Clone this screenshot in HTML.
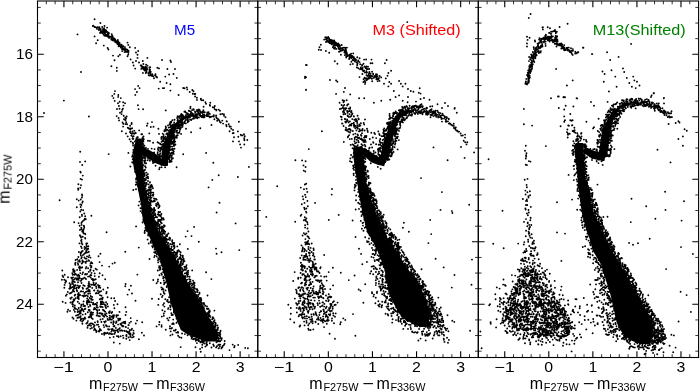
<!DOCTYPE html><html><head><meta charset="utf-8"><style>html,body{margin:0;padding:0;background:#fff;overflow:hidden}svg{display:block}text{will-change:transform}</style></head><body><svg width="700" height="392" viewBox="0 0 700 392"><rect width="700" height="392" fill="#fff"/><g font-family='"Liberation Sans", sans-serif' font-size="15" text-anchor="middle"><text x="184.65" y="35.1" fill="#0000ff" textLength="21.1" lengthAdjust="spacingAndGlyphs">M5</text><text x="416.6" y="35.1" fill="#ff0000" textLength="88.1" lengthAdjust="spacingAndGlyphs">M3 (Shifted)</text><text x="639.2" y="35.1" fill="#008000" textLength="92.7" lengthAdjust="spacingAndGlyphs">M13(Shifted)</text></g><defs><clipPath id="c"><rect x="37.5" y="1.0" width="661.1" height="356.5"/></clipPath></defs><g clip-path="url(#c)"><path d="M137.5 138.5L136.9 139.4L136.4 140.2L135.9 141.1L135.3 142.0L135.1 143.0L134.9 144.0L134.6 145.0L134.4 146.0L134.2 147.0L133.9 148.0L133.7 149.0L133.5 150.0L133.4 151.0L133.4 152.0L133.3 153.0L133.2 154.0L133.2 155.0L133.1 156.0L133.0 157.0L132.9 158.0L132.9 159.0L132.8 160.0L132.9 161.0L133.0 162.0L133.2 163.0L133.3 164.0L133.4 165.0L133.5 166.0L133.7 167.0L133.8 168.0L133.9 169.0L134.2 170.0L134.5 171.0L134.8 172.0L135.1 173.0L135.5 174.0L135.8 175.0L136.1 176.0L136.4 177.0L136.7 178.0L136.8 179.1L136.9 180.1L137.0 181.2L137.1 182.2L137.1 183.3L137.2 184.3L137.3 185.4L137.4 186.4L137.5 187.5L137.7 188.5L137.9 189.5L138.1 190.5L138.3 191.5L138.6 192.4L138.8 193.4L139.0 194.4L139.2 195.4L139.4 196.4L139.6 197.5L139.8 198.6L140.0 199.6L140.2 200.7L140.5 201.8L140.7 202.8L140.9 203.9L141.1 205.0L141.2 206.1L141.3 207.1L141.4 208.2L141.5 209.3L141.6 210.3L141.7 211.4L141.8 212.5L141.9 213.5L142.0 214.6L142.2 215.7L142.4 216.7L142.7 217.8L142.9 218.8L143.1 219.8L143.4 220.9L143.6 221.9L143.8 223.0L144.2 224.0L144.6 225.0L145.0 226.0L145.3 227.0L145.7 228.0L146.1 229.0L146.5 230.0L146.9 231.0L147.3 231.9L147.7 232.9L148.1 233.8L148.5 234.8L148.9 235.7L149.3 236.7L149.8 237.7L150.2 238.6L150.6 239.6L151.0 240.5L151.4 241.5L151.8 242.4L152.2 243.4L152.6 244.3L153.0 245.3L153.4 246.2L153.9 247.1L154.3 248.0L154.8 248.9L155.2 249.8L155.6 250.7L156.1 251.6L156.5 252.5L157.0 253.4L157.4 254.3L157.9 255.2L158.3 256.1L158.7 257.0L159.2 257.9L159.6 258.8L160.1 259.7L160.5 260.6L160.8 261.6L161.0 262.6L161.3 263.7L161.6 264.7L161.8 265.7L162.1 266.7L162.4 267.7L162.6 268.8L162.9 269.8L163.2 270.8L163.4 271.8L163.7 272.8L164.0 273.9L164.2 274.9L164.5 275.9L164.8 276.9L165.1 277.9L165.3 278.9L165.6 279.9L165.9 281.0L166.2 282.0L166.4 283.0L166.7 284.0L167.0 285.0L167.2 286.0L167.4 287.0L167.6 288.0L167.8 289.0L168.0 290.0L168.2 291.0L168.4 292.0L168.7 293.0L168.9 294.0L169.1 295.0L169.3 296.0L169.5 297.0L169.7 298.0L169.9 299.0L170.1 300.0L170.4 301.0L170.7 302.0L171.0 303.0L171.3 304.0L171.6 305.0L171.9 306.0L172.2 307.0L172.6 308.0L172.9 309.0L173.2 310.0L173.5 311.0L173.8 312.0L174.1 313.0L174.4 314.0L174.7 315.0L175.1 315.9L175.5 316.9L175.8 317.8L176.2 318.8L176.6 319.7L177.0 320.6L177.4 321.6L177.8 322.5L178.1 323.4L178.5 324.4L178.9 325.3L179.3 326.2L179.7 327.2L180.0 328.1L180.4 329.1L180.8 330.0L181.7 330.6L182.5 331.1L183.4 331.7L184.2 332.2L185.1 332.8L185.9 333.3L186.8 333.9L187.6 334.4L188.5 335.0L189.5 335.4L190.5 335.8L191.5 336.2L192.5 336.6L193.5 336.9L194.5 337.3L195.5 337.7L196.5 338.1L197.5 338.5L198.5 338.8L199.5 339.2L200.5 339.5L201.5 339.8L202.5 340.2L203.5 340.5L204.5 340.8L205.5 341.2L206.5 341.5L215.5 341.5L215.8 341.2L216.2 340.8L216.5 340.5L216.8 340.2L217.2 339.8L217.5 339.5L217.8 339.2L218.2 338.8L218.5 338.5L218.5 338.1L218.5 337.7L218.5 337.3L218.5 336.9L218.5 336.6L218.5 336.2L218.5 335.8L218.5 335.4L218.5 335.0L218.3 334.4L218.1 333.9L217.8 333.3L217.6 332.8L217.4 332.2L217.2 331.7L216.9 331.1L216.7 330.6L216.5 330.0L215.9 329.1L215.4 328.1L214.8 327.2L214.2 326.2L213.7 325.3L213.1 324.4L212.5 323.4L211.9 322.5L211.4 321.6L210.8 320.6L210.2 319.7L209.7 318.8L209.1 317.8L208.5 316.9L208.0 315.9L207.4 315.0L206.8 314.0L206.2 313.0L205.6 312.0L204.9 311.0L204.3 310.0L203.7 309.0L203.1 308.0L202.5 307.0L201.9 306.0L201.3 305.0L200.7 304.0L200.0 303.0L199.4 302.0L198.8 301.0L198.2 300.0L197.6 299.0L197.0 298.0L196.5 297.0L195.9 296.0L195.3 295.0L194.7 294.0L194.1 293.0L193.6 292.0L193.0 291.0L192.4 290.0L191.8 289.0L191.2 288.0L190.7 287.0L190.1 286.0L189.5 285.0L188.8 284.0L188.2 283.0L187.5 282.0L186.8 281.0L186.2 279.9L185.5 278.9L184.8 277.9L184.2 276.9L183.5 275.9L183.1 274.9L182.6 273.9L182.2 272.8L181.7 271.8L181.3 270.8L180.8 269.8L180.4 268.8L179.9 267.7L179.5 266.7L179.0 265.7L178.6 264.7L178.1 263.7L177.7 262.6L177.2 261.6L176.8 260.6L176.3 259.7L175.7 258.8L175.2 257.9L174.6 257.0L174.1 256.1L173.5 255.2L173.0 254.3L172.4 253.4L171.9 252.5L171.3 251.6L170.8 250.7L170.2 249.8L169.7 248.9L169.1 248.0L168.6 247.1L168.0 246.2L167.5 245.3L166.9 244.3L166.3 243.4L165.7 242.4L165.1 241.5L164.4 240.5L163.8 239.6L163.2 238.6L162.6 237.7L162.0 236.7L161.4 235.7L160.8 234.8L160.1 233.8L159.5 232.9L158.9 231.9L158.3 231.0L157.7 230.0L157.4 229.0L157.2 228.0L156.9 227.0L156.6 226.0L156.3 225.0L156.1 224.0L155.8 223.0L155.4 221.9L154.9 220.9L154.5 219.8L154.1 218.8L153.6 217.8L153.2 216.7L152.7 215.7L152.3 214.6L151.9 213.5L151.5 212.5L151.2 211.4L150.8 210.3L150.4 209.3L150.0 208.2L149.7 207.1L149.3 206.1L148.9 205.0L148.7 203.9L148.4 202.8L148.2 201.8L147.9 200.7L147.7 199.6L147.4 198.6L147.2 197.5L146.9 196.4L146.7 195.4L146.5 194.4L146.3 193.4L146.1 192.4L145.9 191.5L145.7 190.5L145.5 189.5L145.3 188.5L145.1 187.5L144.9 186.4L144.7 185.4L144.6 184.3L144.4 183.3L144.2 182.2L144.0 181.2L143.9 180.1L143.7 179.1L143.5 178.0L143.4 177.0L143.4 176.0L143.3 175.0L143.3 174.0L143.2 173.0L143.2 172.0L143.1 171.0L143.1 170.0L143.0 169.0L143.0 168.0L142.9 167.0L142.9 166.0L142.9 165.0L142.8 164.0L142.8 163.0L142.8 162.0L142.7 161.0L142.7 160.0L142.7 159.0L142.8 158.0L142.8 157.0L142.8 156.0L142.8 155.0L142.9 154.0L142.9 153.0L142.9 152.0L143.0 151.0L143.0 150.0L143.0 149.0L142.9 148.0L142.9 147.0L142.8 146.0L142.8 145.0L142.8 144.0L142.7 143.0L142.7 142.0L142.1 141.1L141.6 140.2L141.1 139.4L140.5 138.5ZM139.8 153.3L140.8 153.8L141.8 154.3L142.8 154.8L143.7 155.2L144.7 155.7L145.4 156.1L146.0 156.6L146.9 157.3L147.7 157.9L148.6 158.6L149.5 159.2L150.2 159.8L151.1 160.3L152.1 160.9L153.0 161.5L154.0 162.1L155.0 162.7L156.3 163.5L157.7 164.1L158.7 164.4L159.8 164.8L160.8 165.1L161.8 165.4L163.2 165.9L164.6 166.0L165.7 166.0L166.7 166.0L167.7 166.0L168.3 161.0L167.3 160.8L166.3 160.5L165.4 160.3L164.8 160.1L164.2 159.7L163.2 159.2L162.2 158.8L161.3 158.3L160.3 157.8L159.7 157.5L159.2 156.9L158.3 156.2L157.5 155.5L156.6 154.7L155.7 154.0L154.8 153.2L153.7 152.6L152.7 152.1L151.8 151.6L150.8 151.1L149.8 150.6L148.6 149.9L147.3 149.4L146.3 149.1L145.2 148.8L144.2 148.4L143.2 148.1L142.2 147.7ZM168.0 162.2L168.1 161.2L168.2 160.2L168.3 159.2L168.4 158.2L168.6 157.2L168.7 156.2L168.8 155.2L168.9 154.2L169.0 153.4L169.1 152.6L169.3 151.6L169.5 150.6L169.6 149.6L169.8 148.6L170.0 147.6L170.1 146.6L170.3 145.6L170.4 144.9L170.6 144.2L170.9 143.2L171.2 142.2L171.5 141.1L171.9 140.1L172.2 139.1L172.5 138.1L172.7 137.2L173.1 136.3L173.5 135.2L173.8 134.2L174.2 133.1L174.6 132.1L175.0 131.0L175.4 130.0L175.7 129.1L176.2 128.4L176.7 127.5L177.3 126.7L177.9 125.8L178.5 125.0L179.0 124.1L179.6 123.3L180.0 122.6L180.7 122.1L181.5 121.5L182.3 120.9L183.2 120.3L184.0 119.7L184.9 119.1L185.7 118.5L186.4 117.9L187.3 117.5L188.3 117.1L189.3 116.6L190.3 116.2L191.2 115.8L192.2 115.3L193.2 114.9L194.1 114.5L195.0 114.4L196.0 114.3L197.0 114.2L198.0 114.1L199.0 113.9L200.0 113.8L201.0 113.7L202.0 113.6L202.0 113.5L201.0 113.5L200.0 113.5L199.0 113.5L198.0 113.5L197.0 113.5L196.0 113.5L195.0 113.5L193.9 113.5L192.8 113.8L191.8 114.2L190.8 114.5L189.7 114.8L188.7 115.1L187.7 115.4L186.7 115.7L185.6 116.1L184.6 116.7L183.6 117.2L182.7 117.7L181.8 118.2L180.9 118.7L180.0 119.2L179.1 119.7L178.0 120.4L177.1 121.4L176.5 122.1L175.8 122.9L175.1 123.7L174.4 124.5L173.8 125.2L173.1 126.0L172.3 126.9L171.6 128.0L171.0 129.0L170.4 129.9L169.8 130.9L169.2 131.8L168.5 132.8L167.9 133.7L167.3 134.8L166.8 135.9L166.3 136.9L165.9 137.9L165.5 138.9L165.0 139.8L164.6 140.8L164.2 141.8L163.6 143.1L163.4 144.4L163.2 145.4L163.0 146.4L162.9 147.4L162.7 148.4L162.5 149.4L162.4 150.4L162.2 151.4L162.0 152.6L162.0 153.8L162.0 154.8L162.0 155.8L162.0 156.8L162.0 157.8L162.0 158.8L162.0 159.8L162.0 160.8L162.0 161.8ZM355.5 146.5L355.0 147.5L354.5 148.5L354.0 149.5L353.5 150.5L353.5 151.6L353.4 152.7L353.4 153.8L353.3 154.9L353.3 156.0L353.4 157.0L353.6 158.0L353.7 159.0L353.8 160.0L354.0 161.0L354.1 162.0L354.2 163.0L354.4 164.0L354.5 165.0L354.7 166.0L354.8 167.0L355.0 168.0L355.1 169.0L355.3 170.0L355.4 171.0L355.6 172.0L355.7 173.0L355.9 174.0L356.0 175.0L356.2 176.0L356.3 177.0L356.5 178.0L356.6 179.0L356.8 180.0L356.9 181.0L357.1 182.0L357.2 183.0L357.4 184.0L357.6 185.0L357.7 186.0L357.9 187.0L358.0 188.0L358.1 189.0L358.3 190.0L358.4 191.0L358.6 192.0L358.8 193.0L358.9 194.0L359.1 195.0L359.2 196.0L359.4 197.0L359.6 198.0L359.8 199.0L360.0 200.0L360.2 201.0L360.4 202.0L360.6 203.0L360.8 204.0L360.9 205.0L361.1 206.0L361.3 207.0L361.5 208.0L361.7 209.0L361.9 210.0L362.1 211.0L362.3 212.0L362.5 213.0L362.7 214.0L362.9 215.0L363.2 216.0L363.4 217.0L363.6 218.0L363.9 219.0L364.1 220.0L364.4 221.0L364.6 222.0L364.8 223.0L365.1 224.0L365.3 225.0L365.6 226.0L365.8 227.0L366.0 228.0L366.3 229.0L366.5 230.0L367.0 230.9L367.5 231.8L368.0 232.7L368.5 233.6L369.0 234.5L369.5 235.5L370.0 236.4L370.5 237.3L371.0 238.2L371.5 239.1L372.0 240.0L372.5 240.9L372.9 241.9L373.4 242.8L373.9 243.8L374.3 244.7L374.8 245.6L375.3 246.6L375.8 247.5L376.2 248.4L376.7 249.4L377.2 250.3L377.6 251.2L378.1 252.2L378.6 253.1L379.0 254.1L379.5 255.0L379.8 256.0L380.2 257.0L380.5 258.0L380.8 259.0L381.2 260.0L381.5 261.0L381.8 262.0L382.2 263.0L382.5 264.0L382.8 265.0L383.2 266.0L383.5 267.0L383.8 268.0L384.2 269.0L384.5 270.0L384.7 271.0L384.9 272.0L385.1 273.0L385.3 274.0L385.5 275.0L385.7 276.0L385.9 277.0L386.1 278.0L386.3 279.0L386.5 280.0L386.7 281.0L386.9 282.0L387.1 283.0L387.3 284.0L387.5 285.0L387.6 286.0L387.8 287.0L387.9 288.0L388.0 289.0L388.1 290.0L388.2 291.0L388.4 292.0L388.5 293.0L389.0 294.0L389.5 295.0L390.0 296.0L390.5 297.0L391.0 298.0L391.5 299.0L392.0 300.0L392.5 301.0L393.0 302.0L393.5 303.0L394.0 304.0L394.5 305.0L395.0 306.0L395.5 307.0L396.0 308.0L396.6 309.0L397.2 310.0L397.8 311.0L398.3 312.0L398.9 313.0L399.5 314.0L400.2 314.8L401.0 315.5L401.8 316.2L402.5 317.0L403.2 317.8L404.0 318.5L404.8 319.2L405.5 320.0L406.5 320.5L407.5 321.0L408.5 321.5L409.5 322.0L410.5 322.5L411.5 323.0L412.5 323.5L413.5 324.0L414.5 324.4L415.5 324.9L416.5 325.3L417.5 325.7L418.5 326.1L419.5 326.6L420.5 327.0L424.5 327.0L424.8 326.6L425.1 326.1L425.4 325.7L425.6 325.3L425.9 324.9L426.2 324.4L426.5 324.0L426.7 323.5L426.9 323.0L427.1 322.5L427.2 322.0L427.4 321.5L427.6 321.0L427.8 320.5L428.0 320.0L428.1 319.2L428.2 318.5L428.4 317.8L428.5 317.0L428.6 316.2L428.8 315.5L428.9 314.8L429.0 314.0L428.9 313.0L428.8 312.0L428.8 311.0L428.7 310.0L428.6 309.0L428.5 308.0L428.2 307.0L427.9 306.0L427.6 305.0L427.2 304.0L426.9 303.0L426.6 302.0L426.3 301.0L426.0 300.0L425.6 299.0L425.1 298.0L424.7 297.0L424.3 296.0L423.9 295.0L423.4 294.0L423.0 293.0L422.6 292.0L422.2 291.0L421.9 290.0L421.5 289.0L421.1 288.0L420.8 287.0L420.4 286.0L420.0 285.0L419.2 284.0L418.4 283.0L417.6 282.0L416.8 281.0L416.0 280.0L415.2 279.0L414.4 278.0L413.6 277.0L412.8 276.0L412.0 275.0L411.2 274.0L410.4 273.0L409.6 272.0L408.8 271.0L408.0 270.0L407.4 269.0L406.7 268.0L406.1 267.0L405.5 266.0L404.8 265.0L404.2 264.0L403.6 263.0L402.9 262.0L402.3 261.0L401.7 260.0L401.0 259.0L400.4 258.0L399.8 257.0L399.1 256.0L398.5 255.0L397.9 254.1L397.2 253.1L396.6 252.2L396.0 251.2L395.4 250.3L394.8 249.4L394.1 248.4L393.5 247.5L392.9 246.6L392.2 245.6L391.6 244.7L391.0 243.8L390.4 242.8L389.8 241.9L389.1 240.9L388.5 240.0L388.0 239.1L387.5 238.2L387.0 237.3L386.5 236.4L386.0 235.5L385.5 234.5L385.0 233.6L384.5 232.7L384.0 231.8L383.5 230.9L383.0 230.0L382.6 229.0L382.2 228.0L381.8 227.0L381.4 226.0L381.0 225.0L380.6 224.0L380.2 223.0L379.8 222.0L379.3 221.0L378.9 220.0L378.5 219.0L378.1 218.0L377.7 217.0L377.3 216.0L376.9 215.0L376.5 214.0L376.1 213.0L375.8 212.0L375.4 211.0L375.1 210.0L374.7 209.0L374.3 208.0L374.0 207.0L373.6 206.0L373.2 205.0L372.9 204.0L372.5 203.0L372.2 202.0L371.8 201.0L371.4 200.0L371.1 199.0L370.7 198.0L370.4 197.0L370.0 196.0L369.7 195.0L369.5 194.0L369.2 193.0L369.0 192.0L368.7 191.0L368.4 190.0L368.2 189.0L367.9 188.0L367.6 187.0L367.4 186.0L367.1 185.0L366.9 184.0L366.6 183.0L366.3 182.0L366.1 181.0L365.8 180.0L365.6 179.0L365.3 178.0L365.2 177.0L365.1 176.0L365.0 175.0L364.9 174.0L364.8 173.0L364.7 172.0L364.6 171.0L364.5 170.0L364.4 169.0L364.3 168.0L364.2 167.0L364.1 166.0L364.0 165.0L363.9 164.0L363.8 163.0L363.7 162.0L363.6 161.0L363.4 160.0L363.3 159.0L363.2 158.0L363.1 157.0L363.0 156.0L363.2 154.9L363.4 153.8L363.6 152.7L363.8 151.6L364.0 150.5L363.4 149.5L362.8 148.5L362.1 147.5L361.5 146.5ZM361.1 152.8L361.9 153.6L362.7 154.3L363.5 155.0L364.3 155.8L365.0 156.5L365.8 157.2L366.6 158.0L367.4 158.7L368.2 159.4L368.9 160.2L369.7 160.9L370.9 161.9L372.2 162.5L373.3 162.9L374.3 163.4L375.4 163.8L376.4 164.2L377.7 164.7L378.9 165.1L379.9 165.3L381.0 165.6L382.0 165.8L383.0 166.1L384.1 166.3L385.9 160.7L385.0 160.2L384.0 159.8L383.0 159.4L382.1 159.0L381.1 158.6L380.3 158.3L379.6 157.8L378.6 157.2L377.7 156.6L376.7 156.1L375.8 155.5L375.1 155.1L374.6 154.8L373.7 154.2L372.8 153.6L372.0 153.0L371.1 152.4L370.2 151.8L369.3 151.2L368.4 150.6L367.5 150.0L366.6 149.4L365.8 148.8L364.9 148.2ZM388.4 160.8L388.5 159.8L388.7 158.8L388.8 157.8L388.9 156.8L389.1 155.8L389.2 154.8L389.3 153.7L389.4 152.8L389.6 151.8L389.8 150.8L390.0 149.8L390.2 148.8L390.4 147.8L390.6 146.8L390.8 145.8L391.0 144.8L391.2 144.0L391.4 143.3L391.6 142.3L391.9 141.3L392.2 140.3L392.5 139.3L392.7 138.3L393.0 137.4L393.3 136.4L393.6 135.4L393.8 134.5L394.1 133.5L394.4 132.4L394.8 131.4L395.1 130.3L395.5 129.3L395.8 128.2L396.1 127.2L396.5 126.1L396.7 125.3L397.0 124.7L397.5 123.8L397.9 122.9L398.4 122.0L398.9 121.1L399.4 120.2L399.8 119.3L400.3 118.4L400.8 117.5L401.0 116.9L401.5 116.5L402.3 115.8L403.2 115.1L404.0 114.4L404.9 113.7L405.7 113.0L406.4 112.4L407.2 112.2L408.2 112.0L409.1 111.7L410.1 111.5L411.1 111.2L412.1 111.0L413.1 110.7L414.0 110.5L415.0 110.4L416.0 110.4L417.0 110.3L418.0 110.2L419.0 110.2L420.0 110.1L421.0 110.1L421.0 109.9L420.0 109.9L419.0 109.8L418.0 109.8L417.0 109.7L416.0 109.6L415.0 109.6L414.0 109.5L412.9 109.6L411.9 109.8L410.9 109.9L409.9 110.0L408.9 110.1L407.8 110.3L406.8 110.4L405.6 110.6L404.5 111.1L403.5 111.6L402.5 112.0L401.5 112.5L400.5 112.9L399.5 113.4L398.2 114.1L397.3 115.2L396.6 116.0L396.0 116.8L395.4 117.6L394.7 118.4L394.1 119.2L393.4 120.0L392.8 120.8L392.1 121.6L391.3 122.7L390.8 124.0L390.3 125.0L389.9 126.0L389.4 127.0L389.0 128.0L388.5 129.0L388.1 130.0L387.7 131.1L387.2 132.1L386.8 133.2L386.4 134.1L386.1 135.1L385.7 136.0L385.3 137.0L385.0 137.9L384.6 138.9L384.2 139.8L383.9 140.8L383.4 142.0L383.2 143.2L383.0 144.2L382.8 145.2L382.6 146.2L382.4 147.2L382.2 148.2L382.0 149.2L381.8 150.2L381.6 151.2L381.3 152.3L381.1 153.2L380.8 154.2L380.6 155.2L380.3 156.2L380.1 157.2L379.8 158.2L379.6 159.2ZM576.0 143.0L575.6 144.0L575.2 145.0L574.9 146.0L574.5 147.0L574.5 148.0L574.6 149.0L574.6 150.0L574.6 151.0L574.7 152.0L574.7 153.0L574.8 154.0L575.0 155.0L575.1 156.0L575.3 157.0L575.4 158.0L575.6 159.0L575.7 160.0L575.8 161.0L575.9 162.0L576.0 163.0L576.1 164.0L576.2 165.0L576.3 166.0L576.4 167.0L576.5 168.0L576.6 169.0L576.7 170.0L576.8 171.0L576.9 172.0L577.0 173.0L577.1 174.0L577.2 175.0L577.3 176.0L577.4 177.0L577.5 178.0L577.6 179.0L577.7 180.0L577.8 181.0L577.9 182.0L578.0 183.0L578.1 184.0L578.2 185.0L578.3 186.0L578.5 187.0L578.6 188.0L578.7 189.0L578.8 190.0L578.9 191.0L579.0 192.0L579.1 193.0L579.2 194.0L579.3 195.0L579.4 196.0L579.5 197.0L579.7 198.0L579.8 199.0L580.0 200.0L580.1 201.0L580.3 202.0L580.4 203.0L580.6 204.0L580.7 205.0L580.8 206.0L581.0 207.0L581.1 208.0L581.3 209.0L581.4 210.0L581.6 211.0L581.7 212.0L581.9 213.0L582.0 214.0L582.3 215.0L582.5 216.0L582.8 217.0L583.1 218.0L583.3 219.0L583.6 220.0L583.9 221.0L584.1 222.0L584.4 223.0L584.7 224.0L585.0 225.0L585.2 226.0L585.5 227.0L585.8 228.0L586.0 229.0L586.3 230.0L586.7 231.0L587.0 232.0L587.4 233.0L587.8 234.0L588.1 235.0L588.5 236.0L588.9 237.0L589.3 238.0L589.6 239.0L590.0 240.0L590.2 241.0L590.5 242.0L590.8 243.0L591.0 244.0L591.2 245.0L591.5 246.0L591.8 247.0L592.0 248.0L592.2 249.0L592.5 250.0L593.0 250.9L593.5 251.8L594.0 252.6L594.5 253.5L595.1 254.4L595.6 255.3L596.1 256.2L596.6 257.1L597.1 257.9L597.6 258.8L598.1 259.7L598.6 260.6L599.2 261.5L599.7 262.4L600.2 263.2L600.7 264.1L601.2 265.0L601.5 266.0L601.8 267.0L602.1 268.0L602.4 269.0L602.7 270.0L603.0 271.0L603.3 272.0L603.7 273.0L604.0 274.0L604.3 275.0L604.6 276.0L604.9 277.0L605.2 278.0L605.5 279.0L605.8 280.0L606.1 281.0L606.4 282.0L606.7 283.0L607.1 284.0L607.4 285.0L607.7 286.0L608.0 287.0L608.3 288.0L608.6 289.0L608.9 290.0L609.2 291.0L609.6 292.0L609.9 293.0L610.2 294.0L610.5 295.0L610.7 296.0L611.0 297.0L611.2 298.0L611.4 299.0L611.7 300.0L611.9 301.0L612.1 302.0L612.3 303.0L612.6 304.0L612.8 305.0L613.0 306.0L613.3 307.0L613.5 308.0L613.8 309.1L614.0 310.2L614.3 311.2L614.6 312.3L614.8 313.4L615.1 314.5L615.3 315.6L615.5 316.6L615.7 317.7L615.9 318.8L616.1 319.9L616.3 320.9L616.5 322.0L616.9 323.0L617.4 324.0L617.8 325.0L618.2 326.0L618.6 327.0L619.1 328.0L619.5 329.0L620.1 329.9L620.8 330.8L621.4 331.6L622.0 332.5L622.6 333.4L623.2 334.2L623.9 335.1L624.5 336.0L625.4 336.6L626.3 337.1L627.2 337.7L628.1 338.2L628.9 338.8L629.8 339.3L630.7 339.9L631.6 340.4L632.5 341.0L633.5 341.4L634.5 341.8L635.5 342.1L636.5 342.5L637.5 342.9L638.5 343.2L639.5 343.6L640.5 344.0L649.5 344.0L649.8 343.6L650.0 343.2L650.2 342.9L650.5 342.5L650.8 342.1L651.0 341.8L651.2 341.4L651.5 341.0L651.6 340.4L651.7 339.9L651.8 339.3L651.9 338.8L652.1 338.2L652.2 337.7L652.3 337.1L652.4 336.6L652.5 336.0L652.6 335.1L652.8 334.2L652.9 333.4L653.0 332.5L653.1 331.6L653.2 330.8L653.4 329.9L653.5 329.0L653.3 328.0L653.0 327.0L652.8 326.0L652.6 325.0L652.4 324.0L652.1 323.0L651.9 322.0L651.5 320.9L651.1 319.9L650.7 318.8L650.2 317.7L649.8 316.6L649.4 315.6L649.0 314.5L648.2 313.4L647.5 312.3L646.8 311.2L646.0 310.2L645.2 309.1L644.5 308.0L643.9 307.0L643.3 306.0L642.8 305.0L642.2 304.0L641.6 303.0L641.0 302.0L640.5 301.0L639.9 300.0L639.3 299.0L638.7 298.0L638.2 297.0L637.6 296.0L637.0 295.0L636.5 294.0L636.0 293.0L635.5 292.0L634.9 291.0L634.4 290.0L633.9 289.0L633.4 288.0L632.9 287.0L632.4 286.0L631.9 285.0L631.4 284.0L630.8 283.0L630.3 282.0L629.8 281.0L629.3 280.0L628.7 279.0L628.1 278.0L627.5 277.0L626.8 276.0L626.2 275.0L625.6 274.0L625.0 273.0L624.4 272.0L623.8 271.0L623.2 270.0L622.6 269.0L621.9 268.0L621.3 267.0L620.7 266.0L620.1 265.0L619.6 264.1L619.0 263.2L618.5 262.4L618.0 261.5L617.4 260.6L616.9 259.7L616.4 258.8L615.8 257.9L615.3 257.1L614.7 256.2L614.2 255.3L613.7 254.4L613.1 253.5L612.6 252.6L612.1 251.8L611.5 250.9L611.0 250.0L610.5 249.0L610.1 248.0L609.6 247.0L609.2 246.0L608.8 245.0L608.3 244.0L607.9 243.0L607.4 242.0L607.0 241.0L606.5 240.0L606.0 239.0L605.4 238.0L604.9 237.0L604.3 236.0L603.8 235.0L603.2 234.0L602.6 233.0L602.1 232.0L601.5 231.0L601.0 230.0L600.6 229.0L600.1 228.0L599.7 227.0L599.2 226.0L598.8 225.0L598.4 224.0L597.9 223.0L597.5 222.0L597.1 221.0L596.6 220.0L596.2 219.0L595.8 218.0L595.3 217.0L594.9 216.0L594.4 215.0L594.0 214.0L593.8 213.0L593.5 212.0L593.2 211.0L593.0 210.0L592.8 209.0L592.5 208.0L592.2 207.0L592.0 206.0L591.8 205.0L591.5 204.0L591.2 203.0L591.0 202.0L590.8 201.0L590.5 200.0L590.2 199.0L590.0 198.0L589.8 197.0L589.5 196.0L589.3 195.0L589.0 194.0L588.8 193.0L588.6 192.0L588.3 191.0L588.1 190.0L587.9 189.0L587.6 188.0L587.4 187.0L587.2 186.0L586.9 185.0L586.7 184.0L586.5 183.0L586.2 182.0L586.0 181.0L585.8 180.0L585.5 179.0L585.3 178.0L585.2 177.0L585.1 176.0L585.0 175.0L584.9 174.0L584.8 173.0L584.7 172.0L584.6 171.0L584.5 170.0L584.4 169.0L584.3 168.0L584.2 167.0L584.1 166.0L584.0 165.0L583.9 164.0L583.8 163.0L583.7 162.0L583.6 161.0L583.5 160.0L583.4 159.0L583.3 158.0L583.2 157.0L583.2 156.0L583.1 155.0L583.0 154.0L582.9 153.0L583.1 152.0L583.3 151.0L583.5 150.0L583.6 149.0L583.8 148.0L584.0 147.0L583.6 146.0L583.2 145.0L582.9 144.0L582.5 143.0ZM582.5 152.1L583.4 152.8L584.4 153.4L585.3 154.1L586.3 154.8L587.3 155.6L588.4 156.2L589.3 156.8L590.3 157.4L591.3 158.0L592.5 158.7L593.8 159.0L594.8 159.3L595.8 159.6L596.8 159.8L597.9 160.1L599.1 160.4L600.3 160.5L601.4 160.6L602.4 160.7L603.4 160.8L604.4 160.9L605.6 155.1L604.6 154.8L603.6 154.5L602.6 154.2L601.7 153.9L600.9 153.6L600.1 153.3L599.2 152.9L598.2 152.4L597.2 152.0L596.2 151.6L595.5 151.3L594.7 151.0L593.7 150.6L592.7 150.2L591.6 149.8L590.7 149.4L589.7 149.0L588.7 148.5L587.6 148.0L586.6 147.4L585.5 146.9ZM608.0 157.0L607.9 156.0L607.9 155.0L607.8 154.0L607.7 153.0L607.6 152.0L607.6 151.0L607.5 150.2L607.6 149.5L607.7 148.5L607.8 147.5L608.0 146.5L608.1 145.5L608.2 144.5L608.3 143.5L608.4 142.5L608.6 141.5L608.6 140.7L608.8 139.8L608.9 138.8L609.1 137.8L609.3 136.8L609.4 135.8L609.6 134.8L609.7 133.8L609.9 132.7L610.1 131.7L610.2 130.9L610.4 130.1L610.7 129.1L611.0 128.1L611.3 127.1L611.6 126.1L611.9 125.1L612.2 124.0L612.5 123.0L612.8 122.0L613.0 121.3L613.3 120.6L613.7 119.6L614.2 118.7L614.6 117.7L615.0 116.8L615.4 115.8L615.9 114.9L616.3 114.0L616.6 113.3L617.0 112.7L617.7 111.9L618.3 111.1L619.0 110.4L619.7 109.6L620.3 108.8L621.0 108.0L621.5 107.3L622.4 107.0L623.3 106.5L624.3 106.0L625.3 105.6L626.3 105.1L627.3 104.6L628.2 104.2L629.2 103.7L630.1 103.3L631.0 103.2L632.0 103.0L633.0 102.9L634.0 102.8L635.0 102.6L636.0 102.5L637.0 102.4L638.0 102.3L639.0 102.1L639.0 102.0L638.0 102.1L637.0 102.1L636.0 102.1L635.0 102.2L634.0 102.2L633.0 102.2L632.0 102.2L631.0 102.3L629.9 102.3L628.8 102.7L627.8 103.1L626.7 103.4L625.7 103.8L624.7 104.1L623.7 104.5L622.7 104.9L621.6 105.2L620.5 105.7L619.5 106.4L618.7 107.0L617.8 107.5L617.0 108.1L616.2 108.7L615.3 109.3L614.5 109.9L613.4 110.7L612.7 111.8L612.0 112.7L611.4 113.5L610.8 114.3L610.2 115.1L609.6 116.0L608.9 116.8L608.3 117.6L607.6 118.7L607.1 120.0L606.7 121.0L606.3 122.0L605.9 122.9L605.5 123.9L605.1 124.9L604.7 125.9L604.3 126.9L603.9 127.9L603.4 129.1L603.1 130.3L602.9 131.3L602.6 132.2L602.3 133.2L602.1 134.2L601.8 135.2L601.6 136.2L601.3 137.2L601.0 138.2L600.8 139.3L600.6 140.5L600.5 141.5L600.4 142.5L600.2 143.5L600.1 144.5L600.0 145.5L599.9 146.5L599.8 147.5L599.6 148.5L599.5 149.8L599.4 151.0L599.4 152.0L599.3 153.0L599.2 154.0L599.1 155.0L599.1 156.0L599.0 157.0Z" fill="#000"/><path d="M0 0m530.6 14h0m-436 5.3h0m434.2-1.4h0m-436 8.1h0m.5-.2h0m7.1-2.8h0m4.1 3h0m302.8-3.9h0m160.3 1.6h0m-473 3.3h0m.9 .1h0m1.1 .7h0m.5 1.1h0m.6-1.8h0m1.2 2.9h0m.2-1.3h0m.1-.8h0m0 1.7h0m.2-2.3h0m.6 5.6h0m.5-.8h0m.1-2.6h0m.2-.5h0m.1 2.3h0m.1 1.4h0m.2-1.7h0m.1 .5h0m.4 .2h0m.4 .6h0m.1-5.3h0m.2 4.1h0m.2 1.2h0m.2-.5h0m0-2.7h0m.5 2.6h0m0 .3h0m.1-1.8h0m.2-.5h0m0 2.6h0m0-1.5h0m.4 1.1h0m.1-2h0m0-1.6h0m0 1.4h0m.1 2.2h0m0-1.1h0m0 .6h0m.2-1.4h0m.2 .7h0m0-.9h0m.2 3.2h0m.3-2.9h0m.1 2.7h0m.1-2.4h0m.3 .2h0m0 1.8h0m.1-1h0m.1 .1h0m0-1.4h0m.3 1.8h0m.1-1.2h0m.7 1h0m0 .2h0m.2-4.3h0m.9 4.8h0m434.5-5h0m.4 2h0m0-2.2h0m4.8 .1h0m1.4 5.6h0m.1 0h0m.8-4.6h0m1.1 3.4h0m1.6-.1h0m.6-.5h0m1-.1h0m.7-1h0m.8 1.7h0m1 .1h0m2.8-4.8h0m-482.1 7.4h0m17.1 2h0m7.9-3.4h0m1 1.4h0m.8 1.2h0m.5-1.9h0m0-.6h0m.1 2.6h0m.7-1.3h0m.1 .6h0m.5 .9h0m.6 0h0m.6-1.4h0m.1 2.1h0m.1-2.4h0m.6 1.3h0m.1-.3h0m.2 1.4h0m.1-.8h0m0-2.1h0m.4-.4h0m0 3.1h0m.1 1.5h0m.4-1.3h0m1.3 .1h0m.5 .2h0m0 1.7h0m0-.6h0m.4-3.9h0m.2 1h0m0 2.4h0m.6 .8h0m.2-1.9h0m.3 2.3h0m.6-.5h0m.9 .5h0m210.7-1.2h0m.9-.3h0m1 .9h0m0 .6h0m1.1-1.8h0m.5 .9h0m.4 .8h0m0-.2h0m197.9-1.6h0m2.6 1h0m9.8 .3h0m1.7 .7h0m1.8-.1h0m.4 .2h0m.1-1.3h0m.9 1.1h0m.5-.4h0m.3-1.4h0m.2-1.2h0m.1 2h0m.1-.5h0m.3 .2h0m.1-2.6h0m.1 1.2h0m.4 2.9h0m.3-.6h0m1.2-1.7h0m.1 .8h0m0 .3h0m.3-.7h0m.1 .3h0m0-.4h0m.6-.3h0m0 1.9h0m.3-.5h0m.2-.4h0m.2 .7h0m.4-.9h0m.1 .1h0m.4-4h0m.1 3.3h0m.1 1.3h0m.1 .1h0m.4-4.3h0m0 3.5h0m.1-1.4h0m0 1.2h0m1.3-.6h0m.2-.2h0m2.1 1.7h0m.2-.3h0m.4 .9h0m0-2.7h0m.1 1.9h0m.1-4.6h0m.3 4.2h0m.5 0h0m.5-1.3h0m-461 7.1h0m1.6-3h0m13.6-.8h0m1.2 .7h0m.9-.7h0m.5 1h0m.3-1.5h0m.1 1.2h0m.8-.8h0m.1 2.6h0m.2-1.8h0m.2 1.4h0m.6 .6h0m.7-1.1h0m.1 1.8h0m.2 .5h0m.2 .6h0m.1-.8h0m.3-3.2h0m.2 2h0m.1-.5h0m.3 .1h0m.2 2.8h0m.2-1.8h0m.1 2.4h0m.6-2h0m.2 1.8h0m0-1.5h0m1.9 1.4h0m5.9-2.1h0m.8 2.3h0m192.5-.2h0m3.4-5.1h0m1.8 2.4h0m0-2.6h0m1-.3h0m.1 1.4h0m.5 .8h0m.1 0h0m.8 .9h0m.2-1.1h0m.3-1.3h0m.7 1.4h0m.1-1.7h0m.1 3.7h0m.2-.6h0m0 .5h0m0-3h0m.1 3.1h0m.1-2.3h0m.2 .1h0m.6 2.5h0m.1-3.5h0m0 2.5h0m.4 1.3h0m.3 .6h0m.1-2.9h0m.2 1.8h0m.2-.3h0m.2-2.6h0m.3 .3h0m.5 2h0m.2 1.1h0m.1-.1h0m.3 .2h0m0-1.6h0m.2-1.8h0m.2 2.7h0m0 .1h0m.2 1.5h0m.1-3h0m.1 1.2h0m.5 1.5h0m.4 .5h0m.2-2.2h0m.7 1h0m.3-.2h0m.7 1.2h0m.2-.9h0m.4-.4h0m1.1 1.2h0m187.7-1.3h0m.6-3.5h0m7.3 .6h0m.2 1.1h0m2.5 2.2h0m.3 .3h0m.2-.6h0m.1 1.5h0m.9-5.4h0m.1 3.3h0m.4-.8h0m.7-.2h0m.1-1.7h0m.3 .9h0m.3 1.4h0m.6-.8h0m.1 .7h0m0-2.9h0m.2-.2h0m.3 4.9h0m1.4-2.4h0m.2 .5h0m.2-3.1h0m.3 .8h0m.1 1.7h0m.9-2.3h0m.2 4.5h0m.1-2.3h0m1.9-1.9h0m.3-.2h0m.2 .9h0m.8 .2h0m.3-.6h0m.6 1.5h0m.3-1.2h0m1.7 .2h0m.3-.9h0m.7 .8h0m.2-.7h0m.1 2.6h0m.2-1.2h0m0 1h0m0-.6h0m.3-.8h0m.8 .5h0m.4 .3h0m.1 2.2h0m0-3.9h0m.5 .6h0m.2-.6h0m.3-.5h0m.6 5h0m.1-.8h0m0-1.9h0m0-2.1h0m.1 .3h0m.7-.4h0m.2 2h0m0-.3h0m.1 2.4h0m0-2.6h0m0 2.7h0m.2 .4h0m.1 .7h0m0 .2h0m1.6 0h0m.1-.4h0m.3-.7h0m.8 .5h0m.5-.8h0m.5 1h0m.6 0h0m68.8-.6h0m-527.3 1.7h0m3.8 2.3h0m.8 1.6h0m10.2-3.3h0m.8-.6h0m.1-.5h0m.4 .5h0m.4 .6h0m.5 1.4h0m.2-2.5h0m.7 1.6h0m.3 2.2h0m.2 .3h0m.2-3.1h0m.2 1.5h0m.4-1.2h0m.2 2.3h0m.2-2.5h0m.6 3.6h0m.1-1h0m.1 .8h0m.8-2.5h0m.2 3.2h0m.6-1.3h0m1.6 .7h0m1.2 1.3h0m1.2-3.8h0m5.4 .7h0m3 3.1h0m180.6-1.2h0m.7-2.6h0m1.5 2.8h0m4.9 1h0m7-3.7h0m.6-1.4h0m.5 2.5h0m.4-3.1h0m.5 3.4h0m.2-1.4h0m1.3 1.6h0m.9-3.1h0m.4 .7h0m.6 .2h0m.2-1.3h0m.2 3h0m.4 .7h0m.1-2.9h0m0 .7h0m0-.2h0m.1 2.4h0m0-3.6h0m.4 3.7h0m.1-2.4h0m.1-1.1h0m0 3.9h0m.2-.8h0m.8-.7h0m.1 2.7h0m.7-5.8h0m.1 3.1h0m.1 .4h0m.2 2h0m.1-.9h0m.2-.2h0m0 .6h0m.5-.1h0m.2-2.2h0m.8 2.3h0m.6-2.4h0m.4 2.8h0m.5-2.3h0m.1-.2h0m.2 2.3h0m.1-.7h0m.5 1.4h0m.6-3.3h0m180.1-1.1h0m6.7 .7h0m.2 1.8h0m.9 1.9h0m.7-.7h0m.1-2h0m.4-.5h0m.5 1.2h0m.1 .9h0m.1-2.7h0m.8-.5h0m.3 2.6h0m.1-3.5h0m.4 1h0m.3 1h0m.1 3.2h0m.9-3.8h0m.3 1.2h0m.6-.7h0m.4-1.6h0m0-.2h0m0 1.5h0m.5-.7h0m.9-1.1h0m.2 1h0m3.1-.6h0m10.9 .6h0m2.6-1.1h0m.7-.1h0m1.2 .5h0m.3 2.7h0m.4-.4h0m.3-1.5h0m0 1.8h0m.4-1.9h0m.9 1.5h0m.2-1.4h0m.1 1.9h0m.2 .5h0m.1-.1h0m.3 1.3h0m0-1.7h0m0-.9h0m.1-2.5h0m1.2 5h0m.1-.7h0m.7-1.4h0m.8 .7h0m.4 1.5h0m.3-.5h0m0-1.9h0m.2 2.7h0m.7-.5h0m.1-2.4h0m.1 2.4h0m.5 .9h0m.5 0h0m1.1-2.6h0m.7 2.4h0m1.2 .1h0m0-1.7h0m10.1-1.4h0m.4 0h0m-470.4 7.9h0m5.3 .7h0m1.6-1.5h0m2.3-3.7h0m2.4 .9h0m1.1-.7h0m.1 .4h0m1-.4h0m.3 .4h0m.4 4.6h0m.8-1.8h0m.1-1.9h0m0-1.6h0m7.6 1.5h0m1.5 2.3h0m191.7-2h0m9.8-1h0m.7-.2h0m1.2 3.1h0m3.5-2.2h0m.3-.7h0m.1 3.3h0m.1-3.2h0m.7 0h0m.1 1.3h0m.4-.1h0m0 .7h0m.1 2.6h0m.1-4.3h0m0 1.4h0m.2 .7h0m.3-1.2h0m0 1.6h0m.5 .5h0m.1-.6h0m.2 1.5h0m.1-.9h0m.4 .3h0m1.4 .2h0m.1 .5h0m.1-1.1h0m0-.4h0m.8 2h0m.3-1.4h0m.3-1.6h0m.7 2.3h0m.8 .4h0m.6-2.9h0m175.9 3.5h0m2.1-2.4h0m.5 1.7h0m.4-.9h0m.3 1.6h0m.5-5h0m.1 .7h0m.4 3.2h0m.4-1.6h0m0 2.8h0m.5-2.4h0m0 .3h0m.2-1.1h0m.5-1.6h0m.2-.4h0m.1 4.9h0m.1-4.6h0m0 2.2h0m0-.1h0m.3 1.8h0m.5-3.4h0m.1 2h0m.3 .6h0m.7-3.7h0m1.5 1h0m.1 .6h0m.9-.7h0m.8 0h0m.3-1.3h0m29 .9h0m.2 0h0m1.2 .7h0m.8 1.4h0m.6 .8h0m2.5-1.8h0m0 .4h0m.1-1.9h0m1.4 1.7h0m.4-.5h0m.7-.5h0m.5 0h0m13.6 1.8h0m.4 0h0m14.8-1.8h0m11.5 4.6h0m-504.1 3.3h0m16.1-.8h0m2.3 3.1h0m3.1-1.5h0m1.5-3.1h0m1.5 4.6h0m3.8-1.5h0m4.6-3.1h0m14.6 2.1h0m8.4 .5h0m.6 1.5h0m163.8-.7h0m11.5-3.7h0m2.8 1.5h0m.3-.3h0m.1-1.3h0m1.7 .6h0m.2 3.7h0m.5-4.5h0m.7 2.7h0m.6 .3h0m0-3h0m.3 .4h0m.1 .7h0m.2-1.3h0m.6 1.2h0m.4 1.2h0m.1 2h0m.5-1.9h0m.2-.3h0m.5 .7h0m.5 2.3h0m.7-5h0m.9 3.9h0m0-.8h0m.1 .7h0m1.3 1h0m0-3.8h0m4.5 1.3h0m2-.1h0m5.4 .1h0m15.1 .4h0m142.4 1.1h0m1-2h0m.7-1.5h0m.4 5h0m.2-2.3h0m.4 .8h0m0 1.4h0m.2-4.4h0m.1 4.1h0m1-4.5h0m.1 3.4h0m0 0h0m.2-2.6h0m0 1h0m.3 .7h0m.2-2.1h0m0-1h0m.5 4.9h0m1.1-3.7h0m74.8 1.7h0m-498.8 6.3h0m5.4 1.5h0m16.8-2.3h0m1.6 3.1h0m5.5-3.2h0m.6 3.5h0m.2-3.4h0m.1 1.4h0m.3-.5h0m.8 1.8h0m.2-.8h0m.3-.4h0m.2-3h0m.8 4.2h0m1-1.3h0m.1 .8h0m.1-1.1h0m.5 1.6h0m0-1.3h0m.1 1.6h0m.1-3.9h0m.3 2.6h0m.1 1.6h0m.4-.9h0m.6-2.3h0m1.9 1.9h0m.8-.3h0m7.2 .6h0m1.6 .6h0m147-3.4h0m.8 .1h0m30.6-1.3h0m13 .6h0m2.4-.5h0m4 3.5h0m.4-2.2h0m.1-.9h0m.3-.8h0m.7 4.7h0m1.9-4h0m.7 3.2h0m.1 1h0m1-3.4h0m.1 .7h0m.6 2.3h0m.8-4.2h0m1 2.7h0m1 .9h0m.1 .7h0m.4 .2h0m.4-1.8h0m1.5 2.4h0m.1-2.1h0m2.6-3.6h0m1.8 0h0m12.5 0h0m144.4 5.3h0m0-2.2h0m.2 1.2h0m0-.3h0m.6-2.3h0m.1 2.5h0m.4-.4h0m.4-1.1h0m.4-2.6h0m0 1.6h0m.1 1.6h0m.1-2.4h0m0 1.2h0m.1-1.8h0m.2 5.2h0m0-3.6h0m.1 3.7h0m0-4.4h0m.1 .8h0m.1 1.5h0m.7-2.4h0m23.2 4.6h0m66.9-.5h0m-542 3.6h0m35.8-1.1h0m26.1 2h0m.8-3.4h0m.4-.5h0m.7 1.4h0m.1 .1h0m.8-.9h0m0 .8h0m.1 2.6h0m.1-3.8h0m.3 2.9h0m.2-2.1h0m.1 2.6h0m.1-1.6h0m.7-1.9h0m1.1 4.1h0m.6-.5h0m.4-1.4h0m0-1.7h0m.4-.2h0m.2 3.7h0m.1-3.4h0m0 1.9h0m.3 2.2h0m.2-1h0m.1-1.2h0m1.6 2.6h0m.2 .7h0m3-.7h0m11.9-5.2h0m1.7 5.5h0m4.4-.5h0m1.5-5h0m185 .3h0m1.7-.1h0m.7 4.8h0m.2-4.3h0m.6 1.1h0m0 .5h0m1.1-.6h0m.6 1.9h0m1.5-1.3h0m0 .3h0m.3 1.1h0m.3-.2h0m0-3.3h0m1.8 5.6h0m.2-1.6h0m.2-4.2h0m.2 3h0m1.2 1.6h0m1.5-1.8h0m1 1.8h0m.1 .6h0m2.8 0h0m1 .3h0m11.4-1.5h0m2.7-2.3h0m136.3 3.9h0m.4-1.8h0m.2 1.9h0m.2-.9h0m0-3.4h0m.1 2.6h0m.1 1.9h0m.1-.6h0m.3-1.5h0m.2 2.1h0m0-4.8h0m.1 1.4h0m.5-1.8h0m.3 1.5h0m.1 0h0m.3 1.9h0m0-.5h0m.3-1.8h0m.3 .4h0m.4-1.5h0m.1-.4h0m71.1 2.2h0m2.1 2.5h0m6.9-3.8h0m12.7 1.8h0m-475.5 3.2h0m1.1 .4h0m.9-.5h0m.9 .7h0m1.5 .4h0m.9 2h0m1-2.8h0m.2 .2h0m1 1.2h0m.5 0h0m.3 .6h0m8.3-.8h0m11.5 1.3h0m128.2-1.3h0m0 1.4h0m1-.7h0m24 2.7h0m6.1 .4h0m23.4-3.3h0m4.1 2.2h0m1-1.5h0m.2 3.1h0m.5-2.7h0m.3 .2h0m.5-.1h0m.2 .9h0m.2-3.9h0m.1 5h0m.6-.7h0m.1-.5h0m.3-3h0m.2-.5h0m.2 2.7h0m.2 .5h0m.1-.1h0m.5-.5h0m.3-.6h0m0-1.6h0m.1 .2h0m.3 2h0m0-1.4h0m.1-1.4h0m.3-.1h0m.7 1.3h0m0 1.2h0m.6-2.2h0m.7 3.1h0m.5-2.4h0m1.2 1.6h0m.6-.7h0m.3-1.3h0m.9 1h0m.4-1.1h0m.1 1.1h0m.4 .6h0m.1 1.7h0m.7-.2h0m.2-.5h0m0-2.3h0m1.2 3h0m.5-1.2h0m.5 2.9h0m0-5h0m.2 .2h0m1.5 1.3h0m4.6 1h0m1.7-2.7h0m138.8 3.2h0m.8-3.7h0m.6-.2h0m.2 1.5h0m.4 1.8h0m0-2.1h0m.1 1.2h0m0 1.9h0m0 1.5h0m0-.4h0m.1-2.2h0m0-1.5h0m.2 3.2h0m.2-3.9h0m0 1.2h0m0 3.6h0m.2-2.1h0m.1-1.1h0m.5-1.8h0m.2 1.7h0m42.8 2.9h0m42.6-3.8h0m11.5 1.3h0m6.4-1.3h0m1.2 3.8h0m-496.2 5.5h0m22-4.2h0m6.4 1.3h0m3.8 1.2h0m167-2.5h0m26 .3h0m1.6 1.9h0m.3-1.6h0m6.9-1h0m5.4-.2h0m6.4 2.7h0m4.4 2.6h0m.9-4.4h0m1.8 1.8h0m8-2.8h0m1.8 2.8h0m1.8 2.6h0m2.7-2.6h0m120-.1h0m.3-1.1h0m.2-1.2h0m.9 2.8h0m.3-.4h0m0 .6h0m.2-.9h0m.8-1.8h0m.5 1h0m.3-1.3h0m38 4.1h0m36.9-3.8h0m12.8 5.1h0m12.7-3.8h0m2.6 3.8h0m5.1-5.1h0m2.5 3.8h0m-524.5 5.6h0m20.1-2h0m1.8 2.9h0m2.7-3.9h0m19.1 .5h0m4.1-.5h0m1.4 0h0m6.2 2.5h0m12.8-2.6h0m1.4 .2h0m2.2-.8h0m.5 2h0m2.4 2.6h0m2.6-2h0m1.2 1.3h0m112.5-1.5h0m0 .2h0m37.8 1.9h0m1.2-3.9h0m48.8 3h0m14.2-2h0m2.8 2h0m2.6 .8h0m5.4 .9h0m.9-4.5h0m189.2 3.2h0m26.8-3.3h0m-523.4 7.8h0m1.2 2.2h0m.8-4.2h0m3.9 3h0m.1-1.9h0m2.5 3.1h0m14.5-3.2h0m43.3 .1h0m14.2-1.3h0m1.8 .3h0m.5 2.5h0m.2-2.5h0m1.6 3.8h0m4 .8h0m135.2-4.7h0m14.1 .5h0m8.9 3.9h0m5.1 0h0m31.4-1.3h0m3.5-1.6h0m8.9 1.6h0m12.6-3.4h0m0 5.4h0m3.4-1h0m127 .3h0m7-1.8h0m.7 0h0m4.7 .8h0m.4-.3h0m1.2 .3h0m11.6 1h0m.6 .1h0m54.3 .2h0m4.7 .4h0m2.5-.3h0m.1 .1h0m1.7-.1h0m10.5-1.7h0m.6-1.6h0m2-2.2h0m.4 0h0m9.8 5.1h0m.2-.3h0m-600.1 2.6h0m50.8 .3h0m3.3 2.3h0m1.7-1.5h0m3.4 .5h0m1.9 1h0m72-3.3h0m3.8-.5h0m.8 .9h0m1.7 0h0m2.1 1.9h0m.6 1.5h0m3.8 1.2h0m.5-2.1h0m129.3-.1h0m2 2.3h0m1-4.8h0m.9 2.1h0m.4-1.6h0m.4 .2h0m0 4h0m2.4-4.7h0m.8 4.4h0m.9-.5h0m25.5-1.4h0m7.4-2h0m8.9-.9h0m12.5 .9h0m4.9 1.6h0m8.4-.7h0m4.4 3.3h0m1.1-.7h0m8-4.4h0m8 4.5h0m7.5-1.3h0m146-1.1h0m16.6 0h0m6.1 2.5h0m1.6-.2h0m1-.5h0m.9-1.3h0m2.4 1.2h0m.4 .4h0m1.4-1.1h0m.3-.2h0m.3 2.2h0m0-4.7h0m.1 2.9h0m.3-2.8h0m.7 .5h0m.1 2.9h0m.1 .7h0m.1 .5h0m0-1.1h0m.1-2.7h0m.3-.6h0m.7 1.9h0m.4 1h0m.3 1.6h0m.1 0h0m.1-1.5h0m.3-.1h0m.4-2.2h0m0 2.8h0m.3-2.4h0m0-1.8h0m.1 1.7h0m.1-1.5h0m.1 3.9h0m0-4.6h0m.3 2.9h0m.5-2.6h0m.1 3.6h0m.1-1.3h0m.1 2.5h0m1.3 .4h0m.1-1.1h0m.4-3.2h0m.1 .2h0m.4 3.7h0m.1-5h0m.1 4.1h0m.5-1.7h0m.3 .9h0m.2-.9h0m.5 .4h0m.2 2.3h0m.1-4.8h0m.2-.4h0m.1 0h0m.4 3.5h0m.6-.6h0m.2-.1h0m.1 .9h0m.2 .9h0m.6-1.3h0m0-2h0m.2 3.2h0m.4-3.9h0m.3 2.9h0m.1-.1h0m.1-.5h0m.1-1.4h0m.5 2.2h0m.4 .7h0m.1-.6h0m.1-2.4h0m.1 4.3h0m.4-4.1h0m.4 1.4h0m.2 .4h0m.1-.4h0m.1 .9h0m.3 1.6h0m.1-.5h0m.1-.4h0m.6 .3h0m.1 .3h0m.1-3.9h0m.7 2.5h0m.1-.1h0m.5 1.5h0m.2-.3h0m.1-1.7h0m.4-.1h0m.3-2.4h0m.1-.4h0m.2 1.9h0m.2 1.3h0m.3-.1h0m.6-1h0m0-.2h0m.2 .6h0m.1 .1h0m.4 2.1h0m.3-1.2h0m0-.7h0m.3-.9h0m.3 3.4h0m.4 0h0m.1-5.2h0m.4 2.6h0m.8-.3h0m.3 2.3h0m.1-2h0m.1-3.2h0m.2 4.4h0m.3-2h0m.2 3.4h0m.2 .1h0m.6-.3h0m.1-.4h0m.1-4.3h0m0 4.8h0m.3-3.5h0m.7 .7h0m.1 1h0m.9 1.7h0m.9-.3h0m.4-2h0m.1 .5h0m.5 .5h0m.4-.8h0m1.4 1.6h0m.4 0h0m2.1-.7h0m2-.1h0m5.2 0h0m-547 5.6h0m1.9-3h0m.6 2.7h0m2.8 1h0m.6-.9h0m.6-3.2h0m14.4-.4h0m.7 3.9h0m4.5 .2h0m22.6 1.1h0m23.1 .3h0m1.6-2.5h0m.1-1.5h0m1.5 3.4h0m1.1-.2h0m.2-.8h0m.5 .3h0m3.2 .6h0m1.3 .9h0m.4-1.5h0m.8 1.3h0m0-.2h0m.3-.3h0m3.6 0h0m.2-3.5h0m6.5-1h0m2.7 1.5h0m1.3 .3h0m.6 1.6h0m.1-3.1h0m1.5 4.4h0m0-.6h0m2.3-.2h0m1.4 1.2h0m119.9-1.8h0m1.5-.4h0m1.4-.9h0m.5-1.8h0m.2 2.4h0m.3 2h0m1.3-2.1h0m.3 1.4h0m.8-1.4h0m1-2.7h0m1.4 3.1h0m1 2.4h0m.5-2.1h0m.1-1.5h0m1.3 3.6h0m47.4-.6h0m.3-.1h0m.2 .3h0m.9-.7h0m1.3 .3h0m.5-.7h0m.1-2.5h0m.3 .4h0m.2 2.9h0m.5-2.2h0m.4 2.7h0m0-.7h0m.8-3.3h0m.7 1.4h0m0-1.3h0m.2 .9h0m.6 2.2h0m.5-3.9h0m.2 .2h0m.3 .2h0m.2 3.7h0m.5-1.9h0m.3 2h0m.7-.8h0m.3-1.4h0m.7-2.3h0m.2 2.5h0m.5 2.5h0m1.2 .2h0m.1-3.6h0m.2 1.7h0m.1-2.5h0m0 1.9h0m.8-2.4h0m.5 1.1h0m.4 2.6h0m.5-3.8h0m.2 .7h0m.1 1.9h0m.1-2.7h0m.8 3.2h0m.1-3.4h0m.1 4.4h0m.3-4.2h0m.2-.2h0m.4 .7h0m.3 .4h0m.1 .8h0m.3 3.3h0m.6-4.5h0m.5 3.1h0m.2-2.2h0m.2 1.3h0m.7-2.4h0m.2 1.4h0m.9-1h0m0 .8h0m.7 3.4h0m.5-.7h0m.2-3.7h0m.5 3h0m.2-2.4h0m.2-.8h0m1.2 3.4h0m.2-1h0m.3 2.4h0m1.5-2.1h0m.4 2.1h0m.1-2.4h0m.1-.8h0m.7 .1h0m2.4 2.5h0m.6-3.9h0m.8 3.1h0m.1 .5h0m.5-1h0m.7-2.8h0m3.3 4.3h0m1.8 0h0m4.6-2.6h0m6-2h0m6.5 2.8h0m.3-.9h0m69.1 1h0m34.9-.9h0m5.4 1.5h0m1.5-3.8h0m7.7 .8h0m20.6-.8h0m14.9 4.7h0m1.6-2.1h0m.1 1.3h0m.6 .8h0m.7-4.8h0m.3 3.5h0m.5 .4h0m.5-2.7h0m.1-1.8h0m.7 5.5h0m0-1.5h0m.6 1.7h0m.3-1.9h0m.9 1.6h0m1.7 .6h0m.2-.1h0m.1-4.2h0m.5 1.6h0m0-.2h0m.3-.8h0m.1 .9h0m.1-1h0m.7 3.6h0m.5-5.1h0m.1 1.4h0m.1 3.4h0m.1-2.9h0m1.6 .3h0m.1 2.7h0m.2-2.1h0m.4-3.1h0m.2 2.6h0m.1 .5h0m.2-3.4h0m0 1.5h0m.1 4.2h0m.1-3.4h0m0 2.4h0m.1-.2h0m.4 .5h0m.4-.4h0m.2-.1h0m.2-2.7h0m.3 .1h0m.1-.9h0m.9 2.1h0m.8-2.9h0m1 .5h0m.1 1.3h0m2.6-.5h0m.6-.4h0m.2 1.5h0m.2-1.4h0m.8-.1h0m.2-1.2h0m1.3 1.3h0m.6-1.1h0m.8 .4h0m.6 2.8h0m2.4-3.2h0m4.3 .3h0m1.5 .7h0m1.8-.1h0m1.2-.6h0m2 1.3h0m.7-1.7h0m.2 .3h0m.1 1h0m.1-1h0m1 .6h0m.1 1.9h0m.6-.9h0m.8-.4h0m1.2-.5h0m.1 2h0m.4-2.5h0m.1-.2h0m.2 3.6h0m.2-1.9h0m.1 3.7h0m.1-4.7h0m.2 2h0m.9-2.3h0m.1 1.5h0m.2-.8h0m.7-.6h0m.1 1.9h0m.8-.6h0m.1 2h0m.1-3.9h0m0 .3h0m.6 1.7h0m0 3h0m.1-.4h0m.5-3.4h0m.7 4.3h0m.2-2.9h0m0 1.4h0m.2-.6h0m1 2.3h0m1-2.8h0m1.3 2.7h0m.2-.3h0m0-.2h0m.3 .3h0m-620.2 2.3h0m44.9 3.5h0m27.8-.4h0m3.3-3.4h0m1.6 1.4h0m.1-2.3h0m2 3.9h0m3 .8h0m50.9-.3h0m.8 .7h0m0-.3h0m1.6-.7h0m.9 .3h0m0-.6h0m.2-1.1h0m.3-.6h0m0 1.4h0m.3 .2h0m.7 1.5h0m.1-2h0m.4 .5h0m1 1h0m.5-4.8h0m.8-.2h0m.6 4.6h0m0-3.6h0m.3 2.5h0m.9-1.7h0m.7 3.7h0m.2-2.5h0m.1-.8h0m0 .5h0m.1 1.1h0m1.4-4.3h0m0 5.5h0m0 .1h0m.3-1.9h0m.2 .3h0m.3-.2h0m.1 .3h0m.3-3.5h0m0 1.8h0m.9 2.1h0m.1 .5h0m0-3.2h0m.4 3.1h0m.5-1.6h0m.4-.1h0m.4 2.1h0m.3-.9h0m.1 .7h0m0 .1h0m1.2 .2h0m0-5h0m.1 3.8h0m.2-2.7h0m.1 3.4h0m.4-1.1h0m.2 2.2h0m.3-2.5h0m.4-.4h0m0 2.4h0m.3-5.2h0m0 4.3h0m.3-.7h0m.1-.2h0m.8-2h0m.5 .7h0m.6 1.6h0m.1-1.7h0m.6 .7h0m0-1h0m.3 2.2h0m.2 .7h0m0-4.2h0m.2 4.7h0m.3-4.2h0m.8 .4h0m.2 3.1h0m.4-2.8h0m.4-1.4h0m.1 5.1h0m0-1.9h0m.1 1.6h0m.7 .5h0m.3-4.6h0m.1 2.6h0m.2 1h0m.5-3.6h0m.1 3.2h0m1.8-.3h0m.1 1h0m.1-2h0m.4-1.6h0m.4 2.6h0m.1 1h0m.2-3.3h0m0 3h0m.6-3.5h0m.3 1.4h0m.5 2.7h0m.4-2.5h0m1.1 2.9h0m1-.2h0m1.3-.5h0m.6 .5h0m0-1.4h0m2.3 .2h0m4.3-1.2h0m1.8-.3h0m1.7 .3h0m.1 1.6h0m116.7 .8h0m.9 .4h0m1.4-5.1h0m0-.1h0m0 0h0m.5 2.5h0m0-.4h0m.7-1.6h0m1.1 1.7h0m1.8-3h0m.4 1.9h0m.1 2.6h0m.1 .5h0m.7-4.6h0m.3 5.4h0m.9-2.5h0m.7 2.6h0m.8-4.7h0m.1 3.8h0m.8-1.5h0m.4-1.1h0m1.4 2.7h0m.1 .5h0m3.7-.8h0m32-1.8h0m0 1.8h0m3.3 .4h0m.1 .1h0m.2-1.4h0m0-1.6h0m.5-.5h0m.5 1.1h0m0-1.3h0m1.3 .4h0m.1 3.7h0m.2-5.2h0m.5 4.6h0m.7-2.1h0m.1 2.4h0m.1-3.4h0m.4 2.1h0m.2 1.3h0m1.1-2.7h0m.2 .9h0m.4-2h0m.5-1.3h0m.1 1.4h0m.2-1.5h0m.1 3.1h0m.2-.2h0m.2 2.5h0m.2-3.3h0m.5-1.9h0m.4 1.7h0m.1 3.2h0m.5-4.7h0m.6 3.6h0m.1-2h0m.3 .5h0m.8 1h0m0-3.3h0m.1 4h0m0-1h0m1.5-.8h0m0-1.6h0m.1-.1h0m.1 3.3h0m.3-1.7h0m.6-.3h0m.3-.8h0m.8-1h0m.2 4.1h0m0 .2h0m.8-2.8h0m.2 .8h0m.4-2.2h0m.3 .8h0m.1 2.7h0m0-2.8h0m1 3.4h0m.3-.3h0m.1-3.7h0m.1 .9h0m.2 3h0m.2-1.1h0m.2-.3h0m.5-3h0m.6 .1h0m.8 1.7h0m.5 .4h0m.5 .7h0m.8-3h0m.3 1.6h0m1.6 .4h0m.1 .9h0m.9-2.3h0m.6 .9h0m0-1.1h0m.5 .5h0m.3 1.3h0m.4-.3h0m.5-.9h0m1.2 1.8h0m.2 .4h0m.1-1.2h0m.5-1.1h0m.5 .3h0m.9-.6h0m.3 0h0m.8 .2h0m.4 1.9h0m.2 .7h0m.1-.7h0m.5-1.5h0m.4 2.5h0m.2-1.5h0m.3 1.3h0m.1-3.1h0m0 1.8h0m.7-1.1h0m.1 1.4h0m.1 .4h0m1.3-2.2h0m.4 .6h0m.3 2.6h0m.3 .1h0m.2 .2h0m.8-.5h0m0-2.9h0m.2 1.2h0m.6 .9h0m.2-1.4h0m.4 3.6h0m0-4.8h0m.1 .8h0m.7-.4h0m.2 1.8h0m.1-1.1h0m.5 3h0m.4-2.5h0m.1-1.8h0m.1 2.2h0m.3 2.3h0m.1-1.4h0m.2 2.5h0m.2-1.4h0m.7-.5h0m.9-2.8h0m.1 4.7h0m.1-.2h0m.6-3.7h0m.3 1.9h0m1.3-1.6h0m.2 2.7h0m.4-.2h0m.5-.2h0m1-1.6h0m.7 1.5h0m1.2 .8h0m1.8 .8h0m10.6-4.1h0m107.4 3.6h0m6.1-2.4h0m35.7 .6h0m.6 2h0m.1-1.9h0m1-2.3h0m.2 3.2h0m.1-.3h0m.1 1.5h0m.3-1.6h0m0-4h0m.9 3.3h0m.7-2.5h0m1 .6h0m.2 .8h0m.3 .4h0m.4 2.2h0m0 0h0m.2 .6h0m.4-3.2h0m.3-1.2h0m.4-1h0m.1 1.4h0m.6 2.3h0m0-.7h0m.3-.4h0m.1 2.9h0m.2-3.6h0m.9 1.4h0m0 2.1h0m.8 0h0m0-1.6h0m.1 .3h0m.1-3.8h0m.1 1.5h0m.6 3.1h0m.5-2.2h0m.1 .8h0m.3 0h0m.2-3.2h0m.2 2.6h0m.4-2.7h0m.2 3.4h0m.2-1.4h0m0 .3h0m.1 1.4h0m.3-1.5h0m.2-2.4h0m.2 1.3h0m.1 4.5h0m.2-5h0m.4 .2h0m.8 1.6h0m1.5-2.7h0m0 0h0m1 .2h0m36.4 .7h0m1.4-.7h0m.4 1h0m.3 .1h0m.8 .7h0m1 1h0m.1-1.8h0m.1 2.7h0m.2-3.5h0m.9 .2h0m.5 1.6h0m.4 1.9h0m1.3 1.8h0m.1-4.8h0m.3 1.2h0m.5 3.5h0m.4-.7h0m.1-2.8h0m.4 0h0m1.3 3.6h0m.2-3.8h0m.4-1.9h0m-552.9 6.7h0m.5 2.4h0m3.5 2.1h0m1.4-3.2h0m1.3-1.8h0m.1 2.7h0m.1-.2h0m.5-1.6h0m.2 3.8h0m5.5 .8h0m20.3-.9h0m18.2 0h0m.9 .4h0m.1-.7h0m1.2-1.6h0m1.8 2.2h0m.3-2.6h0m2.6-1.9h0m.4 2.7h0m.3-.8h0m1.3-2.4h0m.1 .7h0m0 3.7h0m.6 .5h0m.5 .2h0m0 .2h0m.5-4.6h0m.2 1.3h0m.3-.2h0m.1 3.4h0m.1-.6h0m.2-2h0m.2-1.3h0m.1 1.8h0m.1-2.6h0m.2 2.4h0m.4 1.6h0m.1-2.8h0m1.1-1.8h0m.6 .5h0m.4 3.7h0m.3-4.1h0m.1 .9h0m.2 1.9h0m.8-2.5h0m.4-.4h0m.1 .3h0m.3 2h0m.5-1.4h0m.1 2.3h0m0 1.7h0m.1-2.1h0m.1-.3h0m.1 .3h0m.1-2.6h0m.1-.1h0m.5 3.8h0m.6-3.6h0m.6-.4h0m.1 2.4h0m.1-2.6h0m1.1 2.4h0m0 .6h0m1.7-1.2h0m.6-.7h0m.5 .5h0m1.3-.8h0m1.9 .4h0m.6-.8h0m1.1 0h0m2.8-.4h0m1.2 .3h0m.1-.1h0m.9 .1h0m.3-.1h0m.4-.1h0m5.1 .1h0m.1 0h0m4.6 2h0m1.7-2.1h0m.8 1.1h0m.3 2.5h0m1.1-1.5h0m1 1.3h0m.7 1.6h0m.8 .4h0m1.5-1.9h0m3.2-3.3h0m1.1 3.8h0m.3 .5h0m12 .1h0m102.8-2.2h0m3.2-.6h0m.1 0h0m.1 .3h0m.2 2.5h0m.6 .8h0m.8-1.2h0m.4-1.9h0m.1 1.1h0m.5 .3h0m.9 1.7h0m1.3-1.1h0m2.4-2.3h0m1.6 3.6h0m.5-3h0m1.3 1.4h0m.1-2h0m.2 .2h0m.9 1.2h0m.1 1.1h0m1.4-3.2h0m.4 .8h0m4.9 3.7h0m1.3-3.5h0m22.8 3.4h0m.5-.4h0m.8-3.4h0m.7 3.6h0m.1-3.8h0m.1-1.5h0m.3 4.4h0m.7-4.1h0m1.2 3.3h0m.1 .4h0m.2-3h0m.7 .3h0m0 3.9h0m.3-2h0m.6-1.9h0m.2 3.6h0m0-3.7h0m.6 1.1h0m.1 2.6h0m.4-1.5h0m.3-2h0m.2-.4h0m.3 .6h0m0 3.7h0m.1-.1h0m.3-4h0m.6 .3h0m.3 1.4h0m1-2h0m.4 0h0m.1 3.7h0m1.4-.1h0m0 .7h0m.7-1.4h0m.5-1.7h0m.3 2.4h0m.2-1h0m.1 .8h0m.2-4.1h0m.5 4.9h0m.3-2.6h0m.3-1.6h0m0-.1h0m.2-.1h0m.3 1.9h0m.3 .4h0m.2-.1h0m.5-.7h0m1.3-1.3h0m.6-.3h0m.2-.6h0m23.4 0h0m7.7 .1h0m.7-.4h0m1.6 .2h0m.8 .4h0m.2 1.5h0m.5 2.5h0m.1-3.1h0m1.9 .1h0m.9-1.4h0m.8 4.3h0m0-2h0m.5 2.2h0m0-1.6h0m.6-3h0m.1 .9h0m1 3.4h0m.8-2.6h0m.1 .5h0m115.4 2.5h0m.8-1.5h0m5.3 0h0m1.2 .5h0m1.1-.5h0m13.8 1.5h0m12.2-3.1h0m5.4 1.8h0m.1-.4h0m.3 2.8h0m.5-1.1h0m.1 1.2h0m.3-2.3h0m.6-3.3h0m.4 2.1h0m1.3 3.2h0m.3-4.6h0m.3-.6h0m.4-.2h0m.1 1.4h0m.2 3.1h0m.2-2.7h0m.4 1.5h0m.5 1.1h0m.1 .9h0m.4-3.7h0m.5 1h0m.4 1.7h0m.2 .5h0m0-2.8h0m0-.8h0m.1 3.9h0m.1-2.5h0m0 1.5h0m0-.4h0m.8-3.4h0m0 1.1h0m.9-1.3h0m.3 5.3h0m.3-3.6h0m.2-2.1h0m.1 2.1h0m0-2h0m.4 1.6h0m.3 2.7h0m0-.3h0m.6 1.4h0m.1-.8h0m.5-2.9h0m.3 .6h0m.2 3.6h0m.4-2.1h0m.3-1.5h0m.6 1.2h0m.6-1.9h0m51.2-1.2h0m2.1-.4h0m3.7 5.9h0m2.7-1.7h0m1.1 1.2h0m-556.4 4.1h0m.3-2.7h0m2.2 .1h0m1.5 .2h0m.7 3.5h0m1.1 .8h0m.4 .2h0m.8-3h0m.2 2.7h0m1.3-4.4h0m.5 4.2h0m14.8-2.4h0m.7-2.3h0m3.2 3.5h0m2.7-.3h0m4.9 2h0m7.3-.3h0m0-2h0m.3 1.4h0m2-2.3h0m.7 2.1h0m.9-3.4h0m.4-.8h0m.2 3.9h0m0-2.3h0m.4 0h0m0 .5h0m.5 1.3h0m.7 .2h0m.1-1.4h0m.5 1.7h0m.2 1.5h0m.1-4.1h0m.2 2.2h0m.1-2.1h0m.5 .4h0m.2-.8h0m0 1h0m.9 0h0m.3 3.4h0m.4-4.8h0m.1 2.7h0m.2 2.1h0m.5-2.2h0m.1-1.6h0m.7-.8h0m.1 1.1h0m.4 3.1h0m.5-1.4h0m.3-1.6h0m.3-.6h0m.1 .8h0m.1 2.6h0m.4-.7h0m.1-.9h0m.1 0h0m.5-1.3h0m0-.8h0m.3-.3h0m0 .3h0m.4 1.2h0m.1 2.9h0m0-3.1h0m.3 2.1h0m.9-3.4h0m.2 .1h0m.1-.2h0m.1 1.8h0m.3 .9h0m0-2.2h0m.1-1.1h0m.2 .9h0m.1 .4h0m0 0h0m1.5-1.8h0m1.4 .4h0m.2 5.4h0m14.3-.6h0m11.2-3.2h0m11.6-1.4h0m3.1 1.3h0m.4 1.4h0m2.1-2h0m.8 1.9h0m.2 .6h0m1.1-.2h0m.5 2.2h0m110.8-5.3h0m.4 .1h0m1.1 2.4h0m2.3 1.7h0m.1 .3h0m3-2.1h0m.3 3h0m.5 .1h0m.1-4h0m1-.5h0m.4 1h0m.6-1.9h0m1.7-.1h0m.3 2h0m.2-.9h0m0 2.1h0m1-.9h0m.3 2.5h0m.9-1.1h0m.9-1.9h0m0-2.3h0m.3 3.9h0m.3 1.6h0m1.3-2.5h0m.2-1.5h0m.1 .3h0m1 .8h0m.5-2.4h0m1.7 5.8h0m1.6-4.5h0m2.8 4.3h0m17.2-.3h0m2.6-5.4h0m.3 .7h0m0 4.6h0m.6-1.5h0m.4-3h0m.3 1.2h0m0 2.8h0m.3-1.4h0m.1 2.1h0m.7-4.7h0m.3 2.8h0m.1-2.5h0m0 1.4h0m.3 .8h0m.1 1.1h0m.1 1.5h0m.9-5.9h0m.7 1.9h0m.2 3.6h0m0-1.7h0m.5-.6h0m.6-2h0m.4-.2h0m0 0h0m.1 4.7h0m0-5.2h0m.2 4.6h0m.7-5.1h0m0 5.5h0m.3-2.7h0m.6-1.6h0m.2-.2h0m.4 1.2h0m.1 3.2h0m0-4.1h0m.7 3.8h0m.3-3.6h0m0 0h0m1.7 3.9h0m.3-.1h0m.7-4.2h0m.1 3.5h0m0-3.9h0m.1 1.5h0m.2 .5h0m48.4-2.2h0m.7-.4h0m.6 .5h0m1.1 1h0m1.2 .8h0m1.3-1.7h0m.1 4.1h0m.1-2h0m.8 2.2h0m.4 .2h0m.7-.8h0m68.1-3.3h0m8.2 1.4h0m28.5 .7h0m7.6-.9h0m.7 .4h0m3.1-.4h0m.3-.1h0m2.1 2.4h0m18.7 .7h0m.9-1.2h0m6.3 1.6h0m.5-3h0m.7 2.1h0m0-2.9h0m1 1h0m.3-1.1h0m.4 3h0m.1 1h0m.1-.9h0m0-2.1h0m.1 2.8h0m.4-2.1h0m.2 1.1h0m.6-.1h0m0-3.3h0m.1 3h0m0 .4h0m.1-2.4h0m.2-1.7h0m.1-.1h0m.2 5.1h0m.3-3.4h0m0 3.2h0m.1-4.1h0m.4 1.5h0m.3-.9h0m.3 .6h0m.5-1.4h0m.3-.5h0m0 1.4h0m.1-1.6h0m.4 3.7h0m0-.2h0m.6 .7h0m1.3-.8h0m.1-2.9h0m.1-.1h0m.6 4.4h0m0-4h0m.4 2.3h0m1-3h0m.3 0h0m.5 2.2h0m0 1h0m.2 0h0m1.2 1.8h0m.2-5.1h0m.5 2.6h0m.6-1.4h0m1.6 4.2h0m.7-5.6h0m50.6 .8h0m-546.8 7.2h0m4.2 2.3h0m4.1-1.3h0m0-3.1h0m.1 2.3h0m.3-2.2h0m.2 3.9h0m1.1 .6h0m.6-2.2h0m.7 1.7h0m1.2-2.5h0m0 3h0m1.2-1h0m.3 .4h0m3.4-2.7h0m2.2 3.9h0m.7 0h0m7.2-.9h0m9.7 .5h0m3.7-.3h0m.9 1.3h0m.8-3.7h0m.1-1h0m1.1 .3h0m.2-1.1h0m.2 1.4h0m.3 3.1h0m0-4.1h0m.8 3.4h0m.1 .4h0m0-4h0m.1 5h0m.9-4.1h0m.8 2.4h0m.2-1.5h0m.4 2.7h0m.4-.4h0m0-3.1h0m.1-.9h0m.3 .7h0m.6 4.1h0m.2-2.9h0m.1-2.4h0m.1 .9h0m.2-1h0m.1 .1h0m.4 4.7h0m0-2.6h0m.4-.7h0m.2 4.1h0m.1-1.8h0m.4 1.9h0m.2-5.5h0m.3 3.3h0m.5 2.3h0m0-2.7h0m.3 .4h0m1.6-1.8h0m0 .8h0m1 1.1h0m0-1.9h0m1 2.1h0m1.2-.2h0m.4-1.7h0m.4-1.7h0m1 4.6h0m10-1.7h0m38.5-1h0m3.2 2h0m.2-3.2h0m.6 3h0m4.3-1.6h0m2.9 3.4h0m3.2-.6h0m77.9-2.9h0m23.7-1.3h0m.2-.4h0m.9 .6h0m.3 .6h0m1.3-1.5h0m.3 2.4h0m.3-2.3h0m1.1 3.2h0m.7-1.8h0m0-.7h0m2.1 .9h0m.5 3.4h0m2-.8h0m1.2-3.2h0m1 4.1h0m1.5-3.1h0m.6-2.2h0m.2 1.8h0m0-.4h0m1.6-.2h0m.6 2.8h0m.4-2.6h0m2.2-.1h0m2.9-.1h0m.3 1.5h0m3.5 .8h0m3 .2h0m.7 1.1h0m3.3-2.6h0m.9 2.5h0m4.1-1h0m.2-3.1h0m.1 2.3h0m0 1.7h0m.2-2.4h0m.4 2h0m0-2.8h0m.4 4h0m.6 .1h0m0-3.9h0m.5 3.2h0m.4 .6h0m.1-5.2h0m.2 1.1h0m.4-.7h0m.1 3.9h0m1.4-.8h0m.2 .5h0m.1 .3h0m.2-1.3h0m.1-2.6h0m.2 .1h0m.4-.2h0m.4 4.9h0m.5-4.2h0m.3 1.7h0m0-2.9h0m1 3.5h0m1.3 .5h0m0-3.5h0m.3-.4h0m.1 3.3h0m.6 1.9h0m0-3.6h0m.9 1.5h0m0 1.4h0m0-2.3h0m.5-1.3h0m.3 4.2h0m.5-4.6h0m0 2.4h0m.2 1.4h0m.1-2.1h0m.1 2.2h0m.9-3.9h0m.4 4.3h0m1.1-3.2h0m56.4-1.4h0m1.1 1.1h0m.7 .1h0m1 1h0m.9-.1h0m1.5 1.9h0m4.5 1.1h0m101.8-2.5h0m.5-2.6h0m.5 3.9h0m.1 .5h0m0 .8h0m1.7-1h0m2.9-2.7h0m.5-.2h0m1 1.1h0m.2-1.1h0m.3-.6h0m.8 2.6h0m1.9 .4h0m3.8 .5h0m.3-.7h0m16.4-2h0m1.4 1.1h0m1.4 2h0m.1 .7h0m.4-4.9h0m.1 .5h0m1.1 1h0m.1 1.2h0m.1-1.8h0m.1-1.2h0m.3 4.3h0m.2-4.2h0m.3 3.1h0m.1-.5h0m.3 1.9h0m1.7 .7h0m.1-3.1h0m.2-1.8h0m.6 3.2h0m.1-2.8h0m.1 1.5h0m.3 .8h0m0-1.8h0m.7 1.5h0m.6-1.7h0m.3 .8h0m.3-2.2h0m.1 3.2h0m0 1.8h0m.9-3.6h0m.3-.5h0m.4 2.3h0m0 .6h0m.1 1.8h0m.4-1.2h0m.2-1.6h0m.1-1.7h0m.4 .5h0m1.3-.8h0m.9-.1h0m70.7-.7h0m2.2 1.4h0m-559.1 5.7h0m1.9 2.9h0m1.7-3.7h0m1.3 2.9h0m.1-2h0m.3 2.5h0m.3-.2h0m.3-2.6h0m2 4.3h0m.6-1.1h0m.3-1.3h0m.6 1h0m.1-1.8h0m.6 0h0m.6 2.8h0m2.5-.3h0m1.3 1.2h0m0-2.1h0m.4-.6h0m.1-.8h0m.1 .3h0m.4 2.5h0m.3-3.9h0m.3 2.9h0m4.2 1.4h0m1.9 .3h0m11.3-2.9h0m.2 .8h0m.2-2h0m1.6-.3h0m.1 2.6h0m0-1.5h0m.1 2.1h0m.1-1.3h0m.4 .4h0m.1-1.3h0m1.3-.8h0m0 1.9h0m1.1 1.4h0m.7 .2h0m.3-2.1h0m.5-.7h0m.2-1.1h0m.2 2.3h0m0-2.5h0m.4 2.7h0m.2-2.4h0m.1 1.4h0m0 1.4h0m.8-3.8h0m.5 3.8h0m.3-2.6h0m0 4.2h0m.6-3.9h0m.1 .9h0m.1 1.7h0m.2-.1h0m.1-3.3h0m.4 1.9h0m.1-1.7h0m.4 1.9h0m.1-1h0m.1-.4h0m.3 1.7h0m.3-3.2h0m.4 .2h0m.1 5h0m.1-3.9h0m.3 1.9h0m0-1.2h0m0 0h0m.1 3.4h0m0-1.3h0m.5-1.5h0m.7-1.1h0m.7-1.3h0m.2 1.2h0m.4 .9h0m.5-2.5h0m.3 0h0m56.3 2.1h0m4.3-.5h0m3-1.4h0m1.2 0h0m1.6 2.7h0m.2 .9h0m.1 1.2h0m.4-4h0m2.5 3.8h0m100.5-2.8h0m.4-.7h0m1-1.4h0m.6 4h0m2-.2h0m2.9-1.3h0m0 1.4h0m1.1-2.2h0m.9 3h0m.5-2.6h0m.8-2h0m.2 5.7h0m0-2.5h0m.6-.8h0m.3 .2h0m1.2 1.3h0m.6-4.1h0m.4 3.4h0m.1-2.6h0m.2 3.5h0m.4 .8h0m.2-.7h0m.1 .9h0m1.7-.4h0m.1-2.2h0m.1 2.6h0m.4-3h0m.4-1.3h0m.3 4.2h0m.8-2.9h0m.3-1.4h0m3.4 3.1h0m3-1.5h0m3.4 .6h0m3.5 2.3h0m0-5.3h0m.6 3.8h0m1.2-2.8h0m1.2 4h0m.2-4h0m.5-.1h0m.2 3.4h0m.6-3.2h0m.7 1.8h0m.4-.3h0m.1-.1h0m.4 3h0m.2-1.6h0m.3-.3h0m1 2.1h0m.2-.6h0m.5-3.3h0m.2 2.2h0m.2 .7h0m.1-3.4h0m.1 4.4h0m.4-4.7h0m.2 3.7h0m.1-3.1h0m.1 1.6h0m.1-1.9h0m.1-.5h0m.5 4h0m.1-.3h0m.3-4.2h0m.1 4h0m.2-.3h0m.6-1h0m.5-.1h0m0-2.1h0m.1 0h0m.2 .7h0m.5 2.3h0m.2 .8h0m1.9-4.2h0m.2 .8h0m.2 3.8h0m.2-1.6h0m1 2.2h0m.2-3.4h0m.6 .9h0m.4-1.6h0m.2 .2h0m1.1 3.3h0m62.4-4.5h0m1.5-.1h0m.9 5.3h0m1.3-3.2h0m102.7-.1h0m8.5 2h0m.9-3h0m.2 3.7h0m.1-1.5h0m.1-2.1h0m.3-1.3h0m.4 3.8h0m1.1-2.7h0m.8 1.4h0m.3 2.8h0m.7-1.9h0m.4-2.2h0m2.4 3.1h0m2.1 .4h0m.2 1h0m11.2-1h0m.6 0h0m1.1-3.8h0m.1-1h0m.4 1.6h0m.4 3h0m1-4.4h0m.8 5.4h0m.3-.7h0m0-2.4h0m.1 2.3h0m.2-3.8h0m.1 3.2h0m.1-.4h0m.4-2.5h0m.1-.8h0m.1 4h0m.4-1.5h0m.6 1.3h0m.2-2.3h0m.2 1.1h0m1 1.9h0m0-3.1h0m1.4 2.8h0m.4-1.1h0m.2-3.8h0m0 4.4h0m.2-2.1h0m0 1.1h0m.3 2.4h0m.1-2.9h0m1-1.8h0m0 3.6h0m.1-3.2h0m0-.3h0m.2 .5h0m.6-1.1h0m0 3.2h0m.3 .1h0m.1 2h0m.5-4.7h0m.3 1.7h0m.2-2.8h0m.4 5.6h0m.4-5.2h0m.5 0h0m65.6 3.5h0m4.5-2.6h0m-552 5.1h0m2 1.3h0m.1 .9h0m.1 1.9h0m1.7-4h0m.3 3.4h0m7.2-1.3h0m.2-.9h0m.9 1.3h0m0-2.7h0m.1 4.9h0m.9-.6h0m8.7-2.9h0m4.5-.6h0m1.2 .7h0m1.4 1.1h0m.1 0h0m.5 .2h0m.1 .4h0m.6-2.7h0m.6 4.3h0m.2-5.2h0m.1 5.7h0m.2-2.2h0m.5-.6h0m.1-2.6h0m0 3.1h0m.2 2.3h0m.2-2.4h0m.3 1.6h0m.2 .4h0m.5-1.8h0m.3-2.1h0m0 .5h0m.2-.3h0m.1 1.5h0m0-2.8h0m1.1 2.2h0m.7 3.2h0m.3-4.6h0m.2-.3h0m.3 2.4h0m.1 .9h0m0-.4h0m.2 .9h0m0-3h0m.3 0h0m0 .2h0m.4 1.2h0m.1 2.7h0m.7-4.2h0m.3 1.9h0m.1 2.4h0m.7-.4h0m.5-3.7h0m.6 1.4h0m.3 2.5h0m0-5.1h0m.7 .1h0m0 1.4h0m1 1.8h0m.1 1.2h0m0-.2h0m.3-3.1h0m.1-1.1h0m.9 3.1h0m0-3.1h0m.2 2.8h0m57.6-3h0m6 0h0m1.1 3h0m4.2 .1h0m99.5-2.6h0m6.9 3h0m1.9-.5h0m1.1 .8h0m.8 1.6h0m0-5.6h0m.6 4.9h0m0-2.8h0m1.4-.7h0m.3 3.9h0m1-1.4h0m.9-2.9h0m2.5 4.4h0m.3-2.3h0m1.2 1.2h0m.7-3.7h0m.8 .3h0m.4 2.7h0m.8 1.4h0m.4-4.3h0m5.2 2.5h0m2.1-2.3h0m.3 .6h0m2.7 1.5h0m2.6 .6h0m1.1-2.9h0m.3 2.2h0m.1 .7h0m.6-2.2h0m.7 3.4h0m.5-3.2h0m.1 3.3h0m.6-1.7h0m0-.3h0m.1 2.9h0m1.4-2.9h0m.5 .6h0m.2-1.1h0m.1 .8h0m0-1.4h0m0 .9h0m.1 2.5h0m.3-3.2h0m.1-.8h0m.3 2.2h0m.3-2.4h0m.9 .2h0m.4 3.8h0m.1-3.3h0m.2 2.4h0m.1 .6h0m.8-3.5h0m.2 2.6h0m0-2.4h0m.3 3.2h0m.1-3.5h0m.2 1.7h0m.2-1.5h0m.5 .4h0m.5-1.7h0m.8 3.8h0m.7-1.6h0m.1 .6h0m.6 2.2h0m.2-4.9h0m.1 2h0m.2 .3h0m.3-1.6h0m1.4 2.6h0m.3-1.3h0m0-2h0m65.7 5.7h0m4.2-4.7h0m1.3 2.1h0m.8-2.2h0m58.5 3.6h0m20.1 .3h0m27-.6h0m.5-4.3h0m.1 4.4h0m.9-2.2h0m.2 3.2h0m.1-.3h0m1.1-1.5h0m.3-3.8h0m2.1 1.3h0m.1 2.8h0m.2 1.3h0m.2-4.9h0m1.7 3.8h0m.1 1.5h0m.4-.1h0m.2-1.4h0m1.6-.8h0m.1-.5h0m1.1 1.3h0m.2 .3h0m.2 .9h0m.6-2.2h0m.3 2.5h0m.2-1.6h0m.2-.2h0m.8 1.3h0m.3-4.5h0m10.4 1h0m.3 .9h0m.2 2.8h0m.3-3.3h0m.1 .2h0m0 3.3h0m.2-4.9h0m.4-.3h0m0 5.4h0m1.2-.3h0m.3-4.2h0m.3 .2h0m.7 3h0m.4-2.3h0m0-2h0m.3 5.6h0m.3-.7h0m.2-1.8h0m.1-2.2h0m.7-.9h0m.3 1.6h0m.1 3.5h0m.5-4.8h0m.3-.1h0m.3 4.4h0m.2 1h0m.2 0h0m0-1.5h0m.6 .7h0m.1-3.2h0m.1 2h0m.2-.4h0m.2 1.3h0m.3-2.3h0m0 1.5h0m.3 1h0m.7 .8h0m.3-2.9h0m.3 1.8h0m.2-4.1h0m0 .6h0m1 .8h0m.6-.2h0m.9 2.6h0m72.1 .3h0m-602.7 6h0m48.2 1.2h0m4.9-3h0m.1 2h0m1.2-4.7h0m7.4 4.3h0m.8-4.3h0m.1 4.6h0m.4-1.9h0m.2-2.1h0m.3 3.6h0m.7-2.5h0m.3-.6h0m0 2.9h0m.2 1.6h0m1-4.8h0m.2 4.7h0m1.8-3.8h0m.8 2.6h0m1-.1h0m1.9-2.8h0m2.4 3.9h0m.5-3.4h0m3.1 3.2h0m.2-3.3h0m.5-1.5h0m0 2.7h0m1.6 1.2h0m.1-3.6h0m0 .9h0m.4 2.1h0m.2-2.6h0m.4 1.3h0m.5-1.8h0m.4 1.1h0m.3 4.2h0m.5-1.6h0m.3-1.6h0m0 2.1h0m0-1.4h0m.7 2h0m.3-1.5h0m.1 .2h0m.2-3.6h0m.1 1.9h0m.6-1.3h0m0 2.3h0m.6 1.5h0m1.1-1.7h0m.4-1.4h0m.2 1.4h0m.2-2.9h0m.4 5h0m0-3.3h0m.5 .7h0m.3 1.4h0m.2 .9h0m.3-5.1h0m.1 2.1h0m.2-.8h0m0-.9h0m.3 .5h0m.3 2.1h0m1.2-.4h0m.2 3.2h0m.6-2.8h0m.2-1.2h0m.5 1.4h0m.3 .9h0m0 1.6h0m0-3.6h0m.6 2.3h0m.7-2.7h0m31.6 4.2h0m34.9-5.3h0m67.8 1.5h0m43.8-.9h0m1.4 1.6h0m.1-1.4h0m.1 3.9h0m.1-1.4h0m.1-1.1h0m.1-.4h0m.4-1.2h0m0-.5h0m.4 .1h0m3.7 .6h0m.3 .9h0m.1 1.7h0m2.8-3.1h0m1.3 3h0m.1 0h0m.1-1.6h0m.1 1h0m.1 2.1h0m.7-3.7h0m0 2.2h0m.1-1.3h0m.1 2.8h0m.1-2.6h0m1.2 0h0m.4 2h0m2.3-1.3h0m.4-2.3h0m.4-.4h0m.9 4.6h0m1.6-4.9h0m1.6 3.5h0m1.8 1.5h0m2.4-3.2h0m.3 1.5h0m.3 1.2h0m.3-2.9h0m.1-.6h0m.3-.1h0m.4 .8h0m.6 1.7h0m.2-3.1h0m.1 .3h0m0 2.2h0m.2 1.2h0m1.2 .8h0m.4-4.1h0m.9 4h0m.3-4.1h0m.6-.8h0m.3 4.3h0m.4-.1h0m1.2-1.7h0m.4-.8h0m.1 2.1h0m.2-4h0m.5 1.8h0m.2 2.7h0m.2-.2h0m.9-4.1h0m.1 4.2h0m.6 .5h0m.1-4.2h0m.2 2h0m.2-2.6h0m0 3.1h0m0-2.4h0m.2 4.5h0m.7-1.7h0m.7 1.3h0m.1-2.8h0m.1 1.9h0m0-1.5h0m.7-.5h0m.3-1.5h0m.2 1.9h0m.9 2.4h0m1-4.6h0m3 2.1h0m35.9-2h0m40.6 5h0m50.9-1.7h0m47.2 0h0m1-1h0m.4 2.7h0m.3-.6h0m1-4.4h0m.1 1h0m7.5 4.5h0m.8-1.6h0m.1-.8h0m.6-.3h0m.5 2.3h0m.1-3h0m.1-2.3h0m.3 .4h0m.1 1.3h0m.6 1.2h0m0 2.9h0m.2-4.7h0m1.9 3.8h0m.6 .7h0m.2-.3h0m1.7-3.5h0m1.3 3.6h0m1.6-3.2h0m1.3 2.5h0m.1-2.9h0m1.7 1.3h0m.3-.2h0m.2-.7h0m.1 1.6h0m.1 1.3h0m.5 .2h0m0-.3h0m.3 .7h0m.8-.1h0m1.1-2.2h0m.3 .6h0m.1 .9h0m0-4h0m.5 3.5h0m.6-4h0m.3 .4h0m.2 1.6h0m.2 1.2h0m.4 .5h0m0 1.1h0m.7-2.5h0m.2 3h0m.1-2.9h0m1.1-1.7h0m.1 3.8h0m.7-3.3h0m.9 2.4h0m.2-1.1h0m.9 .4h0m.4-3.2h0m.2 1.7h0m.1-.7h0m.5 1.7h0m.5 0h0m.9 .3h0m.5-.2h0m0-1.4h0m.2 .8h0m.1 1.5h0m0 .9h0m.1-2.6h0m0 .6h0m.4-.6h0m.7-2.3h0m2.6 2.1h0m43.1 .7h0m-548.8 4.3h0m23.5 2.7h0m.4-1.6h0m.6-2.2h0m7.5 .9h0m.2-.6h0m.8 .1h0m.7 4.5h0m.3-.5h0m.1-3.3h0m0 .2h0m.8-.3h0m.1 3.7h0m.2-2h0m.3-2.1h0m0 1.4h0m.5 .5h0m.4 1.4h0m0 1.8h0m.4-3h0m.1-.3h0m1-.7h0m.8 3.1h0m.3-2.7h0m.2 1.1h0m.3-.2h0m.9 2.7h0m1.6-4.9h0m1.1-.4h0m.6 5.5h0m.3-3.2h0m.1-2.6h0m.5 3.7h0m.6-3.3h0m.1 1.5h0m.4 1.5h0m.3 2h0m1.4-1.6h0m1.4-2.9h0m.6 3h0m0-1.9h0m.1-.7h0m.1 3.5h0m.2-.1h0m1.1 .5h0m0-1.8h0m.2-1.5h0m.2 .9h0m.2-2.4h0m.1 2.8h0m.1 2.2h0m1.3-1.8h0m.4-1.4h0m.3-.6h0m0 .9h0m.1 .9h0m.1 .1h0m.5 .7h0m.7 .9h0m.7-4.6h0m.5 4.2h0m.6 1.1h0m.1-.1h0m.1-3.6h0m.1 1.3h0m.1-2.5h0m.6-.6h0m.3 4h0m.2-4.4h0m0 5.3h0m.3-3.6h0m.2 4h0m0-2.4h0m.7-3.1h0m.2 4.5h0m.8-1h0m.2 1.1h0m0-2.6h0m.4 .8h0m.1-.8h0m.1-1.7h0m.3 1.4h0m.1-1h0m0 1.1h0m.6 .9h0m.1-.2h0m.2 2.1h0m.3-4.7h0m.2 2.7h0m.6-2h0m.4 4.4h0m.2-4.5h0m.6 .2h0m9.5 .3h0m167.1 4.3h0m.8-3.5h0m1.4 2.4h0m1-1.2h0m.2-3.1h0m6.9 .9h0m2.1 .9h0m.5 3h0m.1-1h0m.1-3.6h0m0 .1h0m.7 1.6h0m.1 3.4h0m.1-2.9h0m.5 2.6h0m0-2.5h0m.3 1.1h0m.3-2h0m1.1 1.5h0m0-2h0m1.2 3.2h0m.4-2.8h0m1.5-1.1h0m1.1 .3h0m.3 .8h0m.4 2.5h0m1.2-1.2h0m.2 2.7h0m.1-4.5h0m.9-1h0m1 2.6h0m.3 1.7h0m1.2-1.5h0m.7 1.1h0m1 1.2h0m.2-4.3h0m.3 .9h0m.1-.3h0m.6 3.2h0m.4-2.7h0m.1 1.7h0m.8 .1h0m.3-.5h0m.5 1.7h0m0-2.4h0m.7 3.2h0m0-1.6h0m0 1.7h0m.2-2.8h0m1.1 .5h0m.2-2.5h0m.5 2.2h0m.2 1.3h0m.1-2.8h0m.3 1.6h0m.1-1.8h0m1.1-1h0m.1 .2h0m.1-.7h0m0 .5h0m0 2.7h0m.5 2.4h0m.8-3h0m.1 .2h0m.1 1.7h0m1.8-2.4h0m0-2.1h0m.6 2h0m.3 1.1h0m.9 .1h0m.4-.3h0m.2-2.4h0m.1 1.1h0m.1-.3h0m.1 .1h0m.5-1.4h0m72.1 4.8h0m61.2 .7h0m.3-3.4h0m0 1.6h0m.4-3.6h0m46 .2h0m.6 1.6h0m.5-.5h0m2.1 2h0m6.9-3.4h0m.1 2.9h0m.1 1.6h0m.1-.8h0m.2-2.7h0m.2 1.4h0m.2 3.2h0m0-1.2h0m.3-2.1h0m.1-1.2h0m.6 3.2h0m.2-.9h0m.1-1.3h0m.5-2.1h0m0 5.3h0m1-1h0m.7-.2h0m1.9-3.2h0m.5 1h0m.5 1.2h0m.2-2.9h0m.1-.3h0m1.1 2.3h0m.9 2.6h0m.1-4.5h0m.1 1.7h0m1.6-1h0m.2-.4h0m1.2 1.4h0m.6 .8h0m.6-.5h0m.1-1.5h0m0 1.9h0m.2-1.7h0m.1 .8h0m.2-1.4h0m0 2.2h0m0-2.5h0m0 1.6h0m1-1.7h0m.1 3.4h0m.2-.1h0m.1-2.5h0m.2-.8h0m.5 3.3h0m.6-1.7h0m.5 1.7h0m.3-2.7h0m.3 3.4h0m.3 1.6h0m1-2.9h0m.2-1.6h0m.2 .2h0m.9 .2h0m.3 .1h0m.1 2h0m.1-1h0m.9-1.6h0m0 .3h0m.3 2.1h0m.5-3.1h0m2.4 1.9h0m.8 1.3h0m.2-1.4h0m.5 .9h0m.1-.7h0m.1-.7h0m.8-1.7h0m-530.7 8.9h0m5.2-.5h0m47 .9h0m.5-3.1h0m.8 4.2h0m8.9 1.4h0m0-.7h0m.1-4.2h0m1.8 .8h0m.1 .7h0m.2 1.3h0m.7-2h0m.2 2.7h0m.6-.1h0m1.5-3h0m2.3 .4h0m3 .8h0m.1 1.5h0m.4-.2h0m1.6-.5h0m2-1.9h0m0-.4h0m.4-.9h0m.7 1.3h0m.5 .1h0m.2 1.8h0m.5-2.1h0m.5 1.1h0m.1-1.9h0m0 .3h0m.4 3.3h0m.1-1.5h0m.2 2.1h0m.3-2.7h0m.4 4h0m2.3-5.1h0m.6 .3h0m.1 0h0m.3 .4h0m.5 1.3h0m.1-.9h0m.1-1.2h0m.5 .1h0m0 1.7h0m.4-1.9h0m.3 .1h0m0-.1h0m.2-.1h0m.2-.2h0m.2 5h0m2-5h0m.2 2.7h0m.2-1.2h0m.6-.2h0m.5 1.2h0m1-2.1h0m0 1.9h0m41.7 1.2h0m82.1-2.5h0m6.7 .1h0m3.5 .9h0m44.4-.1h0m1.7 .8h0m2.9 2.8h0m8.4-5.2h0m0 .4h0m.4 4.4h0m.1 .3h0m.1-.8h0m0-1h0m.1-2.2h0m.3 1.9h0m.3-.4h0m.2-.5h0m.7 0h0m.3-2.7h0m4.2 .4h0m1.1 3.9h0m0-4.3h0m.9 .5h0m.7-.2h0m1 2.5h0m2.3-1.3h0m0-.1h0m.3 2.1h0m.1-2.2h0m.3 .3h0m.9-.7h0m.3-.1h0m.5 3.4h0m.7-3.2h0m.5 .3h0m1 3.5h0m0 0h0m.8-.4h0m.6-.1h0m.4-1.9h0m.1 2.5h0m1.1-1.6h0m1.2-1.6h0m.7 1.4h0m.6-1h0m1.5-1.5h0m.6 .1h0m.6-.2h0m.8 0h0m58.3 .8h0m41-1.1h0m37.2 5.5h0m3.1-3.6h0m1.6 .5h0m44.2-.2h0m.4-.6h0m0-1.1h0m.4 2.3h0m.8 2.2h0m7.1-3.5h0m.2 3.2h0m0-1.8h0m.5-3h0m.1 .6h0m.5 3.6h0m.7 1.5h0m0 0h0m.2-2.6h0m.5-.5h0m5.9-1.7h0m4.7 1h0m0 .4h0m1.8 1.7h0m.2-3.7h0m2.8 1.9h0m1.2 3.6h0m.3-4.6h0m67.5 2.1h0m-588.2 2.6h0m48.1 1.5h0m12.1-.2h0m0 2.6h0m0-.1h0m.1-1.3h0m.1 2.2h0m.4-4.3h0m.2 4.8h0m.1-5.1h0m.5 5.6h0m.5-.3h0m.6-.7h0m.1-3.4h0m.7 1.2h0m9.8-1.8h0m3.6 3.5h0m.5-1.6h0m1.9-.4h0m3.5 0h0m11.5 .1h0m72.3-.4h0m54.6-1.5h0m.2 5.2h0m1.9-3.6h0m47.5-1.3h0m.1 2.7h0m.6-1.4h0m.3 2.9h0m.4-2.5h0m1.4 3.3h0m7.9-5.3h0m.6 2.7h0m.1-.8h0m0 2.2h0m.6-3.4h0m.3 3h0m0 1.3h0m.4-3.1h0m.3-.7h0m1.6 4.1h0m10.1-3.8h0m2.9 1.8h0m146.3-3.6h0m46.5 1h0m.6 3h0m0-3.5h0m2.8 2.9h0m6.6-3.4h0m.6 1.4h0m.4 1.1h0m0 .7h0m.2 .8h0m.2 1.2h0m.2-4.6h0m.2 2.5h0m1.1 .8h0m.4-2.8h0m-506.5 5.4h0m.4 .9h0m2.1 3.1h0m52.3-3.9h0m7.6 1.1h0m.1-1.7h0m.4 5.2h0m.2-3.6h0m.1-.9h0m0 2.5h0m.3 2h0m.3-3.3h0m.4 2.9h0m0-1.5h0m.1-1.1h0m0 .6h0m1.8-1.3h0m.2 2.7h0m1.3 1.5h0m0-2.7h0m70.8 1.1h0m86.6-3.7h0m48.3 2.1h0m.1 1.5h0m2-2.2h0m.3 3.6h0m.1-5.2h0m8.6 1.1h0m.1 2.7h0m0-1.8h0m.1 1.2h0m.5-.6h0m.5-1.2h0m.5 2h0m.8 2.1h0m.3-5.2h0m.4 0h0m.2 4.6h0m.5-.3h0m200-1h0m5.8 .5h0m.9-1.3h0m1.2-1.3h0m1-1.2h0m.4 5.2h0m6.5-4.2h0m.2 1.4h0m.1 2.8h0m.3-5.3h0m.3 1.5h0m.1 .8h0m.2-1.1h0m.4 3.9h0m.2-2.1h0m.2-2.6h0m.6 3.9h0m1.3-.7h0m-507.7 3.8h0m1.4 .7h0m54.1 .2h0m0-1.2h0m.1 3.6h0m.4-4.7h0m6.5-.2h0m.5 1.3h0m.2 3.6h0m.2-1.8h0m0 1.6h0m.6-1.6h0m0-1.6h0m.2 .9h0m.4 3.2h0m.1-3h0m.1 .3h0m.5-.4h0m.4-2h0m1.1-.5h0m.6 3.7h0m.1-2.8h0m1.8 4.4h0m.2-.5h0m62.2-2.2h0m25.6-2.9h0m118.1 2.9h0m.2 2.8h0m9.3-4.6h0m0 2h0m.1-2.8h0m.1 2.7h0m0 1.3h0m.1-1.1h0m.1 1.1h0m.3-1.5h0m.3-.3h0m.1-.5h0m2.1-1h0m.2 4.4h0m.7 .2h0m51.4-4.5h0m103.7 1.6h0m2.8-.8h0m46.3 1.2h0m2.9-.6h0m.6 2h0m.1 0h0m6.9-3.3h0m.5-1h0m.3 1.5h0m.6 3h0m.4 .5h0m.3-1.4h0m.4 .5h0m.1-3.2h0m.2 1.8h0m0 2.8h0m.1-.1h0m1.3-2.5h0m.1-1h0m.2-1.6h0m-510.7 10.9h0m.3-4.1h0m1.9 3.6h0m.7-2.7h0m54.8-.4h0m1.1-.6h0m1 1.7h0m6.4-2.3h0m.1 2.2h0m.1 .4h0m.3 .9h0m.4 1.4h0m.1-.1h0m.4 .3h0m.1-2.6h0m.2-1.3h0m.3-1.2h0m.3 .6h0m0-1.2h0m2 1.4h0m.4 3.2h0m0-.5h0m1.5 .2h0m0-1.5h0m1-.8h0m.5 1.9h0m.3-.4h0m.6 1.7h0m55.7-.8h0m68.6-1.2h0m23.6 1.4h0m4.1-3.1h0m1.3-.8h0m.4 5h0m25.4 .3h0m22.6-1.3h0m.3-2.9h0m.2 1.7h0m.7-.7h0m1.1-2.2h0m10.3 3.2h0m.1-.5h0m.1 .4h0m.1 1h0m.2-.4h0m.2-2.2h0m.5 3.2h0m.3-4.1h0m.1 1.2h0m.1-1.1h0m.8-.8h0m.4 4.9h0m.4-5.2h0m156.1 1.7h0m.3 2.4h0m50.6-2.1h0m.1-.5h0m.2 4h0m.5-.9h0m.2-1.4h0m8.1-1h0m0-.8h0m.4-.9h0m.1 .6h0m.1 2.2h0m.1-3.1h0m.5 2.2h0m.1 .8h0m.1-.4h0m.1 2.2h0m.5-.8h0m.5 .3h0m1.7 .4h0m6.7-3.5h0m-519.2 5.1h0m3.7 4.7h0m51.3-4.4h0m2.7-.7h0m9.5 2.3h0m.4-.6h0m.2 1.3h0m.1 .2h0m.2-1.8h0m.3 3.3h0m.4 .1h0m.4-3.4h0m.7-1.1h0m.1 4.5h0m0-3.3h0m.1 2.2h0m.4-2.6h0m.7-1h0m.5 3.6h0m.4-1.1h0m0-1.9h0m.3 3.6h0m.1-3.6h0m.2-.8h0m.7 3.2h0m1.6 .2h0m.1 1.9h0m150.6-5.2h0m1.1 5.5h0m2.2-2.9h0m24.4 2.7h0m22.8-4.2h0m3.6 1.7h0m.3-2.8h0m.8 1.9h0m8.7-1.6h0m.7 .7h0m0 2.2h0m1.1-1.1h0m.6 1.5h0m.1-2.3h0m0-.8h0m.1-.4h0m.1 1.7h0m.4 .8h0m0 2.3h0m1.2-1.2h0m.4 2h0m.4-1.2h0m.2-.3h0m.4-.1h0m.6 1.5h0m67.7-2.8h0m83.5-1.5h0m.2 3.9h0m1.8-2.2h0m2.5-1h0m47.5-.4h0m.1-1.6h0m.7 1.8h0m9.8 .2h0m.3 1.4h0m0-3.2h0m.2 1.6h0m.4 2.6h0m.3-3.4h0m.1 1.4h0m.3 1.4h0m.2 1.1h0m.6-4.8h0m.7 4.1h0m.6-3.4h0m.2-.1h0m.2 4.9h0m.3-.6h0m.2-1.3h0m72.5-1.3h0m-605.5 8.6h0m17.2-1.1h0m1.9 1.4h0m2-1.1h0m1.2-1.9h0m.3-1.9h0m64.1 .2h0m.4 1.3h0m0 .2h0m.5 1.5h0m.1-1.7h0m.1 3.3h0m.1-1.6h0m.6-1.6h0m.5-2.1h0m.2 2.5h0m.2-.1h0m.4 2.2h0m.6 .4h0m0-.5h0m.3-3.4h0m.1-.8h0m.4 2.5h0m.6 2.5h0m.1-2.9h0m.8-2.4h0m.6 .2h0m.2 .3h0m.8 5.1h0m.1-2.4h0m.7 .3h0m.2 2.3h0m1.2-2.1h0m.6 .7h0m146-3.2h0m.6 2.8h0m2.5-2.1h0m50.2 3.1h0m.2-4.7h0m2.8 .7h0m1.1 .8h0m0 2.8h0m9.5-3.4h0m.3-.1h0m.4 1.8h0m.1-.5h0m.6-2.1h0m.3 2.5h0m0-1.3h0m.2 .7h0m.4-2.2h0m.5 5.3h0m.5-2.9h0m.3 1.9h0m.3 .7h0m.4-1.5h0m.7-2.8h0m.4 4.3h0m.6-.4h0m.3-.4h0m147-.4h0m3.1 1.9h0m.8-1.5h0m1.6-3.2h0m.1 1.3h0m1.6-2.3h0m42 4.4h0m6-1h0m.8-3.2h0m.9 1.4h0m9.6 .5h0m.1-2h0m.4 2.5h0m.1 2h0m.1-1.7h0m0-.9h0m.1 1.7h0m.3-2.6h0m.8 3.6h0m.1-3.8h0m.1 4.1h0m.3-1.2h0m.3-2.2h0m.1-.8h0m.1-.7h0m1.1 4.7h0m0 .4h0m1.5-1h0m36.6-.7h0m-551.2 5.7h0m1.1 .6h0m.9-2.3h0m.4-1.3h0m55.9 4h0m.8-3.8h0m1.6 2.5h0m7.6-2.1h0m0 1.3h0m.4 3.2h0m.1-3.4h0m.1 3.3h0m.3-2h0m.1-1.6h0m.1 3.2h0m0 .5h0m.3-1.2h0m.2-.3h0m.2-1.6h0m.4-1.4h0m.1 3.3h0m1-3.8h0m1.1 .1h0m1-.2h0m2.1 3.9h0m.1-1.3h0m.5 2.1h0m1-3.6h0m.2 2h0m.3-.8h0m.1-.2h0m.6 1.4h0m.3 2.1h0m.4-1h0m59.9-3.2h0m82.3 1.4h0m2.7-1.3h0m2.9-1.9h0m.4 5.3h0m7.3-3.4h0m43.1-.1h0m1.3 .9h0m1.5 3h0m.2-2.3h0m2.9 .2h0m8.6-3.4h0m.6 4.7h0m0-1.9h0m.1 2.6h0m.2-4.4h0m.1 .1h0m.2 .7h0m.3 3.1h0m0-2h0m.2 2.8h0m1.1-2.9h0m.2 0h0m.1 1.4h0m.6-4.3h0m.1 2.2h0m.2 0h0m0-2.1h0m.1 4.7h0m92.4-1.2h0m56.8 .3h0m1.2-3.9h0m0 3.9h0m3.6 1.9h0m26.2-4.7h0m23.4 2.7h0m.5-3.7h0m5.6 5.8h0m3.9-5.6h0m.4 1.3h0m.7 2.1h0m.1 1.5h0m.1 .2h0m.7-4.6h0m.3 5.1h0m.3-3.2h0m0 1.4h0m.2-4h0m1.6 3.5h0m.2 .9h0m.9-2.3h0m0-.7h0m.1 .3h0m.4 .9h0m.2 1.1h0m.5 .3h0m49.1 1.1h0m37.8-5.1h0m-607.2 6.1h0m3.5 4.2h0m.4-4.5h0m.6 2.8h0m1.9 .5h0m57.3-2.1h0m.1 2.9h0m1.1-3h0m.3 4.7h0m7.6-4.5h0m.1-.4h0m.6-.2h0m.1 3h0m.3-1.6h0m0-1.4h0m.1 1.5h0m.4 1.9h0m0-1.3h0m0-1.4h0m.2 1.8h0m.1 .6h0m.5-1.5h0m.6 3.6h0m0-.4h0m.2-2.8h0m.4 2.2h0m.2 .4h0m.7-4.4h0m0 3.8h0m0-3h0m.1 1.7h0m.2 .6h0m.7-.7h0m3.2-2.2h0m.2 4.7h0m0-.8h0m1.6 0h0m56.5 .5h0m87.6-4.7h0m.5 1.5h0m1.3 2.3h0m.4-3.1h0m0 4.1h0m49.3-3.1h0m3.3-.6h0m2 2.8h0m1.4-.7h0m.2 1.8h0m11.1-5.5h0m.4 .5h0m.1 .3h0m.2 1.4h0m.1 .1h0m.3 .8h0m.3-.7h0m.5-1.5h0m1.3 4.6h0m.1-1h0m.2-1h0m0-2.6h0m0 4.5h0m.1-5.6h0m1.6 3.1h0m.6 1.2h0m1.3 .9h0m59.7-2.4h0m11.4 1.2h0m50.6-.3h0m22.9-2.3h0m.2 1h0m2.9 .5h0m.3 2.5h0m48.4-2.7h0m3.1-.1h0m1.3 1.2h0m10.3-3.7h0m.6 2.6h0m0-1h0m1 4h0m.6-5.7h0m.1 5.9h0m.1-3h0m.3 1.2h0m.2 1h0m.3-4.7h0m1.1 3.5h0m.4 .6h0m.4-1.4h0m.1-1.3h0m.3 1.5h0m.3-2.3h0m.1 1.2h0m.1 2.7h0m67.6-2.1h0m-585.8 7.4h0m2.2-2.6h0m.1 1.2h0m2.3-2.4h0m.5 5.1h0m.4-2.3h0m6.2-.5h0m60.9-2.8h0m.4 3.4h0m.2-.4h0m0-2.8h0m.1 3.1h0m0-2.7h0m.1 1.4h0m.1-.7h0m.1 2.4h0m.3 1.3h0m.1 .3h0m.1-3.3h0m.8 2.6h0m.4-4.1h0m.4 2.1h0m0-1.1h0m.7 2.6h0m.7 .1h0m.3 0h0m.8-2.8h0m1.2 1.3h0m.2-.8h0m1.4 .3h0m.1 1.2h0m.1-1.3h0m.5-1.2h0m.3 4.1h0m1.6 .2h0m103-1.3h0m34.4-1.1h0m.7-1.2h0m3.4 2.7h0m1.6 1.2h0m32.3-3.6h0m22.8 1.1h0m.7-1.4h0m.7-1.1h0m1.5 4.5h0m12.9-3.1h0m.4-.2h0m0 2.1h0m.1-1.1h0m.2 1h0m.4 1.7h0m.1-4.1h0m.1 3.6h0m.6-4.3h0m.4 4.9h0m.2-2.9h0m.3 1.4h0m.6-3h0m.1-.2h0m.3 3.6h0m.4 .8h0m.5-2.3h0m.9 1.6h0m.3-.5h0m.5-2.3h0m68.7-1.7h0m74.5 .4h0m1 1.9h0m2.7 2.5h0m.1 .2h0m50.9-.2h0m1.1-2.2h0m.1 .8h0m11.1-3.3h0m.3 2h0m.9 .4h0m.2-2.5h0m.1 3.4h0m.3 2.2h0m.3-4.8h0m.1 2.9h0m.2 2.1h0m.2-1.5h0m.8-3.2h0m.3 .7h0m.3 1.2h0m.1-1.9h0m.7 4.5h0m.5-2.2h0m.2 1.2h0m1.4-.2h0m2.6-.4h0m4.1-.3h0m47.9 2.1h0m-581.2 3.4h0m4.4 .9h0m2.8 0h0m.2 1.8h0m.2-2.7h0m1-1.1h0m1.3-1.1h0m1.7-.8h0m56.8 3.3h0m.7-1.5h0m.1-1.7h0m10.5-.1h0m1 2.8h0m0-1h0m.2 1.5h0m.1-.2h0m.2-.5h0m.3 2h0m1.1-1.3h0m0 1.4h0m.6 .3h0m0 .2h0m.8-4.2h0m0 1h0m0-1.6h0m.1 3.6h0m1.1-3.3h0m.3 1h0m.1 3.9h0m0 0h0m.3-4.9h0m.3 1.3h0m.4 1.4h0m.4-3h0m.5-.6h0m0 4.3h0m.1-3.4h0m2-.4h0m71.8 3.9h0m59.6-1.6h0m8.7-1.6h0m1.4-.4h0m.7 1.2h0m1.3 1.3h0m.3 1.9h0m21.2-4.3h0m23.8 .6h0m8.2 .4h0m1.8 2.1h0m.6-.4h0m1.2-2.9h0m1.4 4.6h0m12.6-5.2h0m.4 .5h0m0 .5h0m.6 1.7h0m.4-1.1h0m.1 2.9h0m.3-1h0m.7-2.4h0m.7 1.2h0m.1 2.9h0m.1-4.8h0m1.1 3.4h0m.1-1.9h0m.2 2.3h0m.2 1.2h0m.5 .4h0m1.2-3.8h0m.5 1.8h0m.7-.2h0m.3 1.1h0m17.3-1h0m26.3-2.9h0m93.8 2h0m2-2.8h0m1.7 4.2h0m.1-.8h0m1.4 2.4h0m1.1-4.6h0m1 4.7h0m50.1-4.7h0m.6 2.2h0m1.4-1.1h0m.7-1.9h0m.4 5.5h0m12.2-4.3h0m0 .6h0m.1-1.7h0m.6 2.3h0m.7 .7h0m.1 0h0m.2 .9h0m.1 1h0m.2-4.8h0m.2 2.1h0m.3 1.2h0m1.2 1h0m.2-3.8h0m.3 1.1h0m.2 2.2h0m.4-2.8h0m0-1.5h0m.6 4.2h0m0-2.9h0m0 2.1h0m.1 2.2h0m28.6-2.7h0m50.8-1.5h0m-602 5.1h0m.3 4.2h0m1.4-2.2h0m.1 1.3h0m1.1 1.5h0m.8 .4h0m.3-1.7h0m.3-3.4h0m.2 .8h0m.1 1.1h0m51.9-1.3h0m8.7 4.4h0m.6-2.8h0m.6 1.7h0m10.9-4.4h0m.1 3h0m.1 1h0m.6-2.9h0m.2 2.5h0m1.1-3.7h0m.2 5.5h0m0-2.6h0m.4 .9h0m.1-2.2h0m1.1 1.1h0m0-.1h0m.9 2.3h0m.1-1.9h0m.2-1.7h0m.1 2.7h0m.3 1.7h0m.6-1.1h0m.2-2.3h0m.3-.1h0m.1-.4h0m.4 3.4h0m0-5.1h0m.8 .7h0m29.3 .9h0m111-1.7h0m0 2.4h0m2.4 .9h0m54.4 .3h0m1.1-3.2h0m.5 5.2h0m1.3-3h0m.8-.8h0m15.6-1.3h0m.4-.3h0m.4 3.4h0m.1-2.2h0m.1 2.7h0m.1-2.6h0m.7 3h0m.1 .9h0m.1-2.4h0m.2-2.6h0m.6 1.6h0m.2 3.1h0m.1-2.4h0m.4-1.1h0m.5 3.6h0m.7-2.3h0m0-1h0m.2 .7h0m.2-2.2h0m.5 .8h0m.5 3.3h0m.3 .3h0m1.1-1.9h0m1.6 1.4h0m12.6-1.8h0m123.2 3h0m1.2-4.4h0m1.9 2h0m0 1h0m.9-2.4h0m52.1-1.7h0m.6 2.5h0m1.8-.9h0m.1 3.3h0m1.9-.5h0m12.6-4.2h0m.2 .6h0m.1-.9h0m.4 .7h0m.1 1.5h0m.5 .9h0m.2-1.8h0m.1 .6h0m.2 .8h0m.1 2h0m.4-3.3h0m.2 3.2h0m.1 0h0m.6 .9h0m.2-2.6h0m.1 2.3h0m.6-4h0m.4 1.2h0m.5 1.4h0m1.8 1.4h0m-526.1 5.2h0m.1 0h0m.7 .8h0m1.5-4.9h0m.6 5.4h0m.3-4.3h0m.7 .9h0m1.3 .4h0m.2 .5h0m21.3-2h0m38 0h0m.1 .7h0m2.3-1.9h0m1.1 3h0m.1 1.4h0m10.9-4.3h0m.4 .3h0m.1 .6h0m.2 3.3h0m.5-.9h0m0-.7h0m.3 1.4h0m.2-2.2h0m.8-1.6h0m0 2.8h0m.3 .2h0m.7 .5h0m.3 1.7h0m.1-3.4h0m.1-.4h0m.1 0h0m.4-.8h0m1.1 1.7h0m.5-1.9h0m.4 5.2h0m.6-.6h0m0-.9h0m.9 .5h0m.1-1.2h0m1.2-1.3h0m17.3 3.1h0m1.9-5.5h0m3.9 5h0m111.1-.6h0m1.2-2.4h0m1.3 1.3h0m1.3-.9h0m1.1 2.7h0m.9-4.7h0m58.9 0h0m1 1.2h0m.2 .4h0m.8 1.4h0m.3 .5h0m.8 .8h0m13.2-3.8h0m0-.6h0m.1 .7h0m.1-.2h0m.7 1.7h0m.1-1.1h0m.2 1.3h0m.1-.6h0m.8 1.8h0m.3 .8h0m.1 .1h0m.2-2.8h0m1.2 0h0m.1-2h0m.1 0h0m0-.1h0m1.3 3.7h0m.9-1h0m.2 1.7h0m.7-1.4h0m0-.5h0m.5 2.3h0m.2-3.1h0m.1 1.3h0m.2 2.5h0m.4-2.5h0m.1 1h0m.6 .5h0m.5 1.4h0m.7-2h0m1.3 1.9h0m13.5-5.1h0m22.3 2.4h0m94.6 2.1h0m2.8-4.5h0m.2 2.1h0m.5-.9h0m.3 2.9h0m2-1.5h0m25.4-1.9h0m8 1.2h0m20.9 3.2h0m1.5-3.3h0m.1 3h0m14.9-4.2h0m0-1h0m.2 .3h0m0-.1h0m.4 2h0m.8 1.3h0m.3-2.2h0m.3 3.7h0m.6-.6h0m.2-.8h0m.2-3.8h0m.3 5.2h0m0 0h0m.1-2.6h0m.1-1.3h0m.5 2.3h0m.2 1h0m0-2.3h0m.7 2.9h0m.2-1.1h0m.1-3.1h0m.7 2.3h0m0-.4h0m-527.3 3.5h0m.1 3.1h0m.4 1h0m.1-1.8h0m3.5-1.8h0m.2 .6h0m62.3 .9h0m3.1 2.8h0m.1-1h0m.2 1.6h0m11.7-4.5h0m.4 1.4h0m.2-2.4h0m.5 .1h0m.2 2.8h0m.3-1.7h0m.3-.6h0m.1 3.4h0m.1 .4h0m0-4.5h0m.2 4.6h0m.1-1.8h0m0 .9h0m.4-2.3h0m.2 2.3h0m.9 1.2h0m0-3.2h0m.1 2h0m.3-1.5h0m1.3 3.5h0m.2-3.6h0m1-1.6h0m.4 2.1h0m.3-1.7h0m1.9 3.4h0m.2-1.4h0m.5 2.5h0m1.3 .3h0m24.7-1.3h0m106.4 .7h0m.2-3.3h0m.9 3h0m1 .1h0m.9-1.3h0m.3-3.6h0m.8 1.1h0m46.2-1.4h0m9.7 .2h0m1.8 3.9h0m.2 .9h0m1.4-.3h0m.4-3.2h0m2.6-.4h0m.2 1.9h0m1 .7h0m13.7-3.6h0m1.6 1.8h0m.1 .3h0m0 1.1h0m.5-1.1h0m.2 1.6h0m.5-2.6h0m.2-.6h0m.2 3.9h0m.1-1.6h0m.1-1.3h0m0 3.9h0m.2-3.6h0m.7-.4h0m.2 1.1h0m.4 3.1h0m0-5.4h0m0 3.6h0m.1 .5h0m0 .4h0m.4-1.2h0m.3 2.1h0m.1-.4h0m0-.5h0m.9-.4h0m.1-3.5h0m2.1 1.3h0m.1-1.7h0m0 4.6h0m.7-4.2h0m1.2 2.2h0m1.8-.5h0m125 2.5h0m3.8-2.4h0m.1 2h0m2.2-4.1h0m1.8 .5h0m.5 4.2h0m1.3-1.6h0m52.4-1.5h0m.8-2.2h0m1.4 3.6h0m1.2 2h0m1.2-1.3h0m13.7-3.9h0m.8 1h0m.1-1.3h0m.2 2.3h0m1.1 2.2h0m0-.3h0m.3 1.1h0m.8-2.1h0m.2-1h0m.9 1.5h0m.3-1.9h0m.5-.3h0m.1 1.8h0m.1-2.9h0m.3 1.6h0m1.1 2.7h0m.1 .8h0m.4-.2h0m17.1 .5h0m20.6-4.1h0m-570.2 4.6h0m1.5 3.1h0m.7-3.4h0m.1 5h0m.6-3.9h0m2.1 2.7h0m1 1.4h0m.8-4.9h0m.1 1.7h0m.2 1.7h0m.7-3.4h0m.7 5.2h0m.2 .2h0m.1-2.6h0m50.5 1.4h0m9.9-4.1h0m3.4 2.6h0m.7 1.3h0m.2-1.1h0m.5-1.5h0m1.7 4h0m12.2-4h0m.3-.8h0m.1 .5h0m.9 2.3h0m.2-.8h0m.4 2.1h0m.7 .9h0m.1-4.7h0m.2 4.6h0m.2-4.8h0m.6 4.5h0m.5-2h0m0 .3h0m0 .2h0m.5-2.7h0m.6-.8h0m1 2.4h0m.2 .2h0m.2 2.2h0m0-3.2h0m0-2h0m.3 2.9h0m0 1.6h0m.2-.6h0m2.7-.7h0m2.6-2.2h0m7.9 4.7h0m28.2-.3h0m85.5-3.2h0m1.2 3.4h0m.1-1.3h0m1.6 1.4h0m1.2-4.4h0m.6-1.1h0m1 .7h0m1.2 4.9h0m.1-2.1h0m.1-3.4h0m.6 .8h0m1.4 3.6h0m1.1-4.4h0m1.8 4.9h0m45.5 .3h0m10.6-4.4h0m1.8-1.2h0m.6 4.8h0m1.4-2.9h0m2 1.4h0m.7 2.5h0m0-2.3h0m.5 1.8h0m12.2-5h0m2.3 1.1h0m.5 .3h0m.1-.5h0m.1-.8h0m.6 1.7h0m.6 2.1h0m.5 .2h0m.5-1.9h0m.1 .3h0m.6-2.6h0m.4 .9h0m.1 4.4h0m.4 .3h0m.7-4.4h0m.3 1.7h0m.4 .3h0m.2 1.8h0m.4-5h0m.1-.3h0m0 1.8h0m.4-.4h0m.2 1.2h0m0 2.2h0m.2-.5h0m0-4.3h0m.6 4.8h0m.3-1h0m.1 1.2h0m.1 .4h0m1.3-1.5h0m27.5-3.8h0m64.8 .7h0m10.5 4.5h0m14.5-4.7h0m5.6 .9h0m5.5 1.5h0m1.5 1.8h0m1.5-3.8h0m.1 4.3h0m1.2 .1h0m.3-4.9h0m1.3 4.8h0m.4-1h0m47.2-.3h0m2.3-.8h0m5-3.1h0m.3 1.6h0m.1 .6h0m.9 3.3h0m5.9-1.8h0m10.6-3.6h0m1.1 .8h0m.1 1.4h0m0-1h0m.4 3.3h0m.2-4h0m.2 2.1h0m.3-2.8h0m0 4.2h0m.5-2.8h0m.6 2.4h0m.2-2.3h0m.6 3.9h0m.1 .4h0m0-.9h0m.2-1.2h0m.2 1.1h0m1-2.3h0m.1 2.9h0m.8-1.7h0m18.5-2h0m5-1.4h0m43 3.8h0m-602.1 4.9h0m1.7 1.8h0m.2-1.3h0m.5-.1h0m.1 .1h0m.3-1h0m1-.6h0m1 3.5h0m.9-1h0m0-4.3h0m.1-.1h0m.6 3.9h0m.8-.9h0m.1-1h0m.4 1.6h0m.4-3.3h0m.5 .3h0m.3 2.8h0m1-.7h0m11.6 2.1h0m24.9-2h0m28.9 .4h0m.4-2.7h0m.7 3.4h0m.5-1.3h0m.9 2h0m.2 .8h0m12.8-4.9h0m.5 .1h0m.6 0h0m.4 2.5h0m.3 2.4h0m.2-4.5h0m.6 0h0m.6 2.7h0m0-2.7h0m.2 3.6h0m.7 1.3h0m.4-2.8h0m0-.5h0m1.1 2.1h0m.3-1h0m.2 .9h0m0-.7h0m0 .2h0m.5 1.6h0m.5-.1h0m.3-.8h0m.1-2.7h0m.1 1.2h0m1.1-2.2h0m.7 1.3h0m.2-.1h0m1.1 3.1h0m.2-2.2h0m36 1.5h0m4.9-1.4h0m17.8-2.2h0m62.7 1.3h0m.3-1.2h0m1.9 1.2h0m1-1.5h0m1 4.1h0m.4-2.9h0m2.2 1.7h0m.7 .3h0m.3-2.7h0m0 2.8h0m1.8-1.2h0m1.7 1.3h0m.4-3.3h0m47.4 3.9h0m11.4 .2h0m.4-4.1h0m.5 3.9h0m1.3 1.1h0m.2-4.7h0m.8 3.2h0m0-2h0m.3 .5h0m.7-1.9h0m2.5 3h0m15.9-2.6h0m.2 .3h0m.4-.1h0m0-.4h0m1 1.7h0m.5 1.4h0m.2-4h0m.2 2.3h0m.3-.8h0m.4 2.5h0m.2 1.5h0m.2-5.4h0m.1 4.8h0m0-4.5h0m.2 4.4h0m.1-1.8h0m.1-.2h0m.2 .9h0m.7-.2h0m1.5-2.6h0m1.1 1.7h0m.1 0h0m.9 1.1h0m.6 1.6h0m119.1-2.1h0m1.3-1.4h0m.4 1h0m1.1-1.1h0m0-2.1h0m.5 2h0m3.5 3.2h0m.9-.4h0m0-2.5h0m3.4-.8h0m3 2.6h0m.1 1.1h0m50.5-5h0m.2 3.4h0m.4 1.5h0m.4-4h0m.7 3h0m.6 1.3h0m2.4-2.9h0m17.5-2.1h0m.5 .1h0m.2 1.3h0m.4-.3h0m.3 1.2h0m.6 1h0m.5-1.7h0m.3 3.2h0m0-4.2h0m.5 1h0m0 3.5h0m.1 .4h0m.5-5.7h0m.2 2.9h0m.4 2.5h0m0-2.2h0m.1-.2h0m.3 1.3h0m2.9 .1h0m.3-.6h0m.7 .9h0m73.8 0h0m-617.3 6.1h0m1.7-.7h0m1.1-2.3h0m1.2 3.1h0m1.3-4.6h0m.4 2.7h0m.6-1.1h0m.5 3.4h0m.5-5.4h0m1.5 2.4h0m1 1.1h0m1.1 0h0m.5-2.2h0m1.5 3.7h0m.2-3h0m.4 3.8h0m.2-5.5h0m1.2 2.2h0m8-1.4h0m51 2.8h0m4.7-1.9h0m.6-1.5h0m1.9 .9h0m1.3 3.8h0m.2-2.2h0m1 1.1h0m14.4-3h0m1.1-.8h0m.3 1.5h0m.2 1.8h0m.1 .1h0m.7-1.4h0m1.2-1.1h0m.4 4.6h0m.2-.8h0m.3-.8h0m1.4-.5h0m.1-1.4h0m.9-.2h0m.4-1.6h0m.2 3.7h0m.1-.4h0m.3 1.2h0m.7-.2h0m.6-2.5h0m0-.7h0m0-1h0m.7 3.1h0m.1-.1h0m.1 1.2h0m116.5-1.9h0m1.5-2.6h0m1.6 4.4h0m.1-1.8h0m.7-2h0m.4 .2h0m.3 3.4h0m.2-2.5h0m.3-1.5h0m.6 4.3h0m.1-4.6h0m.7 .9h0m.5 1.9h0m.1-1.3h0m.8 3.8h0m.1-1.4h0m1.3-3.7h0m.2 4.8h0m.6-1.9h0m.6 2.3h0m2-5.3h0m.5-.4h0m.9 4.5h0m.1-2.8h0m.5 2.7h0m9.3-4.4h0m47.3 1.9h0m2.1 .7h0m1 2.5h0m2.1-.2h0m.9 .1h0m0-4.9h0m.8 4.3h0m.5-3.3h0m.8 2.7h0m.5-3.3h0m.2 1.9h0m.1 1.1h0m18.1-2.9h0m.2 .4h0m.4 .3h0m0-.8h0m1.2 3.2h0m.1-.3h0m.3 .1h0m.3-2.2h0m.1 3.8h0m.1-2.3h0m.4-2.5h0m.3 .3h0m1.4 1.2h0m1.7 .9h0m0 2.2h0m1-.3h0m.1-2.2h0m.3 3h0m.1 .1h0m.5-2h0m.6 1.2h0m0-.2h0m27.9-.8h0m36.4 .9h0m49 .7h0m1.2 .2h0m.1-1.2h0m.2-.7h0m1.2 1.9h0m1-2.9h0m.6 3.3h0m.3-2.5h0m.1-.7h0m3 1.7h0m.1-1.5h0m2.2-2.3h0m1 0h0m1 5h0m.1-5.1h0m.7 .5h0m.8 2.6h0m2.4-3.6h0m1.7 4.2h0m22.7 1.7h0m26.6-4.1h0m2.1 .7h0m2.6-2.2h0m.9 4.1h0m.7-1.8h0m1.3 .4h0m.7 .9h0m.4 1.8h0m2.1-.6h0m16.1-3.7h0m0 .7h0m1.1-.1h0m.4 2.1h0m.3 1.1h0m.1-.5h0m0-3.7h0m1 5h0m.1-5.5h0m.1 .3h0m0 .4h0m.1 .9h0m0 2.8h0m.2-2h0m1.3 1.6h0m.3-.9h0m0 2.1h0m.2-1.7h0m1.2-1.1h0m.7 .4h0m-546.8 5.1h0m.1 1.3h0m.2-2h0m2.4 .5h0m.2 1.5h0m.1-3.6h0m1.6 5.3h0m.1-4.7h0m1.8 1.9h0m.5-.6h0m.3-1.7h0m1.2 .4h0m1.9 .3h0m.1 .9h0m.6 4h0m.5-5.6h0m3.5 4.2h0m.3-2.1h0m.6-1.1h0m.2 3.8h0m.9-2.9h0m7.3-1.1h0m2.4 3.5h0m7.2 1h0m3.3-3h0m2.3-.9h0m43.4-.3h0m.9 3.7h0m1.3-4.9h0m.8 1.6h0m.1 2.7h0m.9-1.1h0m.3 .9h0m14.5-3.4h0m.9-.3h0m.4-.2h0m.1 1.3h0m.5 3.7h0m.3-1.4h0m.1-.4h0m.6 .4h0m.1 .8h0m0-.7h0m.1-.4h0m.1-.4h0m.1 2.4h0m.6-4.8h0m.1 .9h0m0-1.1h0m.4-.5h0m.3 3.9h0m.9-1.6h0m.2 .7h0m.1-.9h0m.6-1.5h0m.9 4.8h0m.1-5.5h0m1.6 5.4h0m.5-1.4h0m114.3-2.4h0m.1 3.2h0m.1 .4h0m.8-1.7h0m.4 1.4h0m.5-.5h0m0 .8h0m1.4-.1h0m.8 .5h0m4.1 0h0m.1-4.6h0m3.4 2.9h0m0-3.3h0m.1 4.6h0m.2-3.3h0m1 1.5h0m.1 1.5h0m1.7-2.3h0m46.6 .6h0m4.6-2.4h0m4.7 4.7h0m1.5-.4h0m.8 0h0m.9-5.1h0m4-.1h0m.7 4.1h0m.7 .4h0m.4-2.9h0m.3 1.3h0m1 .8h0m.2-2.3h0m.3 .7h0m.1 .9h0m20-1.9h0m.3-.7h0m.5-.3h0m1 3.2h0m.4-.9h0m0 1.4h0m.6 .5h0m0-1.7h0m.2 2.7h0m.6-4.9h0m.5 3.9h0m.5-.4h0m.3-3.6h0m.2 4.9h0m1-1.9h0m.1-2.3h0m0 .4h0m1 .7h0m0 3.2h0m1.8-.9h0m.7 1.5h0m108.8-3.3h0m2.5-2.4h0m.6 2.9h0m.8 2.6h0m2-4.7h0m.8 4.3h0m2-3.6h0m.6 3.6h0m2.4-2.1h0m.2-1h0m1.6 3.3h0m.2-3.8h0m2.9 2.5h0m.6 .6h0m1.5 .5h0m.4-2.5h0m53-.5h0m2.6-1.6h0m1.2 .6h0m.7 4.4h0m.6-3.7h0m.6 1.1h0m0 .2h0m.1 0h0m1.3 1h0m.8 1.2h0m16.5-5.3h0m.1 .5h0m.8 .2h0m0 .6h0m0 .6h0m1.3-.1h0m0 1.9h0m.1-1.5h0m.5-1.2h0m0 3.8h0m.1-2.5h0m.1 1.8h0m1.8 .4h0m0-1.1h0m.2-1.3h0m.6 3.3h0m.4 .2h0m.9-2.2h0m.3 1.1h0m.5 1h0m.5-1.4h0m-563.4 5.2h0m10.7-1h0m.3 1.8h0m.2-2h0m.8 1.3h0m0 1.9h0m.5-1.6h0m2.3-1h0m1.9-2.7h0m.5 1.4h0m.5 1.7h0m.6-2.6h0m1.5-.1h0m.1-.3h0m.8 5.2h0m2.8-4.1h0m2.3-.2h0m.6 3.7h0m1.5-1.2h0m.3-.5h0m0-.4h0m.5-2.2h0m.4-.6h0m.1 5.9h0m2.1-2.1h0m2-2.1h0m1.3 .9h0m60.9 .9h0m1.3-2.7h0m.6 2.1h0m.7-2.5h0m.1 1.6h0m2.3 .2h0m.4 3.3h0m.3-1.3h0m15.8-3.8h0m.8 1.4h0m.4 1.3h0m0-.4h0m.2-1.9h0m.1 1.8h0m.5 1.6h0m.4 1.5h0m0-4.9h0m.9 3.6h0m.1-2.3h0m.5 1.2h0m1.5-3.3h0m.1 .2h0m0 2.7h0m.1-.7h0m1 .6h0m.6 2.7h0m.2-4.4h0m1 2.9h0m.3 1.6h0m.3-1.8h0m3.9-.4h0m13.9 1.9h0m88.6-.2h0m6.5-2.6h0m.5 0h0m.4-1.8h0m.5 2.9h0m.5-.5h0m1.4-2.9h0m.1 .9h0m1 3.2h0m.4 .6h0m1.2-3.1h0m2.7 1.3h0m.4 1.7h0m.2-3.8h0m.4 2.4h0m.6 .8h0m.1-3.3h0m.1 2.1h0m.1 2h0m.2 .3h0m.2-.7h0m.4-4.3h0m1.7 .6h0m.4 1.7h0m.4-1.2h0m.4-.9h0m.9 1.5h0m0-1.2h0m.2 2.3h0m.4 1.3h0m.9 .1h0m.6 0h0m1 1.5h0m.7-4.7h0m.5-1.2h0m8 5h0m4.2-4.4h0m7.9 5.1h0m30.4-1.5h0m2.6-2.4h0m1.6-1.2h0m.5 4.3h0m.4-2.9h0m.7 .2h0m1.9 2.5h0m1-3.3h0m1.5 1.9h0m1.1 .8h0m.4 1.1h0m.7-5.3h0m1.8 3.6h0m21.1-2.4h0m.7-1.1h0m.4 2.1h0m.1-1h0m.1-.3h0m.3-.3h0m.1 3.1h0m.2 .4h0m1.5 1.1h0m.5 .2h0m.2-5.2h0m.4 2.5h0m.4 2.1h0m.1-1.2h0m.4-1.3h0m.7-.5h0m.4 .2h0m.3 3.9h0m.8-2.4h0m.2-.3h0m0 1.6h0m.8-.5h0m6.4-2.1h0m22.2-1.8h0m74.2 2h0m1.6 2.1h0m.1-1.6h0m1.6-1.8h0m.2 .3h0m1 3.2h0m.7-2.2h0m.3 .9h0m.3 .1h0m.5-.2h0m.2-.4h0m0-.6h0m.2 1.6h0m0 .7h0m.2-1.3h0m.1 2.7h0m.3-3.6h0m.2 3.4h0m1.4-4.8h0m.1 3.2h0m.3-.3h0m1 2.1h0m.1-4.1h0m1.2 2h0m1.1-.4h0m.1 .8h0m.6-3.9h0m.2 5h0m.1-2.1h0m.6 .4h0m.2 .7h0m.1 .6h0m.1-2.6h0m.2 2.8h0m.4-.7h0m.2-1.5h0m.2 1.2h0m.1-2.7h0m1.3 3.7h0m.3 .2h0m.3-.9h0m.4-1.4h0m3.2 1.1h0m2.8-2.9h0m.7 4.3h0m1 .1h0m1.5-1.6h0m1.8-1.4h0m47.8 .3h0m1.1-1.8h0m2.3 .5h0m.1 2.8h0m0 .6h0m1.2-1.6h0m.1-1.3h0m1.1-1.6h0m1.4 2.9h0m.3-2.9h0m1.2 4.1h0m.1 .9h0m18.2-5.4h0m.6 2.3h0m.6 1.1h0m.2-.2h0m0-.8h0m.4-.1h0m.4-1h0m.2 3.6h0m.6-1.1h0m.4 .4h0m.1-.1h0m0-2.9h0m.1-1.1h0m.2 .6h0m.4 5.1h0m1-3.7h0m.2 2.2h0m.2-3.5h0m.2 5.1h0m.2-4.1h0m.3 1.9h0m.4-.8h0m.1 1.3h0m37.4-2.2h0m-603.5 6.7h0m.7 1.2h0m1.4-2.2h0m3.3 2.5h0m3.3 .4h0m.7 .5h0m.3-4.9h0m.4 1.4h0m.2-.1h0m.1 2.9h0m1.5-2.8h0m.7 3.5h0m.4-4.2h0m.1 4.6h0m.3-4.2h0m1.1 3.7h0m.2-2.3h0m.4 0h0m.6-1.2h0m0 4.2h0m.9-1.6h0m.2-1.4h0m.4 2.3h0m.5-5h0m1.2 5.9h0m.8-4.9h0m.6 4.6h0m1.4-1.1h0m.8-3.2h0m.2-.4h0m.2 4.4h0m.5-3.8h0m1.1-.7h0m1 2.7h0m1.5-.3h0m1.1 1.3h0m0-2.6h0m.6 .3h0m1.5 3.6h0m1.9-2.8h0m0-2.7h0m4.2 3.3h0m.8-3.5h0m2.8 2.1h0m34.9-.7h0m22.1 .7h0m1.9-1.9h0m.4 1.3h0m1.4 3.5h0m.1-1.6h0m.4 1h0m.5 0h0m.7-2.5h0m17.3-1.8h0m.3 1.2h0m.7 1.3h0m.1-.1h0m.5 1.4h0m1.1 .7h0m0-4.4h0m.1 5.4h0m.1-2.9h0m0 2.6h0m0 .2h0m.7-1.7h0m.9-3.8h0m.2 1.3h0m.5 .8h0m.4 1.3h0m.2-2.4h0m1.6 2.6h0m108.6 2h0m.1-1h0m2.3-4.8h0m.1 4.7h0m1.7-2.8h0m.3-.8h0m1.1 0h0m1 1.7h0m.2 2.5h0m.4 .4h0m.3-2.2h0m.1 .4h0m0 .5h0m.9-.6h0m.9-.7h0m.2-1.9h0m1.3 1.7h0m.1 .8h0m1.7-2.5h0m.8 .4h0m.8 1h0m.1-1.9h0m.2 1.4h0m.2-.4h0m1.4 2.7h0m.7-1.5h0m0 .8h0m1.6-.9h0m4.3 .3h0m3.3 .6h0m2-.2h0m28.3-1h0m15.6-2h0m3 .8h0m3.1 3.5h0m.1-1.3h0m1.1 2.4h0m.4-4.6h0m1.3-.9h0m1.1 4.7h0m.6-2.8h0m.9 .4h0m.7 3.2h0m0-4.4h0m.2 1.8h0m2.4 .1h0m.5-1.2h0m.3 2.5h0m25.2-4h0m.1 .1h0m.1 .5h0m.3-1h0m.5 2.4h0m.5 .7h0m.2-1.9h0m.9 3h0m0-2.4h0m.3 1.4h0m.1 .8h0m.6 1.3h0m.1-.7h0m.1-3.4h0m.4-.9h0m1.1 4.8h0m.1-2.9h0m.9-1.2h0m.4 1h0m.1 2.2h0m1.1-.8h0m.2-.3h0m1 2.3h0m34.3-3.7h0m57.4 .1h0m3.3 .5h0m2.6 1.5h0m1.7-.6h0m1-1.4h0m.3 .5h0m1.1-.8h0m.8 .5h0m.7 1.4h0m.1-3.6h0m.3 1.5h0m.3-.1h0m.6 3.3h0m.4-3h0m.6 1.3h0m.4-2.4h0m.4 1.7h0m.6 .9h0m.1-.3h0m.4-1.1h0m.3-1.6h0m.4 2.7h0m.7-1.2h0m.8 0h0m.2-1.8h0m.9 4.9h0m0-2.5h0m.9-.3h0m.4 1.6h0m0 .6h0m.2-2.6h0m.1 4h0m.1-.3h0m.1 .3h0m1.2-.9h0m.7-.8h0m0-2.3h0m.5 3.3h0m0-4.4h0m0-.6h0m.5 2.3h0m.4-1.1h0m.1 3.5h0m.5-2.5h0m.4 0h0m.1 3.7h0m.2 0h0m0-1.7h0m0-4h0m.4 3.5h0m.2-2.3h0m1.1 0h0m.6 4h0m.4 .5h0m.1-.8h0m.1-1.1h0m.1 0h0m.6-3h0m.4 4.9h0m1.8-1.8h0m1.2-3.1h0m.2 .9h0m.8 2.4h0m.1-2h0m.2 2.7h0m4.2-4.3h0m48.2 4.3h0m1.8 .5h0m.9-4.3h0m.1-.1h0m.1 1.4h0m0 .4h0m.4 .7h0m.5-3.2h0m.5 2.7h0m.8 2h0m.7-5h0m.3 4.2h0m.8-2.1h0m20.5-1h0m.3-.8h0m.4 2.1h0m1-2.5h0m.1 1.3h0m.4 .3h0m.2 .8h0m.6 2.6h0m.4-2.3h0m0 1h0m.3 2h0m0-1.2h0m.4-.2h0m.9 .7h0m.2-1.9h0m.2-2.6h0m.1 3.4h0m.3-1.7h0m.2 2.6h0m1.2 .2h0m-570.7 1.7h0m2.4 0h0m.3 5.2h0m.6-2.1h0m.6-2.4h0m.3 1.2h0m3.5 1.6h0m.9 1.6h0m1.6-2.7h0m.1 1.6h0m.2-3.8h0m.4 3.8h0m.5-2.3h0m.8 .5h0m0-2.3h0m.8 2.5h0m2-2.3h0m1.1 2.4h0m.7-2.3h0m1.9 1h0m.1 0h0m.6-.5h0m.2 2.6h0m.5-4h0m4 .1h0m2.7 4.7h0m.2-1.8h0m.7 2.1h0m1.8 .6h0m.4-5.6h0m1.2 1.4h0m.1 4.2h0m.5-2h0m.1-2.7h0m.2 4.5h0m.4-4.8h0m1.1 4.8h0m.3-5.2h0m.4 4h0m9.1-4h0m20.4 4.7h0m27.7-4h0m3.3 3.3h0m1.2-1.8h0m.2-2h0m2.7 3.5h0m3.1-2.5h0m.2 3.8h0m.3-1.7h0m.8 .1h0m1.2-1.2h0m7.1-1h0m12.8-.3h0m0 .2h0m1.1-.8h0m1.5 3.1h0m.4-3.6h0m0 5.5h0m.5-3.2h0m0 .4h0m.1 2.4h0m.6-4.6h0m.1 1.8h0m.6 2.1h0m1.4 .5h0m.2 .2h0m.3-3.6h0m.6 1.7h0m.3 1.6h0m.7-1h0m16.8-3.8h0m81.8 1.9h0m7.9 2.4h0m.9-.6h0m2.5-3.5h0m.1 .7h0m.3-.9h0m.2 4.7h0m.2 .7h0m.1-1.6h0m.6-.6h0m.1 2.3h0m.2-4.2h0m.5 .1h0m2.4-.2h0m.6 4.4h0m.5-1.9h0m0-3.6h0m.1 2.9h0m.8 1.9h0m1.4-2.1h0m3.4-1.8h0m1.5 .8h0m.1-.4h0m.4-.4h0m.2 .5h0m1.3 1.4h0m.5-1.4h0m.2 .2h0m1 .1h0m.2-.4h0m.4 2.7h0m.7 1.6h0m4.2-4.2h0m22.1-.5h0m16.4 4.2h0m10.6-4h0m.2 2.7h0m2.9 .8h0m.1-2.4h0m2.3 3h0m1-4h0m.2 1h0m.1 1h0m.3 2.1h0m.2-5.1h0m2.2 3.1h0m.7-3.5h0m0 2.4h0m.8-1.4h0m.1 2.8h0m28.7-2.7h0m.3 .1h0m.4 0h0m.6 1h0m.1-1.4h0m.2 1.8h0m.3 .7h0m1.6-2.5h0m0 2h0m.1 2.1h0m.2 0h0m.2-.2h0m.9-4.4h0m1.7 2.9h0m.4-1.2h0m.1 3.9h0m.1-1.9h0m.3-1.4h0m.7 2.6h0m.8 .3h0m46.9 .2h0m31.6-.1h0m.4-5.1h0m1.5 5.4h0m7.7-3.4h0m2.7 2.7h0m1.4 .3h0m.4-1.1h0m.5 .8h0m.4-4.3h0m.1 1.1h0m.2 .2h0m.9 1.3h0m.1-3.5h0m.1 4h0m.2 .4h0m.1-2.7h0m1.3-.6h0m.3 3h0m.4-2.7h0m.1 1h0m.2 2.7h0m0-1.9h0m.1 .5h0m.4 .1h0m.3 2h0m.1-4.7h0m.2 1.6h0m.1-.8h0m0 2.4h0m.1 1.1h0m0 .2h0m.8-1.2h0m.8-2.3h0m.5 .8h0m.2 1.4h0m.7-3.8h0m.3 5h0m2.4-.6h0m.2-.9h0m.2-1.5h0m.2 3.1h0m.9-3.8h0m0 2.2h0m0 .4h0m.4-3.6h0m0 3.4h0m.1-1.6h0m.1-.6h0m1.6 .3h0m.6 .3h0m.7-2.1h0m.3 1.5h0m.2 .7h0m.2 3.1h0m.4-4.6h0m0 0h0m.2 .6h0m.3 2.3h0m1.1-.8h0m.3-3h0m.7 .9h0m.1 .1h0m.6 2.1h0m.8-.4h0m.6 .4h0m1.8-2.8h0m.1-.5h0m.9 3.9h0m1.1 .4h0m3.1 1.3h0m0-5.5h0m2.1 2.7h0m.2-1h0m5.5 0h0m35.5 3.6h0m5-4.5h0m.8 4.4h0m.6-4.4h0m1.2-.2h0m1.6 3.8h0m1.7-.7h0m.3-1.4h0m.6 .9h0m0 2h0m1.8-1.5h0m.1-1.7h0m.2 2.4h0m.1-4.2h0m.2 .8h0m24.1-.7h0m.5 .6h0m1.8 1.6h0m.5 3.1h0m.7-2.9h0m.4 2.7h0m.1-3.4h0m.1 .8h0m.3 1.6h0m.1-2.8h0m.1 3h0m.1 .6h0m.2-4.3h0m.2-.9h0m.5 .6h0m1.3 2.9h0m.2-.1h0m.8 1.3h0m-572.1 3.9h0m5 .8h0m.4 .2h0m.5-1.5h0m0-1.3h0m.5 2.3h0m.2-.2h0m.4-.7h0m1.5-.4h0m.1 3.1h0m.2 .6h0m.4-1.6h0m.3-4h0m.2 3.4h0m.3-2.1h0m.2 1.9h0m1.1-3.1h0m0 .3h0m.7 2.9h0m.3-.6h0m.2 2.5h0m.3 .7h0m.6-5.5h0m.8 2h0m.2 .5h0m.2-1.3h0m.3 .5h0m.8-1.3h0m2.6 1.7h0m.4 1.1h0m.4-3.4h0m1.3 .6h0m1.9 2.9h0m1.1-.6h0m.5-2.6h0m.3 1.3h0m.2 3.1h0m.5-4h0m.3 4.1h0m.6-3.3h0m2.1 1.1h0m1.9 2.5h0m.1-5.3h0m.1 5.4h0m.1-5.3h0m1.8 1.3h0m.1 1.6h0m1.3 2.6h0m.3-.3h0m.1-5.4h0m.7 1.6h0m0 .9h0m.9-1.8h0m.7 2h0m3 1.8h0m4.5-1.8h0m17.5-1.4h0m3.9 3.5h0m1.7-4.1h0m30.5 1.7h0m.5 2.1h0m.8-1.1h0m.8 1.1h0m2.1 .9h0m1.1-3.4h0m.3-1.1h0m22.6 .1h0m2.3-.3h0m.1 2.4h0m.1-.3h0m.5 1.9h0m1 1h0m.1-3.3h0m.1 2.9h0m.1-3.3h0m0 .3h0m.1-.5h0m.1 1.8h0m.2-2.8h0m.2-.4h0m.2 2.8h0m1.6 1.1h0m.8-.1h0m.6 1.3h0m98.3-.9h0m.6 1.3h0m1.7-2.8h0m0-.2h0m.8-.6h0m1.1 3.4h0m.2-1.1h0m.9-1.8h0m.6-.7h0m1 2.8h0m.4-1.8h0m1.5-2.7h0m1.7 2.7h0m.7 1.4h0m.8-1.7h0m1-2.6h0m.2 5.6h0m1.5-2.8h0m1.6 2.7h0m.1-.2h0m.5-1.7h0m.7-2.3h0m5.7 4.4h0m.4-.8h0m.4-1.8h0m.1-1.7h0m.3-1h0m.1 2.8h0m.7 0h0m.3-.3h0m.9-.3h0m.4 1.7h0m.2-3.9h0m.8 .6h0m1.1 2.8h0m5.3 .1h0m2.8-3.7h0m25.6 4.1h0m1.8 1.2h0m15.3-5.6h0m3.5 1.4h0m1.1 1.4h0m.3-1.4h0m.1 4h0m.1-1.5h0m.7 .1h0m1-1h0m.4-1.7h0m.5 4.6h0m.2-3.7h0m1.3 .6h0m.2-2.1h0m.7 2.5h0m1.4 .8h0m.1-1.1h0m.5-2.6h0m32.6 .3h0m.4 .6h0m.5 2.1h0m0-2.5h0m.1 2.8h0m.1-1.5h0m.2 1.2h0m.1-1h0m.7-1.3h0m.4 3h0m.3-2h0m.2 3.2h0m.1-.1h0m.1-3.7h0m0 3.3h0m.2 0h0m1.3-.6h0m.5-3.4h0m.1 .3h0m.2 4.9h0m1.6-.1h0m24.2-3.3h0m45-.2h0m2.8 1.2h0m5.5-3.2h0m.6 .3h0m6.7 3.7h0m1.2-2.4h0m.7 .6h0m.7-.5h0m.3 1.9h0m.1 1.1h0m.9-1.8h0m.1 1.6h0m.1 0h0m.2 .2h0m.3 .9h0m.2-2.3h0m0-3.7h0m.3 4.4h0m0 0h0m.6-2.7h0m1.4 1.9h0m.2 1.9h0m0-4.8h0m.2 .5h0m.2 .1h0m.2 3.5h0m.1-4.4h0m.1 2.9h0m0 .4h0m.7-.9h0m.7-1h0m1.7-1.4h0m.2 1.8h0m.5 3.6h0m0-.3h0m.8-4.7h0m.4 2.3h0m.6-3h0m.2 3.7h0m.3 .5h0m.1-2.2h0m1.2-1.6h0m.1 1.8h0m0-.4h0m1.2 1.3h0m.7-2.5h0m.4 4h0m.9-.6h0m.1 1.1h0m0-4h0m.3-.7h0m0 5.4h0m.4-2.4h0m1.1-1.4h0m.3 2.5h0m.3-4.2h0m1 1h0m.3 .6h0m.3 .9h0m.2-1h0m.1-.9h0m.7 .7h0m.1 3.6h0m.3-4.2h0m.2 2.4h0m.6 1.5h0m.2-3.7h0m1.1 1.8h0m.3-1.6h0m.5-1.4h0m.4 2.3h0m.3-.1h0m.1 .6h0m.7 1.8h0m.2-2.9h0m.6 .6h0m.5 2.7h0m.1-1.7h0m.4 1.5h0m.3 1h0m0-5.8h0m.4 5h0m1.6-5h0m.1 .7h0m.1 .6h0m.2 2.8h0m.2-2.9h0m1.5 1.1h0m1.9 3.4h0m1.4-.9h0m.2-3.6h0m.2-1.2h0m.4 4.1h0m3.6-1.5h0m5.9 2.4h0m.6-3.5h0m33.8 2.6h0m4.7 1.4h0m.5-1h0m0 .5h0m.5-4.3h0m.8 2.9h0m.2-3.6h0m.9 2.3h0m.4 2.5h0m.8-2.9h0m0 3.3h0m1-2h0m.4-2.9h0m.6 2.1h0m.5-.5h0m1.3-.9h0m.6 2.5h0m4.9 .1h0m19-2.1h0m.2 0h0m.3-1.5h0m.2 2.1h0m.5-1.9h0m.3 2.4h0m.2 2.5h0m.5-4h0m.4 4h0m0-1.9h0m.1 1h0m.1-1h0m0-2.1h0m.2 3.2h0m.3 0h0m.6-4.3h0m0 2.7h0m.1-2.7h0m.6 5.9h0m2.1-.3h0m.5-2h0m-573.7 7.1h0m.9-1.4h0m1-2.5h0m1.9 1.5h0m1.2-.4h0m1-.7h0m2.3-.8h0m.5 4h0m.5-.8h0m1.9-3.5h0m.6 3.2h0m.4 1.7h0m.4 .4h0m.2-2.9h0m0-.6h0m.2 2.4h0m1.2-.4h0m.6-3.5h0m.2-.1h0m.4-.1h0m1 4.3h0m.8-4h0m.6 5h0m.1-.8h0m.7-2h0m.1-.8h0m.7 2.9h0m.6-4h0m.6 3.5h0m.8-4.2h0m.5 5h0m.4-2.5h0m.7-2.1h0m.9-.3h0m.3 2.2h0m.6 2.4h0m.1 .5h0m1.4 .5h0m3.6-3.5h0m.9-.4h0m1.7 .4h0m.6-1.2h0m.7-.6h0m.1 .2h0m.1 3.3h0m1.3-4h0m.3 4.7h0m4.8-2.4h0m.3-1.4h0m21 2.6h0m4.4-1.1h0m28.7 .7h0m1.3 2.8h0m.7-1.4h0m.8-4h0m.4 1.4h0m.7 .7h0m29.2-2.6h0m.3 2.1h0m.3-2.1h0m.3 3h0m.1-.7h0m.6 1.4h0m.1-2.6h0m.1 3.6h0m.1 .7h0m0-.7h0m1.2-.8h0m.1 1.3h0m.3-5h0m.1 .8h0m.7 4.1h0m.7-1.6h0m.7-2h0m0 .8h0m8 2.1h0m89.1-2.8h0m.2 .6h0m1.8 .9h0m.7 2.1h0m.1-2h0m.7 1.3h0m.7 .4h0m.3-.8h0m.4 .9h0m1-1.9h0m.4 .7h0m.8-3.5h0m.4 2.2h0m.5 .3h0m.6-.5h0m2.1 1h0m.5 2.3h0m.8-1.8h0m.1-2.2h0m.1 3.1h0m.1 .2h0m.7 .6h0m.6-3h0m.5 2.7h0m.4-3.6h0m1.4 2.4h0m1-4h0m.1 1.5h0m0 .5h0m.6 .5h0m.9-.3h0m.6 .1h0m.4-1.8h0m.2 2.5h0m.4 .1h0m.5-1.5h0m.4 .9h0m.5 3.1h0m0-2.3h0m.4-1.7h0m1.7-.3h0m.2 4.1h0m.2-.4h0m.4 0h0m1.6-2.4h0m.2-2.6h0m.4 3h0m.4-1.8h0m2.4 3.2h0m2.7-1.2h0m.7 2.6h0m.6-.4h0m1.3 .4h0m40.7-4.7h0m.1 1h0m1.4 3.2h0m.5-1.8h0m2.9-1.6h0m.2-1.2h0m5.1 2.4h0m1.9 1.1h0m0-2h0m.2 2h0m.8 .6h0m.5-4.1h0m1.5 5h0m1-3.1h0m1.8 2.6h0m33.1-3h0m.4 .8h0m0 1h0m.7-.6h0m.6-2.3h0m.3 1h0m0 1.9h0m.4-3.3h0m.1 4.8h0m.3-3.1h0m.2-1.3h0m.1 2.1h0m.1-1.4h0m.5 1h0m.7-2.7h0m.3 3.7h0m.3 .4h0m.3-2.6h0m.5 1.2h0m.2-2.3h0m0 5.3h0m.1-.9h0m.1-4h0m0 4.4h0m1.2-1.1h0m64.9-1h0m10.2-.7h0m.4-.1h0m.8 .9h0m3.7 2.1h0m0-.8h0m1-4.2h0m.3 2.2h0m.6 1.4h0m1-1.5h0m.6 1.4h0m.4-2.2h0m.1 1.3h0m.1-1.1h0m1.2-.2h0m.3 3.1h0m0-4.2h0m.2 2.1h0m.4-1.7h0m.1 1.5h0m.4-2.3h0m.1 1.7h0m.4-1.8h0m.6 2.6h0m.3 .7h0m.2 .5h0m.5-.9h0m.1-1h0m.3 0h0m.5 1h0m.1-.1h0m.1-1.7h0m2.7-.7h0m.5 2.2h0m.4 1.1h0m.2 1.8h0m.2-2.1h0m1.7-2.6h0m.4 .4h0m1.2-.9h0m.2 .9h0m.5 3.7h0m.2-4.9h0m.6 3.6h0m.2-.9h0m.2-.9h0m.2-.1h0m.4 1.7h0m0 1.3h0m0-2.6h0m.4-.6h0m.1 3.3h0m.5 .1h0m0-3.1h0m0 3.6h0m.2-.4h0m0-.9h0m.2-.1h0m.1 1h0m.2-2.7h0m.1 3.1h0m.6-4.7h0m.1 4.7h0m.7-4.3h0m0 2.7h0m.1-3.5h0m.8 2.9h0m.9 1.9h0m1-5.2h0m.2 1.1h0m.3 4h0m1.6-1.8h0m.9 1.7h0m0-5.1h0m2.2 3h0m.3 1.6h0m.2-3.9h0m.1 4.2h0m.2-1.8h0m.4-.3h0m.1 2.3h0m.3-4.6h0m.4 3.3h0m.2-1.2h0m.3 3h0m.8-1.3h0m.6-3.7h0m0 1.7h0m.5-1.6h0m.4 .5h0m.2 3.1h0m.1-4.1h0m.9 4.5h0m.2-4.2h0m.9 5h0m.4 .3h0m.1-4.2h0m.1 .7h0m.3-1.6h0m1.7 0h0m1.3 3h0m.9-.4h0m.1-2.1h0m.7 4.5h0m.4-3.2h0m5.1 1.2h0m3.3 .6h0m30.5-3.3h0m.7 2.2h0m2.4 2.6h0m3.7-3.5h0m1.8-.7h0m.6 2.4h0m1.8-.5h0m.2-.5h0m.9-2.1h0m1.5 3.4h0m.2-1.7h0m.6-2h0m.2 3.3h0m.5 1.5h0m.3-.6h0m.1-3.7h0m.3 4.6h0m.3-5h0m25.9 .4h0m.2-1.1h0m0 .1h0m.1 1.9h0m.4-2h0m.3 1.4h0m.5 2.9h0m.4 .2h0m.1 .4h0m.1-2h0m.3 2.8h0m.3-2.8h0m.2 .3h0m0 2.7h0m.7-.5h0m.9-.9h0m.5-1.2h0m.1-.7h0m.1-2.3h0m.7 1.6h0m0-.7h0m1.5 3.8h0m.2-1.5h0m5.4 .8h0m32.3-3.6h0m6 3.4h0m-623.9 6.7h0m2.9 1.1h0m4.8-4.6h0m.1 4.2h0m.2-3.8h0m1.1-1.3h0m.6 5.5h0m.1-1.2h0m.4 .3h0m.7-2.6h0m.3 1.4h0m.5-1h0m1.1-1.6h0m2-.1h0m.1-1.1h0m.2 4.8h0m.7-4.4h0m.3 1.6h0m4.8 2.4h0m3.2-.3h0m.1 1.3h0m.1-1.1h0m0 .9h0m.2-3.7h0m.7 2.3h0m.5 1.3h0m.1-2.2h0m.6 2.5h0m.1-1h0m.4-3.4h0m1.5 4.2h0m.1-2.4h0m.1-1.2h0m1.4 1.2h0m.4 3h0m4-.1h0m2.7-3.5h0m1 3.3h0m.1-1h0m.3-3h0m.2 4.3h0m.8-1.1h0m.1-2.3h0m.5-1.6h0m.8 4.7h0m2.5-.3h0m1.5-4.9h0m3.7 .9h0m2.9 0h0m.9 2.8h0m20.4-.2h0m16.5-2h0m6.7 .2h0m6.6 .3h0m1.9 1.9h0m.1-1h0m.4-.3h0m.8 2.4h0m.6-5.1h0m1 4.9h0m.5-1h0m26.7-3.1h0m.5 1.2h0m.9 1h0m.5-1h0m.1-1.2h0m.6 3.5h0m.1-3.4h0m.2 2h0m.2 2.4h0m.3-4.6h0m.3 4h0m.3-3h0m0 1.4h0m2.6 2.6h0m91-4.3h0m3.8 2.6h0m1.6-3h0m.1 2.5h0m2.4 1.8h0m.2-.2h0m.3-4.9h0m.9 3.3h0m.2-2.2h0m.3 3.4h0m.7-3.1h0m1.9-.1h0m.6 .9h0m.4 2.4h0m.3-2h0m.7 2.6h0m1.8-2.4h0m2.2-2.6h0m1.3 3h0m.3-3h0m3.8 .4h0m.4 2.6h0m.3-3.3h0m2.2 0h0m.9 5.1h0m.5 0h0m.3-4.1h0m.2-.2h0m2.6 2.7h0m1.6-2.2h0m.4-1.3h0m.2 3.9h0m.5-1h0m1.5-2.8h0m.3-.2h0m2.3 5h0m1-1h0m3.7 1.4h0m25.8 .1h0m12.4-5h0m2.6 3.6h0m3.8 .5h0m2.5 .4h0m1-1.7h0m.1 1.9h0m.4-5.2h0m.4 1.4h0m.6-.6h0m2 2h0m1-1.1h0m.6 1.8h0m.7 .4h0m.2-.9h0m.3-.9h0m1 3h0m24.6-.5h0m7.3-3.5h0m0-1.2h0m.3 1.9h0m.4 .9h0m.4 .5h0m.5 1.7h0m0-1.8h0m.2 2.5h0m.5-1.8h0m.2 .1h0m.4 .4h0m.7-2.4h0m.6-1.9h0m0 4.5h0m.5-1.1h0m.1-2h0m1 3.8h0m.2-2.3h0m.5-1.7h0m0-.4h0m.1 1.1h0m.3 3.4h0m.4-5.3h0m.4 4.7h0m.2-2.2h0m2.4 2.9h0m3.1-5h0m57.3 1.6h0m4.2 1.9h0m0-3.2h0m.8 1.5h0m.2-.1h0m.7 3.3h0m2.1-4.3h0m.4 3.4h0m.6 .4h0m3.1-3.9h0m.5 3.5h0m.1 .7h0m.2-.2h0m.2-2.3h0m.1 0h0m.1-.2h0m.7-1h0m.1-1.3h0m.4 1.1h0m.6 4.5h0m.5-2.1h0m.5-2.4h0m.1 2.1h0m.4-1.4h0m.1-.3h0m.1-.3h0m.7 .7h0m.4-1.1h0m.2 3.3h0m.2-4.3h0m.7 0h0m.1 4.5h0m.5-.8h0m0-2.2h0m2.6 2.5h0m.4-1.6h0m3.2 2.3h0m1.1-.8h0m1.4-3h0m.4 2.1h0m.1 1.3h0m.2-1.1h0m.1-2.4h0m.6 4.6h0m0-5.5h0m.7 .4h0m0 .5h0m.1 4.1h0m.5 .2h0m.4-1.3h0m1.4 1.1h0m.6-4h0m.4 1.7h0m1.6-.4h0m.4-.4h0m.8 2.4h0m.1 .9h0m.1-4h0m.3 3.7h0m0-1.9h0m.2-1.7h0m.1 4.6h0m1-1.1h0m.4 .2h0m.4 .4h0m.5-.3h0m0-.2h0m.6 .2h0m.2 .7h0m.4-4h0m.4 .5h0m.5-1.2h0m.3 .1h0m.1 1.5h0m.6-2.1h0m.3 1.7h0m.2-1.8h0m.2 5h0m.3-.8h0m.6-3.1h0m.3 1.3h0m.3 0h0m0 1h0m.6 .3h0m.2 1h0m.1 .6h0m.5-3.5h0m1.8 .1h0m.1 .6h0m.1 2.4h0m.8-.3h0m.1 .4h0m.9-3.9h0m.5-1h0m.2 1.8h0m1.5 3.1h0m.4-2.6h0m.4 .6h0m.3 .9h0m0-1.1h0m.3 .8h0m.9 1.2h0m.6 .4h0m.1-.1h0m.2-4.3h0m.3-.4h0m0 2h0m.5 1.5h0m.6 1.3h0m.2-5.5h0m.4 4.3h0m.1 .6h0m.4 0h0m.2-1.1h0m.4 .6h0m.2-4.3h0m.2 1.5h0m2 1.9h0m.2 0h0m.4 1.4h0m.1-.7h0m.8 1.3h0m1.2-.7h0m.2-2.4h0m1.8-.8h0m2.3 .5h0m4.4 1.1h0m7.3-1.4h0m1.1 .2h0m7.3-1.3h0m10.9 .2h0m2.6 3.5h0m.2-4.6h0m.8 0h0m1.2 3.6h0m2.1 1.7h0m2.7-2.6h0m3.2-1.9h0m.7 .5h0m.6 4.2h0m.5-2.7h0m.6 .9h0m0-.2h0m.1-2.4h0m.5 4.5h0m.1-3.3h0m.7 2.3h0m0-1.2h0m.5 .7h0m26.1-3.7h0m0-.5h0m.7 .6h0m.3 .9h0m.6 1.7h0m.3-.8h0m0-1.1h0m0 1.4h0m.6 1h0m0-1.9h0m.8 3.3h0m1.1-1.7h0m.1-2.7h0m.1 3.9h0m.2 1.2h0m.1-.8h0m.2-1.9h0m.1-.2h0m.1-.2h0m1 2.5h0m.6 .1h0m.5-3.5h0m.1 2.3h0m.1 0h0m-573.1 3.2h0m.5 2.1h0m.1-1.9h0m1.5 3.5h0m.3-2.6h0m0 2h0m1.2 1.5h0m2.7-.9h0m.6-4.6h0m1.4 3.9h0m.6-1.7h0m0-.9h0m.7 4h0m1.2-4.5h0m.2 1.9h0m1.3 2.9h0m.2-3.3h0m0 .5h0m.5 2.6h0m1.6-5.3h0m.4 1h0m1.1 2.4h0m1.5-1.9h0m.3 .9h0m2.7-1.7h0m.4 0h0m.5 0h0m.5 3.8h0m.2-3.6h0m.8-.4h0m.1 4.6h0m.8-4h0m.3 2.4h0m.4-1.7h0m.8 2.2h0m2.4-1h0m.1 .2h0m.4-2.4h0m.7 2.4h0m.5-2.8h0m.1 .1h0m.7 3.1h0m.3-3h0m1.7 .3h0m.4 .5h0m.4 1.4h0m.3 1.3h0m.1-1.8h0m.1 2.2h0m.1-.1h0m1.2-3.9h0m.6 2.5h0m5.9-1.6h0m.6 3.3h0m3.1-3.9h0m8 2.9h0m32.8-2.3h0m4.8 0h0m.9-1.7h0m.4 3.4h0m3.7 2.3h0m.3-.8h0m1.7-2.4h0m.3 1.3h0m.7-3.3h0m1.1 2.1h0m28.9-1.6h0m.7 2.4h0m.1-3.1h0m0 1.2h0m.2 1.3h0m.1-2.9h0m.1 4.2h0m.3 .1h0m0-1.8h0m.4 1.3h0m.7 .3h0m.2-3.3h0m.1 4.6h0m.2-4.3h0m1.1 1.6h0m1.6 3h0m.1-2.3h0m1.4 2.3h0m79.9-4.1h0m2.5 3.3h0m5.3-4.9h0m.3 .5h0m.3 4.3h0m.6-3h0m.4-.8h0m1.2 4.8h0m.1-5.8h0m.1 4.8h0m.5-.6h0m.2 .5h0m2.5-3.4h0m.2 3.6h0m.1-4.9h0m.1 1.7h0m.4 0h0m.7 3.4h0m.7-2.1h0m0-2.8h0m.8 4.3h0m.8-.4h0m.5 .4h0m.5-4h0m1.2 2h0m.1-.8h0m.1 1.7h0m.4-3.3h0m.3 4.4h0m0-4.6h0m.7 4.6h0m.5-3.9h0m.1-.7h0m.5 3.7h0m.6 .6h0m.9-3.6h0m.5-.1h0m.1 .9h0m.3 0h0m0 1.4h0m1.1 2h0m0 .6h0m.6-1.8h0m2.4-3.5h0m.4 1.8h0m1.8-1.8h0m.5 3.6h0m1.7-.7h0m.6-.6h0m1.7 1.1h0m.2-2.7h0m1.4 4.4h0m.8-1.6h0m2.4 1.4h0m1.1-.1h0m.2-4.1h0m.2 3.1h0m0-2.9h0m.2 1.8h0m.6-.7h0m.2-1.3h0m1.2 4.8h0m.1-2h0m1.7-1.7h0m1.2-.3h0m39.7-1.4h0m2.9 1.9h0m.9 1.3h0m.6-2.3h0m1.8 3.1h0m0-1.4h0m.5-.6h0m4.5 1.5h0m1 1.8h0m.4-4.1h0m.3 2h0m0-3h0m2.5 .3h0m.2 4.9h0m.7-.2h0m0-4.5h0m1.6 3.8h0m2.9-.4h0m13.7-2.8h0m14.3-1.2h0m2.8 .4h0m.7 3.3h0m.1 .3h0m.6-.6h0m.1 .3h0m.3 1.3h0m.2-.1h0m.1-3.4h0m.1 3.2h0m0-3h0m0 0h0m.2-1.5h0m.3 2.3h0m.3-2.8h0m.5 1.3h0m.3 3.9h0m.7-4.5h0m.1 2.5h0m.2-1.6h0m0-.4h0m0 1.8h0m.3-1.5h0m.2 2.6h0m.4 .8h0m0-1.9h0m.2 0h0m.4-.9h0m.2 3h0m.4-3.7h0m.3 .7h0m.5 .3h0m.7-1.5h0m1.3 3.7h0m2.7 1.3h0m1.4-1.5h0m48.4-2.3h0m.8-.9h0m7.7 1.9h0m2.1-2h0m.2 2.5h0m3.1-3.5h0m.3 1.4h0m.1 4.2h0m2-2h0m.3 1.9h0m.7-5.6h0m.1 4.5h0m1.8-2.4h0m1.5 3.3h0m.4-.7h0m.1-2.2h0m.1-.8h0m.6 4h0m.4-1.2h0m.4 1.3h0m.1-5.8h0m.4 3.3h0m.4 2.5h0m.1-3.7h0m.5-1.5h0m.2-.2h0m.6 1.9h0m.1-.8h0m.4-.4h0m0 3.2h0m.2 1.2h0m.1-.2h0m.1-.9h0m.6-4.2h0m.3 3.6h0m.1-2.9h0m.1 .2h0m.1-.6h0m0 2.6h0m.3-1h0m.1 1.7h0m.3-1.7h0m.3 2.7h0m.1-4.7h0m.1 .3h0m.2 .5h0m.6 1.8h0m.1-.6h0m.6-.3h0m1-1.1h0m.1 1.6h0m.3-.9h0m.1 3h0m0-1.6h0m0 .5h0m.4-.6h0m.2 2.4h0m0-2.7h0m.7 3.4h0m.4-1.9h0m.5 1.5h0m.5-.6h0m0-1.1h0m.6 .8h0m.5-.3h0m.1-3.5h0m.2 1.5h0m.9 1.8h0m0 .6h0m.2 .9h0m.1-4.5h0m.6 0h0m.2 1.9h0m.3-2.3h0m0 4.3h0m.1-4h0m.4 .6h0m0 2.3h0m.3 .5h0m.3 .3h0m0-4.2h0m.2 5h0m.1-1.5h0m1.5-.9h0m.3-2.2h0m.1-.5h0m.1 5.1h0m2.1-2.6h0m1.9-2.2h0m.9 1.8h0m0 3.1h0m.1-1.7h0m.1 .7h0m.2 1.2h0m.2-3.5h0m.4-1.8h0m.3-.1h0m.3 3.4h0m.2-2.6h0m0 2.3h0m.1 0h0m1.1 .2h0m.4-2.2h0m0 .1h0m.1 .6h0m.6 .7h0m.1-1h0m0-.6h0m.7-.8h0m.1 1.6h0m.1-2.1h0m.8 3.6h0m0-2.3h0m.5 .7h0m0 2.9h0m.3-.2h0m.1 1.1h0m.1-4.4h0m.8 .6h0m.1-1.1h0m.1 4.2h0m.4-1.7h0m0 .2h0m0-1.2h0m.3 .1h0m.6-2.1h0m.6-.3h0m.3 4.1h0m.8-4h0m.4 5.3h0m.6-4.6h0m.9 1.9h0m.3-1.7h0m.1 .3h0m.5 4.3h0m0-4.6h0m0 .1h0m.9-1.2h0m.6 2.5h0m.3 1.3h0m.2-.9h0m0-2.1h0m.1 1.1h0m1.2 2.9h0m.2-1h0m.7 .2h0m.5-1.6h0m1 2.7h0m0-1.9h0m.2-2.4h0m.7 1h0m.1-1.3h0m.1 1.7h0m.1-1.4h0m.6-.6h0m.1 4.3h0m.2-4.3h0m.2 3.4h0m.6-3.3h0m.1 4.9h0m1-3.8h0m.2 2.2h0m.7 1.7h0m.1-3.8h0m1 1.3h0m1.1 3.2h0m.6-.2h0m.7-.8h0m.7 .1h0m.3 .9h0m.9-3.6h0m3.2-1.1h0m.3 .4h0m6.9 1.8h0m4.4 1.7h0m.2-1.9h0m7.2-1.5h0m4.6 .9h0m.2-.4h0m6.6 2.1h0m.4 .5h0m2.9 1h0m1.4-1.6h0m.1-3.1h0m.2 3.8h0m2.1-4h0m.4-1h0m1.6 .6h0m.1 1h0m.7 .4h0m2.2 1.7h0m.4-.3h0m1.5-.1h0m.7-1.1h0m.9 2.9h0m.1 .8h0m27.5-5.1h0m0 .2h0m1.7 1.7h0m.1-.7h0m.8 .2h0m.1 1.8h0m.3-2.6h0m.2 4.2h0m.2-2.5h0m.9-.3h0m.2 .6h0m.4-2.9h0m.1-.3h0m.2 1.5h0m.2 3.7h0m.4 .1h0m.1-2.5h0m.8-1.8h0m.2 4.4h0m.3-1.2h0m.8-.2h0m.1 .1h0m-582.4 4.5h0m.7-2h0m1.9 1.1h0m3.9-1h0m1 1.8h0m2.7-2.1h0m0 2.4h0m.5-.7h0m.4 3.4h0m.8-3h0m.4 1.9h0m.3-3.5h0m.3 2.9h0m.1 .5h0m.3-2.2h0m.2 1.8h0m.2-2.5h0m.7-.9h0m.9 4.9h0m.1-4.9h0m.8 1.6h0m1.9 2.7h0m2.3-1.8h0m.9-2.2h0m.6 .6h0m.3 .2h0m0-.9h0m.7 4.6h0m.3-1.9h0m.8-.3h0m.2 1.6h0m1.1 .5h0m.4-1.8h0m.7-3.2h0m1.2-.4h0m1.7 .9h0m.5 .4h0m.1 2.5h0m.1 1.1h0m0-2.9h0m1.8-1h0m.3 3.2h0m1.4 0h0m1.1 1.3h0m.5-.7h0m.5-4h0m.4 .6h0m.9 .3h0m.6 3.5h0m.3-2.4h0m1.3 1.6h0m2.4-1.2h0m.3 .9h0m.5-1h0m.3-1h0m1.4 2h0m.4-.3h0m.4-.8h0m7.3-.1h0m6.1 3.1h0m.7-3.1h0m36.1-1.6h0m1.4 3.2h0m1-2.1h0m5.7-1.9h0m.9 3.8h0m.7 1.7h0m.8-.2h0m.9-3.8h0m.1 0h0m0 1.5h0m.5-.4h0m29.5-2.2h0m.6 .4h0m.4 1.4h0m1.4 1.5h0m.3 1.1h0m.5 .4h0m.7-1h0m.2-1.1h0m0-3.5h0m.6 2.5h0m.2 1.6h0m.2 1.4h0m.4-2.2h0m.2-1.9h0m.2 1h0m4.6-.9h0m76.4 3.2h0m6.1-1.4h0m2.6 2.3h0m1.1-3.8h0m0-1.9h0m.4 5.6h0m.3-.5h0m.1 0h0m1.2 .1h0m.1-1.9h0m.9-2.9h0m0 1.1h0m.4-.3h0m.2 4.1h0m2.5-4.9h0m1.1 2.1h0m.4 1.3h0m.4-1.8h0m1.3-1.8h0m1.5 5.2h0m1.1-5.1h0m1.1 4.7h0m.3 .7h0m1.6-2.6h0m.3 .9h0m.1 .9h0m.3 .6h0m3.4-1.9h0m1.2-1.3h0m.3 0h0m2.2-1.5h0m.3 0h0m.2 .3h0m.1 1.4h0m0 2.5h0m1.3-1.3h0m.7 2.3h0m.4-.1h0m0-2.5h0m.5-.8h0m1.3-1.5h0m.7 4.3h0m.6-4.5h0m.7 1h0m.2 3.3h0m0-2.6h0m1.5-.9h0m1.4 2.6h0m2.5 .1h0m17.3 .7h0m32.6-.3h0m2.2 .5h0m.9-5.1h0m.4 1.1h0m2.1 3.2h0m1.7-1.5h0m.1 1.2h0m.9-.9h0m0-3.1h0m.4 .7h0m.9 .4h0m.5 .9h0m.9 .4h0m.9 2.8h0m.2-3.7h0m.3 1.8h0m.2-1.2h0m30.3 1.3h0m0-1.9h0m.2-1h0m0 .5h0m0 2.3h0m.1 1.6h0m.1 .2h0m0-.5h0m.2-4.6h0m0 3.4h0m.1-1.2h0m.1 1.5h0m.5-1.3h0m.1-1.6h0m0 1.4h0m.2-1.9h0m.2 4h0m.5-1.1h0m.2 1.8h0m.1-3.7h0m1.1-1.3h0m.5 1.7h0m1.1-1.6h0m.2 4.1h0m0-3h0m.7 1.7h0m1-2.1h0m.2 1.5h0m.1 1.8h0m0-2.1h0m.5 2.9h0m.9-.2h0m.5-1.5h0m.4 1.2h0m.8-2.5h0m.4 3.4h0m.4-3.1h0m1 2.1h0m.5 1h0m56.9-3.7h0m2.2 1h0m2.6 2.5h0m.2-5.3h0m1 3.2h0m1.7 .1h0m0-1.9h0m.4-1.1h0m.1 4.3h0m.1 .1h0m.3-3.9h0m.2 1.3h0m.9-1.2h0m0 4.6h0m.2-3h0m0-.7h0m.1 2.3h0m.6-2.4h0m.9-.8h0m.4 2.7h0m.1-3.6h0m.3 5.3h0m0-5.1h0m.2 1.5h0m0 .7h0m.4-2h0m.3 3.7h0m.2 1.2h0m.3-1.8h0m.7-2.7h0m0 3.2h0m.5 .6h0m.7-4.3h0m.1 1.9h0m.6-1.9h0m.4 3.7h0m1.1-2.8h0m.4 3.6h0m0-2.3h0m1.7-1.4h0m.1-.8h0m.1 1h0m0-.8h0m.2 5.5h0m.1-5.1h0m.7 2.4h0m.3 .9h0m.1-2.2h0m.7 .3h0m.3 1.3h0m0 .5h0m.1-1.9h0m.2 1.9h0m.3 1.5h0m.5 0h0m.2-3.2h0m.9 2.4h0m.3-1.8h0m.4-1h0m.1 .6h0m1.7-2.1h0m0-.2h0m.1 4.4h0m.4-.8h0m.1 .1h0m.1-.7h0m.4-1.4h0m1 3.4h0m.5-.2h0m0-3.2h0m.1 3.7h0m0-.2h0m.1 .4h0m.1-3.5h0m0 2.3h0m.1-3.6h0m.6 3.3h0m.2-3.3h0m.3 4.2h0m1.2-4.1h0m.5 4.2h0m1.1-2.4h0m1 2.4h0m.2-.7h0m0-4.3h0m.1 4.9h0m.5-4.6h0m.6 1.5h0m.9 .2h0m.5 3.7h0m.9-.8h0m.8-1.8h0m.1-.5h0m1.2 2.4h0m1.4-2.8h0m2.1-.3h0m.6 3.8h0m.4-5.2h0m.1 2.3h0m.1 1.1h0m.4-1.5h0m.2-2h0m.4 4.3h0m0 .6h0m.4-2.7h0m.6-.4h0m.1-1.7h0m.3 2.6h0m.3 1.6h0m.5-3.8h0m1.1 .1h0m0-.8h0m.2-.4h0m.1 2.7h0m.7 1.1h0m.2-.1h0m.3-2.3h0m1.1 .4h0m.1-1.8h0m.2 .9h0m.3 .4h0m.6 1h0m.3 3h0m.4-4.1h0m1.6-.9h0m.2 2.9h0m1.1 .6h0m.1-3.1h0m.2 2.4h0m.2-1.2h0m.1 1.3h0m.2-.9h0m0 .6h0m.3-1.4h0m.4 2.4h0m.7-2.9h0m.2-.7h0m.2 4.8h0m.1-.4h0m.3-4.2h0m.9 .9h0m.2-1.1h0m.3 4.8h0m.2-3.5h0m.1 2h0m.5 1.9h0m.1-.3h0m.1-2.6h0m.4 2.7h0m0-.1h0m0-4.4h0m.6 4.3h0m.1-1.8h0m.2-.5h0m.4-1.7h0m0-.7h0m.3 0h0m1.1 4.3h0m.5 .3h0m.1-2.1h0m0-1.2h0m.7 3.1h0m.7-2.2h0m4.8 2.7h0m1.6-3.4h0m.5-1.2h0m.1 1.5h0m1 1.1h0m3.9 0h0m9-.6h0m1.1-1h0m4.1 1.1h0m9.7 1.2h0m.5-.3h0m.4-1.1h0m1.1-2.5h0m0 1.3h0m2.3 3h0m.2-3.6h0m.5 3.1h0m1.5 1.5h0m1.5-1.4h0m2.2 1.2h0m.4-2.8h0m1.5 2.2h0m.2-3.4h0m.1 .2h0m.3-.7h0m.1 .8h0m31.3-.3h0m.3-.1h0m.3 .8h0m.5 1.4h0m.1-3.2h0m.2 1.9h0m1.2 1h0m.1-2.3h0m.5 2.8h0m.4-1.2h0m.8-.4h0m.7-1h0m.4 4.5h0m0-3.2h0m.1-1.4h0m.1 3.8h0m.5-1.9h0m.5 1.1h0m.2 .5h0m.4 .3h0m.5 .1h0m37.1-1.9h0m-618.4 5.5h0m1 1.3h0m2.5-3.1h0m.4 5h0m.9-5.5h0m.1 2.7h0m.6-.1h0m1.1-.4h0m1.2 .2h0m0 .1h0m.2 3h0m.2-4.5h0m.2 3.4h0m1-.7h0m1.4 1.6h0m.2-1.8h0m.3 .6h0m1.1-1.7h0m.4 1.1h0m3.4-1.3h0m.8-.1h0m.5-.9h0m.3 .5h0m.8 .1h0m.4-1.4h0m.3 2.6h0m0 0h0m.9 .8h0m4-3.3h0m1.7 .3h0m.7 .3h0m.8 .1h0m.6 3.2h0m2.2-.6h0m.5-3h0m.4-.3h0m.6 1.2h0m1.6-1.4h0m1.3 1.2h0m.5 2.3h0m.5 1.2h0m1.4-2.5h0m.1 1.9h0m.1-3.9h0m.2 3.7h0m.1-1.4h0m1.2 1.7h0m.1-3.1h0m.4 3h0m.5-2.6h0m.8-1.5h0m.2 2.9h0m.7-1.6h0m.1-1.4h0m2.4 0h0m.1 1.4h0m1.5-1.4h0m.1 3.3h0m.2 1.9h0m1.1-1.9h0m.2 .3h0m.3 .8h0m.4-.9h0m10.4-.7h0m6.4 2.5h0m24.7-4h0m2-.9h0m3.5 2.7h0m1.1 1.9h0m.1 .1h0m1.1-2.8h0m2-2.5h0m1.6 4.5h0m3.3-1h0m32.1-2h0m.2-1.2h0m.9 4.1h0m.1-3.2h0m0-.9h0m.3 4.8h0m.3-3.3h0m1.8 2.3h0m.5-1.3h0m.1-.8h0m.8 1.2h0m1 1.8h0m75.7-.9h0m8.4-2.9h0m2.8-1.1h0m.5 1.9h0m.6 1h0m.1 .3h0m.4-1h0m1.7-.9h0m.2 1.9h0m1.5 2.5h0m.3-4.7h0m.2 2.4h0m1.9-1.4h0m.6 .2h0m.7 2.2h0m1.1 .1h0m.3-.4h0m.1-2.6h0m.5 2.3h0m4.5-3.6h0m.3 4.1h0m1.2-1.2h0m.1-1.2h0m.6 2.6h0m.5-4.7h0m1.2 3h0m.1 2.5h0m.9-.6h0m.8-.1h0m.7-3.4h0m.3 2.6h0m.5 1.5h0m1.8-3.8h0m1.1 4.1h0m.1-4.6h0m.1 .1h0m.4 3.1h0m.2-2.8h0m.1 4.3h0m.3-3.1h0m.7 2.4h0m1.2-4.8h0m2 5.3h0m.1-2.2h0m1.4-3h0m1.6 1.2h0m8.3 1.7h0m2 1.5h0m42.9-4.5h0m3.4 .6h0m1 3.3h0m3.4 .8h0m1.2-4.9h0m1 4.8h0m.3-1.5h0m.1-1.4h0m.2-.1h0m1.6 3.6h0m.4-1.6h0m.7-3.3h0m.2 3h0m.1-2.5h0m.3 .4h0m.2 .2h0m.3 0h0m.8 1.7h0m.4 2.5h0m.6-.3h0m2.3-.7h0m.2-1.3h0m.2-.2h0m1 .6h0m.6 1.1h0m1.3 .3h0m2 .2h0m1.6-.4h0m1.1 .6h0m.3-.7h0m.3 .7h0m1.7-.6h0m5.7-5h0m5 3.9h0m0 1.4h0m.1-1.1h0m.1 .1h0m0 .7h0m.2-3.7h0m0 1h0m.1-.3h0m.2-1.7h0m0 4.3h0m.1-3.4h0m.2 1.8h0m.7-.4h0m0-2.4h0m.7 3.5h0m0-2.7h0m.7 1.9h0m0 1.9h0m.1-4.6h0m0 4.2h0m.1-2.1h0m.3 2.3h0m.1-3.8h0m.3-.5h0m.2 4h0m0-1.6h0m.5-.8h0m.4-.4h0m0 1.4h0m.2-3.1h0m.3 3.5h0m.3 .5h0m.7-3.9h0m.3 .2h0m.4 .5h0m.1 .7h0m0 2.3h0m1.7-1.4h0m.2-2h0m.1 5.5h0m.5-1h0m0-3h0m0 1.5h0m0-2.8h0m1.9 4.1h0m.4 1.1h0m.2-5.5h0m1.5 3.6h0m.3 1h0m.2-3.4h0m.3 1.9h0m.8 2.3h0m4.3-5.6h0m4.8 5.5h0m44.3-1.5h0m5.9 1h0m.2-2h0m.8 2.5h0m.1-5h0m1.3 5.2h0m.2-.7h0m.5-3.9h0m.1 3.2h0m.1-1.7h0m.6 1.8h0m.1-3.7h0m.7 2.2h0m.2-1.6h0m.6 1.9h0m.4-1.2h0m.6 2.4h0m.1-1.6h0m.6-.4h0m.5 2h0m.2-4.4h0m.2 4.6h0m.3 .9h0m.1-1.6h0m.5 1.9h0m1-1.1h0m.2-.6h0m1.2-2.3h0m.6-.9h0m.1-.9h0m.1 .5h0m0 2.6h0m.1-3h0m.9 .4h0m.1 3.7h0m.1-3.6h0m.5 5h0m.3-3.9h0m.2 .5h0m.1 .6h0m1.3-1.3h0m.2 0h0m0 4h0m.3-5.6h0m0 4.3h0m0 1h0m.1-1.1h0m.5 0h0m0-3.8h0m.6 4.7h0m0-1.2h0m.3-1.7h0m.1 .6h0m1.1 1.8h0m0 .9h0m.1-3.4h0m.8-.9h0m.4 .2h0m.8 1.1h0m0-.8h0m.1 2.7h0m0 .9h0m.3-2.8h0m.6 3h0m.2-3.8h0m.4 3.7h0m.9-1.2h0m.1-2.8h0m.3 .6h0m0-1.1h0m.1 1.4h0m.4 1.7h0m.3-2.6h0m0 1.5h0m.1 2.4h0m.1-1.3h0m.4-.4h0m0-3.4h0m.2 .5h0m.7 2.8h0m.3 .3h0m1.6-2.1h0m1.8 0h0m.6 3.9h0m1.4-1.3h0m.1-2.1h0m.5 2.3h0m.1-1.7h0m.7 1.5h0m.2-3h0m.1 0h0m.1 1.7h0m0-1.2h0m.1-1.4h0m.1 1h0m.3-.9h0m.8 4h0m.3-.7h0m.1 .9h0m1.6-4h0m1.1 3.5h0m.1 .2h0m.6-2.8h0m.3-.4h0m.4 3.9h0m.2-4.8h0m.5 2h0m1-.6h0m.7 1.7h0m.1 2.2h0m.2-1.8h0m.1 2h0m.2-1.5h0m.2-3h0m.1 4h0m.1 0h0m.1-2h0m.1-3.2h0m.9 2.2h0m0 1.8h0m.6 1.6h0m.5 0h0m.1-2.4h0m.7-2.4h0m.2 .3h0m0 2.2h0m0-1.1h0m.1-1.4h0m.3 1.6h0m1-.1h0m.4 .9h0m.4 1h0m.1 1.2h0m.1-1.6h0m.5-2.1h0m.3 3.5h0m.3-4.4h0m.2 2.2h0m.8-2.3h0m.3 .2h0m.1 1.9h0m.2-1.1h0m1.2 1.8h0m.3 2.1h0m0-4.8h0m.8 .5h0m.2 1.1h0m.1-1.8h0m.1 3.9h0m.8-4.4h0m.3 1h0m1.1-.6h0m.4 3.4h0m.1-.8h0m.3 1.5h0m1.2-2.1h0m1.8-.4h0m.7-2.1h0m.2 5.7h0m.6-2.2h0m.2-1.6h0m0-1.4h0m.1-.6h0m1 4.3h0m.3-4.1h0m0 .5h0m.7 1.8h0m1 2.4h0m.4-4.8h0m.3 4.3h0m0 .5h0m0 .6h0m.3-1.8h0m.5-1.2h0m.2 .8h0m.4 2.2h0m10.7-5.6h0m4.5 1.3h0m.2 3.7h0m3.5-.3h0m4.9-.7h0m3.5-3.5h0m.9 0h0m2.2 .3h0m1.3 1.1h0m2-.2h0m1.5 3.2h0m2.5-4.4h0m.5 1.7h0m.1 1.1h0m.2-1.7h0m.3 3.5h0m1.5-1.3h0m.6-2.8h0m2.1 2.2h0m.2 2.5h0m1.6-.8h0m0-.8h0m1.2-1.4h0m0 1.8h0m.2-1.7h0m.3-2.4h0m32.9-.1h0m.4 1h0m.9 1.5h0m.1-1.3h0m.3 1.1h0m.1-.4h0m.3-.5h0m.3-1h0m0 .2h0m.1 1.4h0m.5 2.6h0m0-1.1h0m.7 1h0m.1-4.7h0m.4 4.7h0m.5-1.7h0m.8-2.6h0m.3 1.4h0m.4-1.5h0m.2 5.2h0m.8-2.1h0m.3 1.4h0m.5-.7h0m0 1.2h0m.4 .6h0m.8-2.2h0m.7 1.6h0m-576.5 1.1h0m.2 2.2h0m4-.2h0m1-.7h0m.5 2.9h0m0-4.6h0m1.3 4.2h0m.2-1h0m1.2-.8h0m.4 2.2h0m.6-2.3h0m1 .3h0m.8 .8h0m.4 2.4h0m.8-1.4h0m.4-3.1h0m2 2.4h0m.6-3.5h0m.2 .8h0m.4 2.5h0m.7 2.2h0m2.5-4.8h0m2.2 3.1h0m.6-3.5h0m.5 .9h0m1.1-1.2h0m.2 4h0m.3 .6h0m.5 0h0m.2 .5h0m2.1 0h0m2-3.9h0m2.1 1.7h0m.2-1.4h0m.1-1.5h0m.1 1.3h0m0 3.8h0m.2-4.1h0m.6 4h0m.1-.4h0m1.4-2.8h0m.4-1.6h0m.1 1h0m1.7 2.1h0m2.3-.7h0m.5-.1h0m.1 .7h0m.5-1.4h0m.2 2.1h0m.7 1.2h0m.2-.4h0m.5-3.2h0m.1-.7h0m.2 4.2h0m.5-4.2h0m.1 .5h0m.3-.7h0m.4 1.1h0m.5 .4h0m.1-1.7h0m3.1 3.4h0m.4 0h0m.7-2.2h0m1.5-1.3h0m4.8 1.9h0m6.4-1.2h0m14.4 4.1h0m2.5-1.8h0m.3-2.6h0m2.2 4.7h0m0-1.6h0m8.4 1.1h0m2.2-2.2h0m.9-.8h0m.7 .8h0m2.7-1.1h0m1-1.5h0m31.8 3h0m1.6-3h0m1.1 1.4h0m.5 1.1h0m.2-1.5h0m.6 1.4h0m.5-2.5h0m.4 4.9h0m.5-3.9h0m.5 4.2h0m0-1.9h0m.3 2.3h0m.2-3.6h0m.1 1.8h0m1.7 .4h0m76.7-3h0m5.4 4h0m.1 0h0m.5-1.1h0m3.9-3.8h0m.5 3.8h0m2-2.6h0m1.6 2.5h0m1.1-1.8h0m1.7-1.5h0m1.5-.9h0m.2 2.2h0m0-2h0m2.8 .3h0m.1 .7h0m2.7 1.7h0m3.9-2.9h0m.8 1.5h0m2.1-1.4h0m1.7 2.5h0m7.2-.4h0m6.2 1h0m.6-2.1h0m51.4 .4h0m6.4-1.2h0m2.1 .4h0m1.1 1.9h0m2-1.6h0m.8-.1h0m.5 3.7h0m.2-4h0m0 .7h0m.2-.4h0m.5 2.2h0m.2-.7h0m.5 .3h0m1.2-2.6h0m1.1 3.4h0m1.5 .3h0m1.6-1.4h0m2.4 .9h0m.2-3.3h0m.1 2.9h0m.1 2.1h0m.4-1.5h0m.4 1.1h0m1-2.3h0m.4 2.8h0m.6-4.1h0m1.1-.2h0m.9 4.6h0m2.1-.5h0m1.2-4.4h0m.2 .7h0m1.1 1.8h0m.3 2h0m.3-.2h0m.1-.1h0m.5 1h0m.1-1.8h0m.2 .3h0m.4-1.4h0m.1-2.4h0m.1 2.5h0m0 .4h0m.1-.9h0m.7-.4h0m0 .9h0m0 1.4h0m.1-1.6h0m.1 3.1h0m.3-5.8h0m0 1.1h0m.1 .6h0m.2-1.4h0m0 4.6h0m.1 .5h0m.1-5.1h0m0 3.8h0m.3-2.1h0m.1 2.4h0m0-2.1h0m0 1.3h0m.4-1.2h0m.2-.8h0m.7 3.6h0m.2-2h0m.1-1h0m0 1.7h0m.1-2h0m0-1.4h0m.1 5.3h0m.2-2.8h0m0-1.1h0m.2-.9h0m0-.3h0m.2 .3h0m.2 2.7h0m1.2 0h0m.3-3.2h0m1.1 .9h0m.8 3.4h0m.1 .2h0m.3-4.2h0m1.3 .7h0m1-1.2h0m.4 1.4h0m0-1.6h0m.1 5h0m.3 .6h0m.2-3.7h0m0 1.1h0m0-2.4h0m.8 .1h0m.7 4.5h0m.3-1.7h0m.2-3h0m.1 3.9h0m1.2-3.4h0m.3 3.7h0m.7-.3h0m0 .9h0m0 .3h0m.7-4.7h0m.1 3.4h0m.1-.5h0m.1 .2h0m10.7-3.3h0m36.3 .3h0m.1 1.6h0m10-.2h0m1.3-1.2h0m1.3 .3h0m.1-.3h0m1.3 3.1h0m3.7-1.7h0m.6-1.9h0m.1 4.3h0m.6 .2h0m.4-4.9h0m.2 .1h0m1.9 3h0m.2-2.1h0m1 1.8h0m.1 2.4h0m.2-2h0m0-1.6h0m.6 1.6h0m.1-1.4h0m1 2.6h0m.9-1.5h0m.2-2.2h0m.4 1.9h0m.2 1.3h0m1.7-3.7h0m.7 3.4h0m.3-3.9h0m0 3.8h0m.2 1.4h0m.5-5.1h0m.1 2.3h0m.8 .9h0m.4 .6h0m.2-1.7h0m.7 1.8h0m1.3 .2h0m.4 .5h0m.3-4h0m.9 2.7h0m1.1-2.9h0m.4 2.9h0m.2-3.3h0m.2 1.2h0m.1-1.3h0m.2 3.2h0m.7-3.4h0m.4 .8h0m.2 3h0m1.7-1h0m0-2h0m.1 3.7h0m.2 1.3h0m0-.9h0m.1-1.2h0m.2 1.4h0m.3-3.5h0m.1 3.9h0m.5-4.8h0m.2 .6h0m.5 1.4h0m.4-.9h0m.3 3.8h0m.7-4.6h0m.1 4.5h0m.6-4.9h0m.1-.1h0m0 2.4h0m.3 1.9h0m.2-.6h0m.2 .4h0m.3-2.3h0m.9-1.9h0m2.2 .9h0m.6 .9h0m1 2.9h0m0-3.1h0m.1 .3h0m.2-.6h0m1.2 3.1h0m.1-3h0m.9 .6h0m.4 .2h0m.3-1.4h0m.2 .7h0m.8 2.5h0m.7-2.4h0m.4 .3h0m.4-.1h0m.1 3.1h0m0-1.6h0m.9-1.1h0m.3-1.5h0m.1 .7h0m.1 2.1h0m.1 1.3h0m.1 .1h0m0 .5h0m.2-4h0m0 1.3h0m.2-.6h0m.2 1.6h0m.3-2.2h0m.6 .1h0m.2 2.4h0m0-2.3h0m.1 2.4h0m.1-1.9h0m.8 2.9h0m.3-2.7h0m.6 2.4h0m.6-4.2h0m.3 .1h0m.4 .4h0m.3 2.6h0m.1 .5h0m.1-2h0m.1 1.7h0m.2-3.5h0m.8 3.7h0m.4-2.6h0m.1 .5h0m.1 3.1h0m.1-.7h0m.6-1.9h0m.3-2.7h0m.2 1.7h0m.1 4h0m.2-2.3h0m.2-.7h0m.2-1.9h0m.2 2.4h0m.4 1.9h0m.1-.7h0m.3-.8h0m0 .1h0m.6 1.1h0m.1 .8h0m.4-1.8h0m.4-1.5h0m.7 2h0m.8-.3h0m.2-2.1h0m.2-.3h0m.3 .9h0m.7-1.1h0m0 1.5h0m.7 2.5h0m.9-.9h0m.1-2.8h0m0 1.5h0m.1-.9h0m.1 2.2h0m.3-3.4h0m.3-.2h0m.7 1.9h0m.1-.6h0m.2 3.3h0m.7-.2h0m.4-4h0m.4 .4h0m.1 .8h0m.3 2.8h0m.2 0h0m.5 .1h0m.1 .4h0m.1-5.6h0m.2 2.1h0m.7 .1h0m.4 2.2h0m.2-2.9h0m1.3-.5h0m.1 4.3h0m.4-4.7h0m2.5 3.4h0m4.4-3.1h0m2.5 1.8h0m9.2-1.5h0m2.6-.8h0m1.4 3.7h0m2.6-1.4h0m.1-1h0m.2 1h0m4.7-2.2h0m.1 .2h0m1 3.1h0m3.6-2.6h0m.1-1.1h0m.5-.3h0m.7 4.2h0m.8-3h0m.4 1h0m.8 .1h0m.1 2.8h0m.2-.8h0m0 .6h0m.5 0h0m1.5 .8h0m.7-2.6h0m1.9-1.3h0m.3 1h0m.8 2.2h0m34.8-4.8h0m.7 0h0m.1 1h0m0 2.3h0m.5-2.5h0m.2 3.9h0m.1 .1h0m.1 .4h0m.4-5h0m0 2.2h0m.1 1.3h0m.1 1.1h0m.1-3.9h0m.2 2.3h0m.1 .7h0m.5 .1h0m0-1.8h0m.1 .4h0m.1 .7h0m0-.4h0m.8-.8h0m.1-.6h0m1.7-1.6h0m.4 2.2h0m1.4-2h0m.7 1.7h0m.1 2.2h0m.5 1.3h0m0-2.1h0m.5-2.5h0m1.2 3.2h0m.5 1.4h0m16-5.2h0m-591.1 6.3h0m2.9 .8h0m1.5-.7h0m2.1 2.2h0m.6-1.4h0m.6 .7h0m.8 1h0m.2 .4h0m.1 1.2h0m2.1-.8h0m.9 .4h0m.4-1.6h0m.2-1.1h0m1.1 1.3h0m3.1-3.1h0m.8 5.5h0m2.6 .2h0m.6-3.6h0m.6 .3h0m.4-.1h0m2.2-.1h0m.1 2.3h0m.4-1.6h0m.8-1h0m.9 1.8h0m.1 0h0m1.1-.4h0m.4 1.9h0m.8-4.4h0m.4 2.5h0m1.3 .3h0m.2-.9h0m.1 2h0m.4 .3h0m.7-3.1h0m.9-.9h0m.2 2.7h0m1.2-.5h0m1.1 .5h0m2 0h0m.4 .2h0m.9-4h0m.3 .1h0m.6 4.1h0m.7 1h0m0-.5h0m.8-3.6h0m.2 4.4h0m.2 .3h0m.9-1.1h0m.3-1.8h0m1.6 0h0m.7-1.1h0m1.5 1.8h0m8.4 2.1h0m23.9-2.9h0m4-1.4h0m.9 3h0m.6-2.9h0m.7-.6h0m1.9 2.6h0m1.3 .1h0m.6-1h0m.5 3h0m1.6-.7h0m.2 .9h0m36.5-5.5h0m1.9 2.8h0m.1 1.2h0m.9-2.3h0m0 .4h0m.2-1.2h0m.1 4.4h0m0-2.7h0m.3-2.2h0m.8 5.2h0m1.3-.8h0m.4-1.3h0m87.7-2h0m.5 1.1h0m1.8 .1h0m2.7-.6h0m10.8-2.3h0m79.2 1.8h0m4.7 0h0m2.6-1.8h0m.3 1.9h0m1.2 2.4h0m.3 .6h0m1.7 .6h0m1.1-.5h0m1.7 .5h0m.1 .3h0m.7-.7h0m1.4-3.2h0m2.8 2.7h0m1.3-.4h0m.9-2.5h0m2.7 3.3h0m1.3-4h0m.8 2.2h0m.8-2.4h0m3.7-.7h0m1.3 4.9h0m1.4-4.1h0m.2 3h0m.2 .6h0m1 .5h0m1.2-1.1h0m.5 .1h0m.1-.2h0m.3 .8h0m.1 .7h0m.7-4h0m.9 1.2h0m.4 2.6h0m.1-3.1h0m1.7 3h0m1.4-4.3h0m.6 .9h0m.6 1.5h0m1.2-1.6h0m1.1 2.6h0m21.7-.5h0m10.3 .8h0m15.7-4.1h0m9.3 3.5h0m1.2 .8h0m.4 1.3h0m.2-4.5h0m.4 4.4h0m2.2-2h0m1.2 .9h0m1.3-3.3h0m.2-1.2h0m.4 3.9h0m1.7-3.6h0m.2-.5h0m.1 5h0m0-5.1h0m1.6 .2h0m.5 1.7h0m.1 1.5h0m0-.3h0m.4-.6h0m.1 .4h0m.8-1.3h0m.5 1.6h0m.7-1.5h0m.9-.5h0m.4-1.2h0m1.1 2.1h0m.5-.1h0m.7-1.2h0m.2 2.4h0m.3-3.1h0m0 3.3h0m.6-.5h0m.2 3.1h0m.2-3.5h0m.4-.8h0m.6 1.1h0m.1 .5h0m.6-1.9h0m0 2.4h0m.5-1.4h0m.3-1.9h0m.3 5.3h0m.6-2.8h0m0-.8h0m.2-.8h0m.6 .8h0m1.6-.4h0m.5 .8h0m.2-2h0m.6 1.1h0m.1 .1h0m1.4 4.2h0m.2-4.2h0m.5-.4h0m0-1.2h0m.1 3.2h0m.6-2.2h0m.6 2.1h0m.6-2h0m.1 4.1h0m1.9-3.4h0m.3 2.5h0m.1 .1h0m.6-3.1h0m.1-1.2h0m.3 4.6h0m0-3.4h0m.1 2h0m.6-1h0m.1 3.4h0m.2-4.6h0m.6 .1h0m0 .8h0m.2-1.5h0m.3 1.4h0m.4 .7h0m.4 2.2h0m.5-.9h0m.1-1.8h0m0 1.6h0m.1 1.7h0m.3-4.3h0m.4 2.7h0m.4 .9h0m.5-1.7h0m.1-1.2h0m0 1.7h0m.3-.6h0m.3 2.7h0m.2 0h0m.1-3.2h0m.3 2.8h0m.2-4.9h0m0 5.2h0m.1-3.2h0m.2 2h0m.3 .9h0m.3-2.3h0m.3 .8h0m.5 1.1h0m.3-4.6h0m.2 4.8h0m.3-1.3h0m1.3-3h0m.1 2.6h0m.2 .4h0m.2 1.9h0m.8-.9h0m.3-4.6h0m.4 4.9h0m.1-2.2h0m.3-.8h0m.1-1.2h0m1.2-.5h0m.3 2.8h0m.2-2.5h0m.2 4.3h0m.2-1.4h0m.1 1.7h0m.1-2.5h0m.3-.6h0m1 3.2h0m.1-5.4h0m.7 2.8h0m.1-1.9h0m.2 .8h0m.6-.1h0m.3-.6h0m.6 4.2h0m0-4.5h0m3 3.8h0m.2-4.5h0m.4 4h0m.5-3.8h0m1.2 3.2h0m.4 1.6h0m.4-5h0m.3 1.8h0m.2-.3h0m.5 0h0m.4 2.7h0m.3-1.1h0m.2-2.8h0m.1 2.2h0m.1-.5h0m.1 3h0m.7-.7h0m.3-2.8h0m.1 2h0m.1-2.3h0m.5 3.8h0m.1-3.2h0m.3 2.2h0m.3-.7h0m.3 1.6h0m1.1-3.5h0m.1-.5h0m.8 .8h0m1.8-.7h0m1.5 .4h0m11.5 .9h0m17.6-.7h0m1.1 .3h0m.8 1.9h0m2.1-1.7h0m1.1 3.2h0m.7-4.9h0m.9 3.3h0m.2 1h0m.8 1.1h0m.2-5.4h0m.7 3.4h0m.9 1.2h0m.5-2.4h0m.4 .5h0m.8 1.9h0m.1-2.8h0m.4 0h0m.3 1.8h0m.8-2.4h0m.9 .2h0m1.3-1.6h0m.2 .1h0m.1 2.7h0m.1 .1h0m22.6-1h0m10.7-1.9h0m.2 .8h0m.1-.4h0m.3 .2h0m.4 3.7h0m.2-4.2h0m.1 .7h0m0 3.9h0m.3-.9h0m.2-2.9h0m0 1.4h0m.8 2.7h0m0 .6h0m.1-2.9h0m.6 2.7h0m0-2.2h0m.1 2.2h0m.1-2.4h0m0 2.4h0m.2-.7h0m.5-2.3h0m.3 1.4h0m.6 1.8h0m.2-5.8h0m.1 1.2h0m.5 1.5h0m.3 2.4h0m.3-1.5h0m.6 .3h0m.7-.5h0m.5 .7h0m.7-1.3h0m0-1.2h0m.1 3.1h0m.1-2.6h0m.5 1.7h0m.7-.6h0m.3 1.4h0m.7-2.7h0m-562 5h0m2-.7h0m.2 1.4h0m1.1-1.3h0m1.5-.2h0m2.1 .7h0m.8-.7h0m.2 4.4h0m1.2-3.6h0m1.4 .1h0m1.1 2.8h0m.8-3.2h0m.2 0h0m2.3 2.4h0m1.4 0h0m.3 .9h0m2.1-.8h0m2.3-.6h0m.4 2.3h0m0 0h0m2.9-2.4h0m0 3.1h0m0 .2h0m.2-2.5h0m0-1.3h0m2.1 2.4h0m.7-3.3h0m1 .8h0m.1 1.9h0m.1-3.4h0m1.6 4h0m.4-2.4h0m1-2h0m.2 3.7h0m.1-3.2h0m10.2 2h0m26.4-.1h0m2.1-.9h0m5.6 1.3h0m1.4 1.5h0m1.9 .5h0m.7-4.3h0m2.8 .6h0m2.7 1.2h0m3.5 .9h0m.5 2.3h0m.3-1.2h0m.6-.5h0m1.7 1.9h0m.4-2.6h0m0 2.8h0m1.3-.1h0m.4-3.7h0m0 1.1h0m1-.8h0m1.3 3.3h0m.3-.2h0m1.1-1.4h0m2.4-.5h0m1.2-2.3h0m.8 4.7h0m2.3-2.4h0m.3 1.9h0m.9 .4h0m0-2.1h0m5.6-1.2h0m.7 3.4h0m2.1-3.5h0m0 3.1h0m1.7-3.7h0m.1 3.1h0m.8 1h0m0-3.4h0m.2 3h0m.6-5.2h0m.2 1.8h0m.1 .2h0m.2 1.3h0m.1-2.4h0m.7 4.1h0m.8-.1h0m107.8-4.6h0m5.4 5.1h0m20.4-3.1h0m65.2 2.9h0m1.5-5h0m.3 1.2h0m2.5-.7h0m.5 1.6h0m1.2-1.2h0m.2 .9h0m1 .4h0m.4-1.9h0m.1 1.2h0m.9-.3h0m.9-1.6h0m2.6 5.3h0m1.2-3h0m.6-1.4h0m2.7-.4h0m1.1 1.7h0m1.1 0h0m2.5-1.5h0m1.8 4.8h0m.1-4.1h0m.2 1h0m3 2.1h0m66.2-2.7h0m1.4-1.1h0m1.6 1.3h0m1.6-1.8h0m2 4.8h0m.6-3.9h0m2.8 4.5h0m.2-1.8h0m.3 1.5h0m.1-3.5h0m.3 0h0m1.4 3.4h0m1-2.7h0m.6 .7h0m1.2-2.3h0m2.1 0h0m.1 .5h0m1.3 2.7h0m.2-3.5h0m.9 1.9h0m.3 1.6h0m.9-2.8h0m.6-1.5h0m.8 1.1h0m.1-.4h0m1.4 .4h0m.5-.2h0m.2 2.3h0m.4 1.2h0m.2-2.1h0m.6 1.3h0m.1 1h0m.4-2.4h0m.1 1.3h0m.3-.8h0m.4-1.4h0m.3 1.7h0m.9-1.2h0m.4-.8h0m.3 .3h0m.1 4.7h0m.1-4.5h0m.2-.8h0m.1 .6h0m1 .3h0m.3 1.4h0m.8-1.1h0m.6 .7h0m.1-.7h0m.1-1.6h0m0 2.5h0m.1-2.4h0m.1-.4h0m.1 3h0m.3 1.5h0m.7-2.5h0m.2-.2h0m.1 3.3h0m.3-3.1h0m0-1.6h0m.5 2h0m.3-1.6h0m.7 0h0m1.1 1.5h0m.7 .8h0m.1-2.9h0m.5 3.8h0m.6-1.1h0m0 0h0m.4-2.5h0m1 .6h0m.5 1.4h0m1 2.6h0m1.8-2.8h0m.6-1.2h0m0 0h0m.9 2.4h0m.1-.8h0m1.2 .6h0m.9 .8h0m.1 1.1h0m.5-1.9h0m.3-2.6h0m.2 4.4h0m.5-1.5h0m.6-.8h0m.3-1h0m.9 1.8h0m.1 .3h0m.2-1.2h0m.8 0h0m.2-1.9h0m0-.1h0m.1 2.4h0m1.3-.2h0m.2-2.6h0m.9 .4h0m.1 1.5h0m.2-1.9h0m1.2 .8h0m4.1-.1h0m1.1 2h0m1.8 2.9h0m1.1-1.1h0m2.8-3.3h0m1.2 2.8h0m11.6-3.9h0m13.4 .9h0m1.1 .5h0m.8 .4h0m1-.5h0m4.2 2.5h0m.7-2.7h0m2.5 1.1h0m.7 1.2h0m.1-1.4h0m.6 3.7h0m1.9-2.9h0m2.2 2.6h0m.2-4.7h0m.2-.2h0m.6 4.3h0m.2-.1h0m.2-4.8h0m0 5.3h0m.6-2.8h0m.2 1.7h0m.1-1h0m1.2 0h0m.5 2.4h0m0-1.3h0m.7 .2h0m1.2-3.2h0m2.8 .3h0m4.3 2.1h0m1.3 .2h0m.5-1.7h0m1.7-1.1h0m1 .4h0m.3-.2h0m.3 .2h0m.5 .1h0m.8 2.2h0m.8-2.5h0m.1 3.5h0m.3-2.5h0m.8 2.1h0m4.3 .1h0m4.3 0h0m.4-.7h0m0 .1h0m.4-1.2h0m0-1.2h0m.6 .7h0m.1-.8h0m0 1.3h0m.5-1.9h0m.1-.9h0m0 1.5h0m.3 1.2h0m.1-2h0m.1 2h0m.1 1.5h0m0-2.9h0m.1 4h0m0 .4h0m.1-5.3h0m.2 4.3h0m.4 .6h0m.2-.5h0m0-2.2h0m.4 1.6h0m0-1.2h0m.1 1.2h0m.5-2h0m.5-.1h0m.3 1.9h0m.4 .5h0m.4-3h0m.1 1.8h0m0-.3h0m.6 1.7h0m.5 1.1h0m0-5.4h0m.3 5.2h0m.2-5h0m.5 3.9h0m.1-4.2h0m.6 2h0m.4 .8h0m.2-1.7h0m0 4.5h0m.4-.6h0m.2-2.2h0m.1 .9h0m.3-3.4h0m.5 3.4h0m.2 1.3h0m.2-4.4h0m.5 2.9h0m.2 .2h0m.6-2.4h0m.3 1.3h0m.8 1.9h0m5.4-3.2h0m2.5 .7h0m-560.1 7.1h0m6 1.1h0m9.9-3.5h0m9.2-.9h0m54.3 .1h0m2.6 1.4h0m.3-1.2h0m.8 3.6h0m.3-3.3h0m.8-.2h0m.6 .4h0m0 1.1h0m.8-.2h0m1 1.5h0m.4-.6h0m.9-2.7h0m.1 1.8h0m.4 .4h0m.1 3.4h0m0-2.5h0m.4-2.3h0m.4 1.1h0m.2 1.7h0m.3-1.4h0m1-1.5h0m.2 3.7h0m.1-2.8h0m1.1-1.4h0m.7 3.2h0m0 1.6h0m0-2.2h0m.5 2.7h0m2.6-1.4h0m.2-3h0m3.3 4.2h0m1.3-4h0m1.5 0h0m.4 1.9h0m.4-1.7h0m.5 .8h0m.8-.9h0m.1 4.4h0m.5-.1h0m0-4h0m.1 .4h0m.3 3.6h0m1-3.6h0m.1 3.4h0m1.2-4.7h0m2.4 5.1h0m.7-1.3h0m.1-2.7h0m8 3.6h0m5.5 .3h0m180.2-4.4h0m7.3-.1h0m18.2-.6h0m.6 2.1h0m3.5 .8h0m.9-2.8h0m69.5-.1h0m.6-.5h0m6 4h0m4.1-3.9h0m.1 .9h0m1 3.9h0m.1-1.8h0m5.8-1.1h0m2.1 2.9h0m.2 .3h0m.2-4.3h0m2.1 .9h0m1.1 3.6h0m.8-2.8h0m3.5 .9h0m2.1-2.9h0m1.7 2.1h0m2.8-2.4h0m3.5 0h0m1.4 .7h0m1.9 .5h0m0-1.3h0m0 1.2h0m4 2h0m2.7-3h0m.4 4.5h0m2.9 .2h0m2.5-3.8h0m2.3 3.2h0m.4-3.2h0m41.5 .6h0m8.1-1.8h0m2.4 1.1h0m.6 1.3h0m.3-1.4h0m1.2 2.3h0m.3-3.5h0m.5 2.2h0m.6 2.5h0m.3-3.6h0m1.9-1.2h0m.3 .6h0m1.9 4.4h0m1-2.1h0m.2 0h0m.4-.1h0m1.1 1.5h0m1.9-1.7h0m.4-1.9h0m.1 4.2h0m.1 .2h0m1.3-3.6h0m1.4 4.1h0m.7-4.1h0m2.6 3.2h0m0-2.1h0m1.6-.4h0m2.1 2.4h0m.1-.6h0m.5-.7h0m0 2.5h0m1-3.9h0m.1 .2h0m.1-.7h0m.4 2.5h0m.6 .9h0m.3-4h0m.1 3.7h0m.1-2.4h0m0 2.7h0m.3-3.5h0m.1 .3h0m.1 2.1h0m.5-1.4h0m.6 .7h0m.2-.8h0m.1-.7h0m.3 1.8h0m0-1h0m.9 1.2h0m.1-2.2h0m.6 3.2h0m.1-.3h0m.2-3.9h0m.5 2.8h0m0-2.4h0m.1 .5h0m.4 3h0m0 .4h0m.1-1.6h0m.2 .4h0m0-.4h0m.3-2.2h0m.1-.7h0m.5 2h0m.8-.9h0m.1 1h0m.2-.6h0m.1-.3h0m.3 1.5h0m.2 .5h0m.1-.8h0m.7-2.1h0m.5-.2h0m.3 1.3h0m.2 0h0m.4 2.3h0m.8 1.2h0m.1-4.8h0m.6 4.3h0m.5-4.6h0m-484.3 8.1h0m14.8 .1h0m4.6 1.7h0m2-1.5h0m3.3-.8h0m1.3-1.2h0m4.8 2.1h0m2.2-1.9h0m.2 .4h0m2.2 1.4h0m.9-1.2h0m1.6 2.2h0m.3-.1h0m.9-1.9h0m1.7 2h0m.3-.9h0m.6-.5h0m.4-1h0m6.7 4.1h0m4.7-2.8h0m.4-1.4h0m10.6 2h0m2.7 .4h0m233.7 0h0m71.9-3.2h0m9.5 .6h0m66.2 2.7h0m.2 .4h0m.5-1.8h0m1.2-.9h0m1.2 .5h0m1.1 .7h0m1.5 .3h0m2.8-.9h0m.2-.4h0m.9 2.7h0m0-3.4h0m.4 1.3h0m1.2 .5h0m1.7 0h0m.1-1.8h0m.7 2h0m.6-.5h0m.4 2.1h0m1-3.8h0m.1 .8h0m1.2 4.7h0m.3-3.7h0m1 .8h0m.3-2.8h0m.6 3.2h0m.5-3.2h0m.1 3.1h0m2.6 2.1h0m.6-.3h0m.4-2.5h0m.3-.8h0m.5 3h0m.3-3.8h0m.9 1.9h0m.2 1.2h0m.3 .1h0m0-3.5h0m.6 1.4h0m3.1 2.9h0m.4 0h0m.7-.9h0m1.8-1h0m7.9-2.3h0m6 1.8h0m-474.8 4.1h0m370.8-.3h0m73 2.9h0m1-.8h0m7.5-.6h0m4.1 1.4h0m6.3-2h0m9.7-.1h0" stroke="#000" stroke-width="1.9" stroke-linecap="round" fill="none"/></g><rect x="37.50" y="1.00" width="220.25" height="356.50" fill="none" stroke="#000" stroke-width="1.1"/><rect x="257.75" y="1.00" width="220.55" height="356.50" fill="none" stroke="#000" stroke-width="1.1"/><rect x="478.30" y="1.00" width="220.30" height="356.50" fill="none" stroke="#000" stroke-width="1.1"/><path d="M63.93 357.50v-6.3M63.93 1.00v6.3M107.98 357.50v-6.3M107.98 1.00v6.3M152.03 357.50v-6.3M152.03 1.00v6.3M196.08 357.50v-6.3M196.08 1.00v6.3M240.13 357.50v-6.3M240.13 1.00v6.3M37.50 54.30h6.3M257.75 54.30h-6.3M37.50 116.80h6.3M257.75 116.80h-6.3M37.50 179.30h6.3M257.75 179.30h-6.3M37.50 241.80h6.3M257.75 241.80h-6.3M37.50 304.30h6.3M257.75 304.30h-6.3M284.22 357.50v-6.3M284.22 1.00v6.3M328.33 357.50v-6.3M328.33 1.00v6.3M372.44 357.50v-6.3M372.44 1.00v6.3M416.55 357.50v-6.3M416.55 1.00v6.3M460.66 357.50v-6.3M460.66 1.00v6.3M257.75 54.30h6.3M478.30 54.30h-6.3M257.75 116.80h6.3M478.30 116.80h-6.3M257.75 179.30h6.3M478.30 179.30h-6.3M257.75 241.80h6.3M478.30 241.80h-6.3M257.75 304.30h6.3M478.30 304.30h-6.3M504.74 357.50v-6.3M504.74 1.00v6.3M548.80 357.50v-6.3M548.80 1.00v6.3M592.86 357.50v-6.3M592.86 1.00v6.3M636.92 357.50v-6.3M636.92 1.00v6.3M680.98 357.50v-6.3M680.98 1.00v6.3M478.30 54.30h6.3M698.60 54.30h-6.3M478.30 116.80h6.3M698.60 116.80h-6.3M478.30 179.30h6.3M698.60 179.30h-6.3M478.30 241.80h6.3M698.60 241.80h-6.3M478.30 304.30h6.3M698.60 304.30h-6.3" stroke="#000" stroke-width="1.1" fill="none"/><path d="M46.31 357.50v-3.3M46.31 1.00v3.3M55.12 357.50v-3.3M55.12 1.00v3.3M72.74 357.50v-3.3M72.74 1.00v3.3M81.55 357.50v-3.3M81.55 1.00v3.3M90.36 357.50v-3.3M90.36 1.00v3.3M99.17 357.50v-3.3M99.17 1.00v3.3M116.79 357.50v-3.3M116.79 1.00v3.3M125.60 357.50v-3.3M125.60 1.00v3.3M134.41 357.50v-3.3M134.41 1.00v3.3M143.22 357.50v-3.3M143.22 1.00v3.3M160.84 357.50v-3.3M160.84 1.00v3.3M169.65 357.50v-3.3M169.65 1.00v3.3M178.46 357.50v-3.3M178.46 1.00v3.3M187.27 357.50v-3.3M187.27 1.00v3.3M204.89 357.50v-3.3M204.89 1.00v3.3M213.70 357.50v-3.3M213.70 1.00v3.3M222.51 357.50v-3.3M222.51 1.00v3.3M231.32 357.50v-3.3M231.32 1.00v3.3M248.94 357.50v-3.3M248.94 1.00v3.3M37.50 7.42h3.3M257.75 7.42h-3.3M37.50 23.05h3.3M257.75 23.05h-3.3M37.50 38.67h3.3M257.75 38.67h-3.3M37.50 69.92h3.3M257.75 69.92h-3.3M37.50 85.55h3.3M257.75 85.55h-3.3M37.50 101.17h3.3M257.75 101.17h-3.3M37.50 132.43h3.3M257.75 132.43h-3.3M37.50 148.05h3.3M257.75 148.05h-3.3M37.50 163.68h3.3M257.75 163.68h-3.3M37.50 194.93h3.3M257.75 194.93h-3.3M37.50 210.55h3.3M257.75 210.55h-3.3M37.50 226.18h3.3M257.75 226.18h-3.3M37.50 257.43h3.3M257.75 257.43h-3.3M37.50 273.05h3.3M257.75 273.05h-3.3M37.50 288.68h3.3M257.75 288.68h-3.3M37.50 319.93h3.3M257.75 319.93h-3.3M37.50 335.55h3.3M257.75 335.55h-3.3M37.50 351.18h3.3M257.75 351.18h-3.3M266.57 357.50v-3.3M266.57 1.00v3.3M275.39 357.50v-3.3M275.39 1.00v3.3M293.04 357.50v-3.3M293.04 1.00v3.3M301.86 357.50v-3.3M301.86 1.00v3.3M310.68 357.50v-3.3M310.68 1.00v3.3M319.50 357.50v-3.3M319.50 1.00v3.3M337.15 357.50v-3.3M337.15 1.00v3.3M345.97 357.50v-3.3M345.97 1.00v3.3M354.79 357.50v-3.3M354.79 1.00v3.3M363.61 357.50v-3.3M363.61 1.00v3.3M381.26 357.50v-3.3M381.26 1.00v3.3M390.08 357.50v-3.3M390.08 1.00v3.3M398.90 357.50v-3.3M398.90 1.00v3.3M407.72 357.50v-3.3M407.72 1.00v3.3M425.37 357.50v-3.3M425.37 1.00v3.3M434.19 357.50v-3.3M434.19 1.00v3.3M443.01 357.50v-3.3M443.01 1.00v3.3M451.83 357.50v-3.3M451.83 1.00v3.3M469.48 357.50v-3.3M469.48 1.00v3.3M257.75 7.42h3.3M478.30 7.42h-3.3M257.75 23.05h3.3M478.30 23.05h-3.3M257.75 38.67h3.3M478.30 38.67h-3.3M257.75 69.92h3.3M478.30 69.92h-3.3M257.75 85.55h3.3M478.30 85.55h-3.3M257.75 101.17h3.3M478.30 101.17h-3.3M257.75 132.43h3.3M478.30 132.43h-3.3M257.75 148.05h3.3M478.30 148.05h-3.3M257.75 163.68h3.3M478.30 163.68h-3.3M257.75 194.93h3.3M478.30 194.93h-3.3M257.75 210.55h3.3M478.30 210.55h-3.3M257.75 226.18h3.3M478.30 226.18h-3.3M257.75 257.43h3.3M478.30 257.43h-3.3M257.75 273.05h3.3M478.30 273.05h-3.3M257.75 288.68h3.3M478.30 288.68h-3.3M257.75 319.93h3.3M478.30 319.93h-3.3M257.75 335.55h3.3M478.30 335.55h-3.3M257.75 351.18h3.3M478.30 351.18h-3.3M487.11 357.50v-3.3M487.11 1.00v3.3M495.92 357.50v-3.3M495.92 1.00v3.3M513.55 357.50v-3.3M513.55 1.00v3.3M522.36 357.50v-3.3M522.36 1.00v3.3M531.17 357.50v-3.3M531.17 1.00v3.3M539.98 357.50v-3.3M539.98 1.00v3.3M557.61 357.50v-3.3M557.61 1.00v3.3M566.42 357.50v-3.3M566.42 1.00v3.3M575.23 357.50v-3.3M575.23 1.00v3.3M584.04 357.50v-3.3M584.04 1.00v3.3M601.67 357.50v-3.3M601.67 1.00v3.3M610.48 357.50v-3.3M610.48 1.00v3.3M619.29 357.50v-3.3M619.29 1.00v3.3M628.10 357.50v-3.3M628.10 1.00v3.3M645.73 357.50v-3.3M645.73 1.00v3.3M654.54 357.50v-3.3M654.54 1.00v3.3M663.35 357.50v-3.3M663.35 1.00v3.3M672.16 357.50v-3.3M672.16 1.00v3.3M689.79 357.50v-3.3M689.79 1.00v3.3M478.30 7.42h3.3M698.60 7.42h-3.3M478.30 23.05h3.3M698.60 23.05h-3.3M478.30 38.67h3.3M698.60 38.67h-3.3M478.30 69.92h3.3M698.60 69.92h-3.3M478.30 85.55h3.3M698.60 85.55h-3.3M478.30 101.17h3.3M698.60 101.17h-3.3M478.30 132.43h3.3M698.60 132.43h-3.3M478.30 148.05h3.3M698.60 148.05h-3.3M478.30 163.68h3.3M698.60 163.68h-3.3M478.30 194.93h3.3M698.60 194.93h-3.3M478.30 210.55h3.3M698.60 210.55h-3.3M478.30 226.18h3.3M698.60 226.18h-3.3M478.30 257.43h3.3M698.60 257.43h-3.3M478.30 273.05h3.3M698.60 273.05h-3.3M478.30 288.68h3.3M698.60 288.68h-3.3M478.30 319.93h3.3M698.60 319.93h-3.3M478.30 335.55h3.3M698.60 335.55h-3.3M478.30 351.18h3.3M698.60 351.18h-3.3" stroke="#000" stroke-width="0.8" fill="none"/><g font-family='"Liberation Sans", sans-serif' font-size="14" fill="#000"><text x="32.9" y="59.30" text-anchor="end" textLength="16.9" lengthAdjust="spacingAndGlyphs">16</text><text x="32.9" y="121.80" text-anchor="end" textLength="16.9" lengthAdjust="spacingAndGlyphs">18</text><text x="32.9" y="184.30" text-anchor="end" textLength="16.9" lengthAdjust="spacingAndGlyphs">20</text><text x="32.9" y="246.80" text-anchor="end" textLength="16.9" lengthAdjust="spacingAndGlyphs">22</text><text x="32.9" y="309.30" text-anchor="end" textLength="16.9" lengthAdjust="spacingAndGlyphs">24</text><text x="63.63" y="371.6" text-anchor="middle" textLength="20.5" lengthAdjust="spacingAndGlyphs">−1</text><text x="107.98" y="371.6" text-anchor="middle" textLength="8.84" lengthAdjust="spacingAndGlyphs">0</text><text x="152.03" y="371.6" text-anchor="middle" textLength="8.84" lengthAdjust="spacingAndGlyphs">1</text><text x="196.08" y="371.6" text-anchor="middle" textLength="8.84" lengthAdjust="spacingAndGlyphs">2</text><text x="240.13" y="371.6" text-anchor="middle" textLength="8.84" lengthAdjust="spacingAndGlyphs">3</text><text x="283.92" y="371.6" text-anchor="middle" textLength="20.5" lengthAdjust="spacingAndGlyphs">−1</text><text x="328.33" y="371.6" text-anchor="middle" textLength="8.84" lengthAdjust="spacingAndGlyphs">0</text><text x="372.44" y="371.6" text-anchor="middle" textLength="8.84" lengthAdjust="spacingAndGlyphs">1</text><text x="416.55" y="371.6" text-anchor="middle" textLength="8.84" lengthAdjust="spacingAndGlyphs">2</text><text x="460.66" y="371.6" text-anchor="middle" textLength="8.84" lengthAdjust="spacingAndGlyphs">3</text><text x="504.44" y="371.6" text-anchor="middle" textLength="20.5" lengthAdjust="spacingAndGlyphs">−1</text><text x="548.80" y="371.6" text-anchor="middle" textLength="8.84" lengthAdjust="spacingAndGlyphs">0</text><text x="592.86" y="371.6" text-anchor="middle" textLength="8.84" lengthAdjust="spacingAndGlyphs">1</text><text x="636.92" y="371.6" text-anchor="middle" textLength="8.84" lengthAdjust="spacingAndGlyphs">2</text><text x="680.98" y="371.6" text-anchor="middle" textLength="8.84" lengthAdjust="spacingAndGlyphs">3</text></g><g font-family='"Liberation Sans", sans-serif' fill="#000"><text x="88.92" y="388.8" font-size="16">m</text><text x="103.03" y="390.7" font-size="10.5" textLength="35.0" lengthAdjust="spacingAndGlyphs">F275W</text><text x="147.78" y="388.8" font-size="16" text-anchor="middle" textLength="11.6" lengthAdjust="spacingAndGlyphs">−</text><text x="156.22" y="388.8" font-size="16">m</text><text x="170.03" y="390.7" font-size="10.5" textLength="35.0" lengthAdjust="spacingAndGlyphs">F336W</text><text x="309.32" y="388.8" font-size="16">m</text><text x="323.42" y="390.7" font-size="10.5" textLength="35.0" lengthAdjust="spacingAndGlyphs">F275W</text><text x="368.17" y="388.8" font-size="16" text-anchor="middle" textLength="11.6" lengthAdjust="spacingAndGlyphs">−</text><text x="376.62" y="388.8" font-size="16">m</text><text x="390.42" y="390.7" font-size="10.5" textLength="35.0" lengthAdjust="spacingAndGlyphs">F336W</text><text x="529.75" y="388.8" font-size="16">m</text><text x="543.85" y="390.7" font-size="10.5" textLength="35.0" lengthAdjust="spacingAndGlyphs">F275W</text><text x="588.60" y="388.8" font-size="16" text-anchor="middle" textLength="11.6" lengthAdjust="spacingAndGlyphs">−</text><text x="597.05" y="388.8" font-size="16">m</text><text x="610.85" y="390.7" font-size="10.5" textLength="35.0" lengthAdjust="spacingAndGlyphs">F336W</text></g><g transform="translate(9.6 203.8) rotate(-90)" font-family='"Liberation Sans", sans-serif' fill="#000"><text x="0" y="0" font-size="16">m</text><text x="14.2" y="1.8999999999999773" font-size="10.5" textLength="35.0" lengthAdjust="spacingAndGlyphs">F275W</text></g></svg></body></html>
